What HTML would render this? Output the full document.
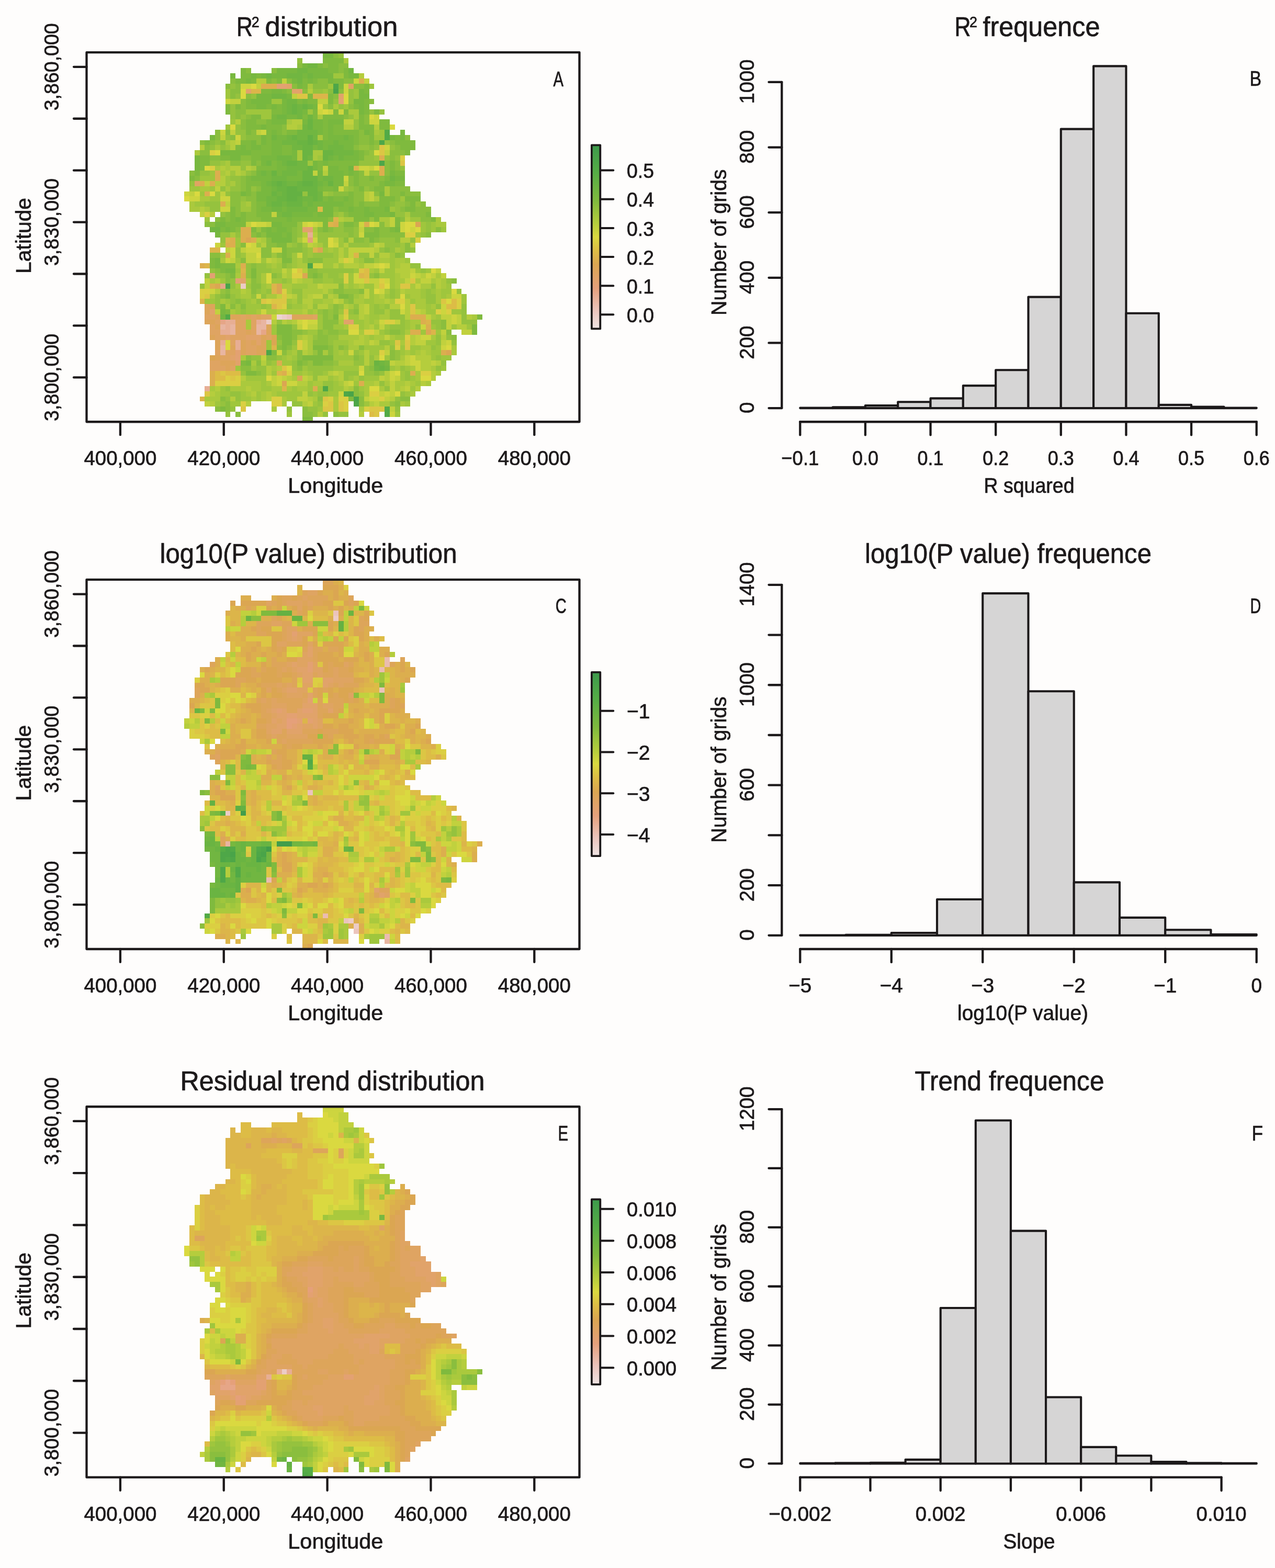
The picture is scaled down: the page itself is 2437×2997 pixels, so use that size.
<!DOCTYPE html><html><head><meta charset="utf-8"><title>Figure</title><style>html,body{margin:0;padding:0;background:#fefdfc}svg{display:block}text{font-family:"Liberation Sans", sans-serif;fill:#1c191a;stroke:#1c191a;stroke-width:0.7px;stroke-linejoin:round}</style></head><body>
<svg width="2437" height="2997" viewBox="0 0 2437 2997">
<rect width="2437" height="2997" fill="#fefdfc"/>
<g transform="translate(0,0)">
<clipPath id="cpa"><rect x="165.5" y="100.2" width="942.0" height="706.05"/></clipPath>
<g clip-path="url(#cpa)"><g transform="translate(352.05,100.9) scale(9.822,9.8)" shape-rendering="crispEdges">
<path fill="#ecd4d0" d="M18 51h1v1h-1z"/>
<path fill="#ecccc6" d="M11 45h1v1h-1zM19 51h1v1h-1zM16 52h1v1h-1z"/>
<path fill="#ebc4bc" d="M20 51h1v1h-1z"/>
<path fill="#e8b5a1" d="M15 52h1v1h-1zM7 53h1v1h-1zM9 53h1v1h-1zM14 53h2v1h-2zM9 54h1v1h-1zM14 54h1v1h-1zM7 57h1v1h-1zM7 58h1v1h-1z"/>
<path fill="#e7ae94" d="M24 35h1v1h-1zM8 52h2v1h-2zM14 52h1v1h-1zM8 53h1v1h-1zM7 54h2v1h-2zM7 56h1v1h-1zM10 56h1v1h-1zM10 57h1v1h-1zM4 65h1v1h-1z"/>
<path fill="#e6a687" d="M7 45h1v1h-1zM7 52h1v1h-1zM15 54h1v1h-1z"/>
<path fill="#e5a07a" d="M24 36h1v1h-1z"/>
<path fill="#e3a172" d="M18 6h2v1h-2zM30 9h1v1h-1zM24 34h1v1h-1zM5 43h1v1h-1zM10 44h1v1h-1zM10 58h1v1h-1zM10 59h1v1h-1z"/>
<path fill="#e1a36a" d="M20 6h1v1h-1zM12 7h1v1h-1zM21 7h2v1h-2zM30 8h1v1h-1zM23 34h1v1h-1zM11 44h1v1h-1zM5 50h1v1h-1zM31 52h2v1h-2zM8 55h1v1h-1zM12 55h3v1h-3zM14 56h1v1h-1zM9 59h1v1h-1zM10 60h1v1h-1z"/>
<path fill="#dfa462" d="M32 6h1v1h-1zM2 25h1v1h-1zM4 51h2v1h-2zM11 51h1v1h-1zM13 51h1v1h-1zM15 51h2v1h-2zM25 51h1v1h-1zM6 52h1v1h-1zM10 52h2v1h-2zM13 52h1v1h-1zM5 53h1v1h-1zM10 53h2v1h-2zM13 53h1v1h-1zM5 54h2v1h-2zM10 54h2v1h-2zM13 54h1v1h-1zM6 55h2v1h-2zM9 55h3v1h-3zM16 55h1v1h-1zM9 56h1v1h-1zM12 56h1v1h-1zM12 57h2v1h-2zM6 58h1v1h-1zM8 58h2v1h-2zM12 58h2v1h-2zM7 59h2v1h-2zM5 60h2v1h-2zM5 61h3v1h-3zM9 61h1v1h-1z"/>
<path fill="#dda55a" d="M4 49h2v1h-2zM4 50h1v1h-1zM6 51h1v1h-1zM9 51h2v1h-2zM12 51h1v1h-1zM14 51h1v1h-1zM21 51h4v1h-4zM4 52h2v1h-2zM6 53h1v1h-1zM16 53h1v1h-1zM12 54h1v1h-1zM16 54h1v1h-1zM5 55h1v1h-1zM15 55h1v1h-1zM6 56h1v1h-1zM11 56h1v1h-1zM13 56h1v1h-1zM15 56h1v1h-1zM6 57h1v1h-1zM9 57h1v1h-1zM11 57h1v1h-1zM14 57h2v1h-2zM11 58h1v1h-1zM14 58h2v1h-2zM6 59h1v1h-1zM7 60h3v1h-3zM8 61h1v1h-1z"/>
<path fill="#dba652" d="M45 33h1v1h-1zM12 36h1v1h-1zM26 38h1v1h-1zM23 43h1v1h-1zM6 45h1v1h-1zM18 45h1v1h-1zM18 46h1v1h-1zM47 54h1v1h-1zM17 55h1v1h-1zM17 56h1v1h-1zM51 58h1v1h-1zM5 59h1v1h-1zM22 63h1v1h-1zM19 64h1v1h-1z"/>
<path fill="#dcae4e" d="M34 5h1v1h-1zM15 6h3v1h-3zM38 20h1v1h-1zM38 22h1v1h-1zM6 23h1v1h-1zM38 23h1v1h-1zM6 24h1v1h-1zM3 25h1v1h-1zM5 25h1v1h-1zM4 27h1v1h-1zM7 29h1v1h-1zM29 33h1v1h-1zM35 33h1v1h-1zM11 34h2v1h-2zM11 35h2v1h-2zM9 36h1v1h-1zM11 36h1v1h-1zM13 36h1v1h-1zM8 37h2v1h-2zM8 39h1v1h-1zM3 41h1v1h-1zM11 41h1v1h-1zM11 43h1v1h-1zM5 45h1v1h-1zM44 51h3v1h-3zM46 52h1v1h-1zM47 53h1v1h-1zM44 54h2v1h-2zM50 58h1v1h-1zM18 60h1v1h-1zM5 62h1v1h-1zM19 62h1v1h-1zM44 62h1v1h-1zM5 63h1v1h-1zM5 64h1v1h-1zM34 64h1v1h-1zM25 65h1v1h-1z"/>
<path fill="#dcb54a" d="M13 7h2v1h-2zM25 8h3v1h-3zM33 22h1v1h-1zM29 32h1v1h-1zM28 33h1v1h-1zM8 36h1v1h-1zM5 38h2v1h-2zM25 38h1v1h-1zM33 39h1v1h-1zM4 41h1v1h-1zM11 42h1v1h-1zM34 43h1v1h-1zM17 45h1v1h-1zM17 46h1v1h-1zM3 48h1v1h-1zM17 49h1v1h-1zM47 52h1v1h-1zM48 54h1v1h-1zM17 57h1v1h-1zM18 62h1v1h-1zM19 65h1v1h-1zM3 67h1v1h-1z"/>
<path fill="#ddbc46" d="M26 30h1v1h-1zM35 42h1v1h-1zM35 43h1v1h-1zM52 48h1v1h-1zM51 49h2v1h-2zM6 62h1v1h-1zM8 62h3v1h-3zM6 63h2v1h-2zM36 70h1v1h-1z"/>
<path fill="#dcc644" d="M22 8h2v1h-2zM38 18h1v1h-1zM38 19h1v1h-1zM42 21h1v1h-1zM22 42h1v1h-1zM34 42h1v1h-1zM35 44h1v1h-1zM44 44h1v1h-1zM38 45h1v1h-1zM42 45h2v1h-2zM4 47h1v1h-1zM19 47h1v1h-1zM15 48h1v1h-1zM17 48h3v1h-3zM50 48h1v1h-1zM18 49h1v1h-1zM44 49h1v1h-1zM31 50h1v1h-1zM44 50h1v1h-1zM41 56h1v1h-1zM43 56h1v1h-1zM43 57h1v1h-1zM19 61h1v1h-1zM7 62h1v1h-1zM9 63h1v1h-1zM4 66h1v1h-1zM27 67h1v1h-1zM28 68h1v1h-1zM30 68h1v1h-1zM11 69h1v1h-1zM27 69h2v1h-2zM30 69h1v1h-1zM36 69h3v1h-3zM37 70h1v1h-1z"/>
<path fill="#dbcf42" d="M5 19h1v1h-1zM42 20h1v1h-1zM5 22h1v1h-1zM4 31h1v1h-1zM43 35h2v1h-2zM45 36h1v1h-1zM31 40h1v1h-1zM21 43h2v1h-2zM31 43h1v1h-1zM31 44h1v1h-1zM38 44h1v1h-1zM3 46h2v1h-2zM19 46h1v1h-1zM3 47h1v1h-1zM16 48h1v1h-1zM41 48h2v1h-2zM53 48h1v1h-1zM19 49h1v1h-1zM53 49h1v1h-1zM49 50h1v1h-1zM51 50h1v1h-1zM31 51h1v1h-1zM39 52h2v1h-2zM32 53h2v1h-2zM35 54h2v1h-2zM43 55h1v1h-1zM22 56h1v1h-1zM22 57h1v1h-1zM41 57h1v1h-1zM38 58h1v1h-1zM20 62h1v1h-1zM46 62h2v1h-2zM8 63h1v1h-1zM10 63h1v1h-1zM6 64h5v1h-5zM36 66h2v1h-2zM17 67h2v1h-2zM28 67h1v1h-1zM30 67h2v1h-2zM38 67h1v1h-1zM11 68h1v1h-1zM17 68h2v1h-2zM27 68h1v1h-1zM31 68h1v1h-1zM31 69h1v1h-1zM35 69h1v1h-1z"/>
<path fill="#dad940" d="M13 6h1v1h-1zM11 7h1v1h-1zM11 8h1v1h-1zM31 8h1v1h-1zM31 9h1v1h-1zM26 10h1v1h-1zM27 11h1v1h-1zM36 12h1v1h-1zM9 14h1v1h-1zM40 14h1v1h-1zM6 19h1v1h-1zM37 19h1v1h-1zM4 22h1v1h-1zM37 22h1v1h-1zM2 27h1v1h-1zM5 27h1v1h-1zM0 28h1v1h-1zM13 33h1v1h-1zM24 33h1v1h-1zM36 33h1v1h-1zM43 33h2v1h-2zM43 34h1v1h-1zM45 34h1v1h-1zM28 36h1v1h-1zM12 37h1v1h-1zM28 37h1v1h-1zM14 39h1v1h-1zM38 41h1v1h-1zM21 42h1v1h-1zM48 42h1v1h-1zM16 43h1v1h-1zM16 44h1v1h-1zM39 45h1v1h-1zM37 46h1v1h-1zM52 46h1v1h-1zM42 47h1v1h-1zM51 48h1v1h-1zM42 49h1v1h-1zM23 52h1v1h-1zM23 53h1v1h-1zM32 54h2v1h-2zM8 56h1v1h-1zM8 57h1v1h-1zM51 57h1v1h-1zM38 59h1v1h-1zM20 61h1v1h-1zM34 62h1v1h-1zM41 62h1v1h-1zM16 63h1v1h-1zM46 63h2v1h-2zM36 65h2v1h-2zM41 66h1v1h-1z"/>
<path fill="#cdd53f" d="M33 5h1v1h-1zM11 6h2v1h-2zM31 6h1v1h-1zM31 7h1v1h-1zM8 9h1v1h-1zM26 11h1v1h-1zM28 11h1v1h-1zM30 11h1v1h-1zM37 12h1v1h-1zM36 13h2v1h-2zM7 15h1v1h-1zM15 15h1v1h-1zM10 16h1v1h-1zM39 18h1v1h-1zM34 22h2v1h-2zM31 24h1v1h-1zM30 26h1v1h-1zM0 27h1v1h-1zM1 28h2v1h-2zM7 28h2v1h-2zM7 30h2v1h-2zM14 33h2v1h-2zM23 33h1v1h-1zM25 33h1v1h-1zM34 33h1v1h-1zM37 33h1v1h-1zM42 33h1v1h-1zM42 34h1v1h-1zM44 34h1v1h-1zM34 35h1v1h-1zM23 36h1v1h-1zM25 36h1v1h-1zM6 37h1v1h-1zM13 37h1v1h-1zM29 37h1v1h-1zM9 38h1v1h-1zM12 38h3v1h-3zM17 38h2v1h-2zM9 39h1v1h-1zM22 39h1v1h-1zM8 40h1v1h-1zM14 40h1v1h-1zM32 40h1v1h-1zM25 41h2v1h-2zM37 41h1v1h-1zM39 41h1v1h-1zM33 43h1v1h-1zM44 43h1v1h-1zM47 43h1v1h-1zM33 44h2v1h-2zM39 44h1v1h-1zM5 46h1v1h-1zM38 46h1v1h-1zM14 47h1v1h-1zM52 47h2v1h-2zM50 49h1v1h-1zM15 50h1v1h-1zM42 50h1v1h-1zM50 50h1v1h-1zM17 51h1v1h-1zM52 51h1v1h-1zM22 52h1v1h-1zM24 52h2v1h-2zM38 52h1v1h-1zM52 52h1v1h-1zM46 53h1v1h-1zM46 55h2v1h-2zM51 56h1v1h-1zM50 57h1v1h-1zM18 58h1v1h-1zM32 58h1v1h-1zM44 59h1v1h-1zM44 60h2v1h-2zM34 61h1v1h-1zM45 61h1v1h-1zM40 62h1v1h-1zM18 63h1v1h-1zM40 63h1v1h-1zM18 64h1v1h-1zM20 64h2v1h-2zM32 64h1v1h-1zM30 66h1v1h-1zM39 66h1v1h-1zM36 67h2v1h-2zM40 70h1v1h-1z"/>
<path fill="#c1d13e" d="M19 5h1v1h-1zM35 5h1v1h-1zM14 6h1v1h-1zM21 8h1v1h-1zM9 9h2v1h-2zM26 9h2v1h-2zM31 13h2v1h-2zM9 15h1v1h-1zM14 15h1v1h-1zM7 16h1v1h-1zM10 17h1v1h-1zM39 19h1v1h-1zM27 22h1v1h-1zM36 22h1v1h-1zM25 23h1v1h-1zM35 23h1v1h-1zM4 25h1v1h-1zM31 25h1v1h-1zM6 26h1v1h-1zM1 27h1v1h-1zM7 27h1v1h-1zM36 27h1v1h-1zM36 28h1v1h-1zM8 29h1v1h-1zM3 31h1v1h-1zM17 31h1v1h-1zM40 32h1v1h-1zM12 33h1v1h-1zM16 33h1v1h-1zM26 33h1v1h-1zM40 33h1v1h-1zM34 34h1v1h-1zM29 36h1v1h-1zM24 37h1v1h-1zM37 37h1v1h-1zM8 38h1v1h-1zM11 38h1v1h-1zM32 38h5v1h-5zM12 39h2v1h-2zM32 39h1v1h-1zM36 39h1v1h-1zM9 40h1v1h-1zM12 40h2v1h-2zM16 40h1v1h-1zM30 40h1v1h-1zM35 41h2v1h-2zM19 42h1v1h-1zM38 42h1v1h-1zM44 42h1v1h-1zM49 42h1v1h-1zM45 43h1v1h-1zM48 43h1v1h-1zM50 43h1v1h-1zM4 44h1v1h-1zM21 44h1v1h-1zM36 44h2v1h-2zM43 44h1v1h-1zM46 44h2v1h-2zM4 45h1v1h-1zM26 45h1v1h-1zM37 45h1v1h-1zM45 45h1v1h-1zM35 46h1v1h-1zM18 47h1v1h-1zM20 47h1v1h-1zM25 47h2v1h-2zM35 47h1v1h-1zM29 48h1v1h-1zM35 49h1v1h-1zM6 50h1v1h-1zM35 50h1v1h-1zM45 50h1v1h-1zM47 51h1v1h-1zM50 51h2v1h-2zM53 51h1v1h-1zM41 52h1v1h-1zM51 52h1v1h-1zM53 52h1v1h-1zM22 53h1v1h-1zM24 53h2v1h-2zM38 53h1v1h-1zM51 53h1v1h-1zM37 54h1v1h-1zM50 54h1v1h-1zM54 54h2v1h-2zM39 55h1v1h-1zM45 55h1v1h-1zM23 56h1v1h-1zM36 56h1v1h-1zM45 56h2v1h-2zM50 56h1v1h-1zM23 57h1v1h-1zM39 58h1v1h-1zM15 59h1v1h-1zM43 59h1v1h-1zM40 60h1v1h-1zM43 60h1v1h-1zM48 60h1v1h-1zM29 62h1v1h-1zM17 63h1v1h-1zM19 63h1v1h-1zM23 63h1v1h-1zM38 63h1v1h-1zM41 63h1v1h-1zM17 64h1v1h-1zM31 64h1v1h-1zM40 64h1v1h-1zM40 65h1v1h-1zM43 65h1v1h-1zM23 66h1v1h-1zM38 66h1v1h-1zM40 66h1v1h-1zM22 67h2v1h-2zM35 67h1v1h-1zM39 67h1v1h-1zM4 68h1v1h-1zM24 68h1v1h-1zM37 68h1v1h-1zM40 69h1v1h-1z"/>
<path fill="#b5cd3d" d="M34 4h1v1h-1zM14 5h2v1h-2zM24 7h1v1h-1zM10 13h1v1h-1zM21 13h2v1h-2zM20 14h2v1h-2zM31 14h2v1h-2zM37 14h1v1h-1zM9 17h1v1h-1zM3 18h1v1h-1zM9 18h1v1h-1zM7 22h1v1h-1zM9 22h2v1h-2zM12 22h1v1h-1zM8 23h1v1h-1zM10 23h1v1h-1zM27 23h1v1h-1zM7 24h1v1h-1zM6 25h2v1h-2zM35 27h1v1h-1zM35 28h1v1h-1zM3 30h1v1h-1zM5 31h1v1h-1zM30 32h1v1h-1zM43 32h1v1h-1zM23 35h1v1h-1zM25 35h1v1h-1zM14 36h1v1h-1zM32 36h1v1h-1zM42 36h2v1h-2zM15 37h1v1h-1zM25 37h1v1h-1zM31 37h1v1h-1zM38 37h1v1h-1zM44 37h1v1h-1zM30 38h1v1h-1zM37 38h1v1h-1zM30 39h1v1h-1zM38 39h2v1h-2zM17 40h1v1h-1zM29 41h1v1h-1zM31 41h3v1h-3zM42 41h2v1h-2zM23 42h1v1h-1zM41 42h3v1h-3zM19 43h1v1h-1zM42 43h2v1h-2zM46 43h1v1h-1zM6 44h1v1h-1zM22 44h1v1h-1zM49 44h1v1h-1zM27 45h3v1h-3zM34 45h1v1h-1zM49 45h1v1h-1zM6 46h1v1h-1zM11 46h1v1h-1zM27 46h1v1h-1zM42 46h1v1h-1zM21 47h1v1h-1zM24 47h1v1h-1zM28 47h1v1h-1zM38 47h1v1h-1zM23 48h2v1h-2zM30 48h1v1h-1zM39 48h1v1h-1zM43 48h1v1h-1zM24 49h1v1h-1zM26 49h2v1h-2zM31 49h1v1h-1zM34 49h1v1h-1zM40 49h2v1h-2zM43 49h1v1h-1zM18 50h2v1h-2zM23 50h1v1h-1zM34 50h1v1h-1zM43 50h1v1h-1zM46 50h1v1h-1zM30 51h1v1h-1zM34 51h1v1h-1zM43 51h1v1h-1zM55 51h1v1h-1zM17 52h1v1h-1zM19 52h1v1h-1zM21 52h1v1h-1zM36 53h1v1h-1zM53 53h2v1h-2zM23 55h1v1h-1zM34 55h1v1h-1zM44 55h1v1h-1zM50 55h1v1h-1zM33 56h2v1h-2zM37 56h1v1h-1zM44 56h1v1h-1zM39 57h1v1h-1zM23 58h1v1h-1zM35 58h1v1h-1zM46 58h1v1h-1zM35 59h1v1h-1zM45 59h3v1h-3zM15 60h1v1h-1zM35 60h1v1h-1zM41 60h2v1h-2zM46 60h2v1h-2zM49 60h1v1h-1zM16 61h1v1h-1zM18 61h1v1h-1zM46 61h2v1h-2zM16 62h1v1h-1zM28 62h1v1h-1zM30 62h1v1h-1zM39 62h1v1h-1zM48 62h1v1h-1zM11 63h1v1h-1zM20 63h1v1h-1zM24 63h1v1h-1zM26 63h2v1h-2zM30 63h1v1h-1zM39 63h1v1h-1zM48 63h1v1h-1zM22 64h2v1h-2zM37 64h1v1h-1zM43 64h1v1h-1zM46 64h1v1h-1zM6 65h1v1h-1zM12 65h1v1h-1zM31 65h1v1h-1zM42 65h1v1h-1zM45 65h1v1h-1zM5 66h1v1h-1zM13 66h1v1h-1zM16 66h1v1h-1zM9 67h1v1h-1zM16 67h1v1h-1zM24 67h1v1h-1zM40 67h1v1h-1zM5 68h1v1h-1zM12 68h1v1h-1zM23 68h1v1h-1zM36 68h1v1h-1zM26 70h1v1h-1zM34 70h1v1h-1z"/>
<path fill="#aac93d" d="M31 1h1v1h-1zM24 6h1v1h-1zM29 10h1v1h-1zM32 11h2v1h-2zM26 12h1v1h-1zM33 12h1v1h-1zM20 13h1v1h-1zM22 14h1v1h-1zM37 15h1v1h-1zM26 16h1v1h-1zM8 17h1v1h-1zM6 18h1v1h-1zM2 19h1v1h-1zM22 19h1v1h-1zM25 19h2v1h-2zM22 20h1v1h-1zM25 20h1v1h-1zM8 21h1v1h-1zM6 22h1v1h-1zM8 22h1v1h-1zM13 22h1v1h-1zM7 23h1v1h-1zM11 23h1v1h-1zM9 25h1v1h-1zM3 26h2v1h-2zM8 26h1v1h-1zM39 26h1v1h-1zM39 27h1v1h-1zM3 28h2v1h-2zM37 28h1v1h-1zM1 29h1v1h-1zM12 29h1v1h-1zM1 30h2v1h-2zM4 30h1v1h-1zM43 31h1v1h-1zM31 32h2v1h-2zM38 32h2v1h-2zM49 32h1v1h-1zM39 33h1v1h-1zM49 33h2v1h-2zM25 34h1v1h-1zM9 35h1v1h-1zM15 36h1v1h-1zM22 36h1v1h-1zM26 37h1v1h-1zM28 38h1v1h-1zM41 38h1v1h-1zM7 40h1v1h-1zM18 40h1v1h-1zM22 40h1v1h-1zM33 40h1v1h-1zM38 40h2v1h-2zM41 40h2v1h-2zM10 41h1v1h-1zM17 41h1v1h-1zM22 41h2v1h-2zM34 41h1v1h-1zM41 41h1v1h-1zM20 42h1v1h-1zM36 42h1v1h-1zM10 43h1v1h-1zM15 43h1v1h-1zM20 43h1v1h-1zM41 43h1v1h-1zM49 43h1v1h-1zM5 44h1v1h-1zM12 44h1v1h-1zM15 44h1v1h-1zM23 44h2v1h-2zM41 44h2v1h-2zM45 44h1v1h-1zM48 44h1v1h-1zM50 44h1v1h-1zM10 45h1v1h-1zM16 45h1v1h-1zM19 45h2v1h-2zM24 45h2v1h-2zM31 45h1v1h-1zM33 45h1v1h-1zM41 45h1v1h-1zM44 45h1v1h-1zM46 45h2v1h-2zM50 45h1v1h-1zM12 46h1v1h-1zM20 46h1v1h-1zM23 46h4v1h-4zM39 46h1v1h-1zM43 46h3v1h-3zM49 46h1v1h-1zM5 47h1v1h-1zM11 47h2v1h-2zM16 47h2v1h-2zM23 47h1v1h-1zM29 47h1v1h-1zM34 47h1v1h-1zM37 47h1v1h-1zM44 47h2v1h-2zM49 47h1v1h-1zM51 47h1v1h-1zM7 48h1v1h-1zM13 48h1v1h-1zM21 48h1v1h-1zM27 48h2v1h-2zM33 48h2v1h-2zM37 48h2v1h-2zM40 48h1v1h-1zM45 48h2v1h-2zM49 48h1v1h-1zM8 49h1v1h-1zM23 49h1v1h-1zM32 49h1v1h-1zM45 49h2v1h-2zM48 49h1v1h-1zM9 50h1v1h-1zM14 50h1v1h-1zM16 50h2v1h-2zM20 50h3v1h-3zM25 50h1v1h-1zM39 50h1v1h-1zM35 51h1v1h-1zM38 51h2v1h-2zM48 51h1v1h-1zM56 51h1v1h-1zM12 52h1v1h-1zM20 52h1v1h-1zM30 52h1v1h-1zM35 52h1v1h-1zM37 52h1v1h-1zM44 52h2v1h-2zM12 53h1v1h-1zM31 53h1v1h-1zM35 53h1v1h-1zM44 53h1v1h-1zM34 54h1v1h-1zM43 54h1v1h-1zM22 55h1v1h-1zM24 55h1v1h-1zM30 55h4v1h-4zM35 55h1v1h-1zM37 55h2v1h-2zM40 55h1v1h-1zM48 55h1v1h-1zM24 56h1v1h-1zM32 56h1v1h-1zM35 56h1v1h-1zM42 56h1v1h-1zM24 57h1v1h-1zM32 57h2v1h-2zM46 57h2v1h-2zM52 57h1v1h-1zM21 58h1v1h-1zM24 58h1v1h-1zM27 58h1v1h-1zM30 58h1v1h-1zM43 58h1v1h-1zM45 58h1v1h-1zM47 58h1v1h-1zM52 58h1v1h-1zM11 59h1v1h-1zM20 59h1v1h-1zM37 59h1v1h-1zM42 59h1v1h-1zM13 60h1v1h-1zM30 60h3v1h-3zM17 61h1v1h-1zM41 61h1v1h-1zM44 61h1v1h-1zM48 61h1v1h-1zM23 62h1v1h-1zM45 62h1v1h-1zM49 62h1v1h-1zM21 63h1v1h-1zM29 63h1v1h-1zM33 63h1v1h-1zM45 63h1v1h-1zM11 64h4v1h-4zM16 64h1v1h-1zM25 64h2v1h-2zM30 64h1v1h-1zM35 64h2v1h-2zM39 64h1v1h-1zM41 64h2v1h-2zM44 64h1v1h-1zM47 64h1v1h-1zM5 65h1v1h-1zM9 65h3v1h-3zM13 65h2v1h-2zM17 65h2v1h-2zM20 65h1v1h-1zM22 65h2v1h-2zM32 65h1v1h-1zM35 65h1v1h-1zM38 65h1v1h-1zM41 65h1v1h-1zM6 66h1v1h-1zM12 66h1v1h-1zM15 66h1v1h-1zM17 66h1v1h-1zM35 66h1v1h-1zM44 66h1v1h-1zM4 67h3v1h-3zM13 67h1v1h-1zM15 67h1v1h-1zM19 67h1v1h-1zM25 67h1v1h-1zM29 67h1v1h-1zM19 68h1v1h-1zM29 68h1v1h-1zM38 68h2v1h-2zM42 68h1v1h-1zM17 69h1v1h-1zM29 69h1v1h-1zM34 69h1v1h-1z"/>
<path fill="#9fc63d" d="M29 4h2v1h-2zM28 6h1v1h-1zM36 6h1v1h-1zM8 7h1v1h-1zM27 7h1v1h-1zM33 7h1v1h-1zM8 8h1v1h-1zM33 8h1v1h-1zM17 9h2v1h-2zM27 10h1v1h-1zM31 10h1v1h-1zM12 11h5v1h-5zM24 11h1v1h-1zM15 12h2v1h-2zM9 13h1v1h-1zM8 14h1v1h-1zM38 15h1v1h-1zM37 16h2v1h-2zM8 18h1v1h-1zM26 20h1v1h-1zM37 20h1v1h-1zM7 21h1v1h-1zM24 21h1v1h-1zM5 23h1v1h-1zM9 23h1v1h-1zM3 24h3v1h-3zM8 24h1v1h-1zM8 25h1v1h-1zM1 26h2v1h-2zM5 26h1v1h-1zM31 26h1v1h-1zM3 27h1v1h-1zM6 27h1v1h-1zM27 27h1v1h-1zM5 28h2v1h-2zM42 28h1v1h-1zM2 29h2v1h-2zM11 29h1v1h-1zM11 30h2v1h-2zM40 30h1v1h-1zM30 31h1v1h-1zM4 32h1v1h-1zM44 32h2v1h-2zM46 33h1v1h-1zM48 33h1v1h-1zM46 34h1v1h-1zM48 34h1v1h-1zM50 34h1v1h-1zM45 35h1v1h-1zM10 36h1v1h-1zM30 36h1v1h-1zM7 37h1v1h-1zM10 37h1v1h-1zM14 37h1v1h-1zM20 37h1v1h-1zM23 37h1v1h-1zM30 37h1v1h-1zM36 37h1v1h-1zM42 37h1v1h-1zM24 38h1v1h-1zM27 38h1v1h-1zM29 38h1v1h-1zM31 38h1v1h-1zM42 38h1v1h-1zM7 39h1v1h-1zM11 39h1v1h-1zM17 39h1v1h-1zM21 39h1v1h-1zM24 39h1v1h-1zM29 39h1v1h-1zM31 39h1v1h-1zM40 39h1v1h-1zM10 40h1v1h-1zM15 40h1v1h-1zM21 40h1v1h-1zM27 40h3v1h-3zM34 40h1v1h-1zM37 40h1v1h-1zM40 40h1v1h-1zM43 40h1v1h-1zM16 41h1v1h-1zM18 41h1v1h-1zM21 41h1v1h-1zM27 41h2v1h-2zM30 41h1v1h-1zM40 41h1v1h-1zM10 42h1v1h-1zM17 42h2v1h-2zM33 42h1v1h-1zM37 42h1v1h-1zM39 42h2v1h-2zM45 42h1v1h-1zM47 42h1v1h-1zM27 43h1v1h-1zM30 43h1v1h-1zM32 43h1v1h-1zM38 43h3v1h-3zM7 44h1v1h-1zM17 44h2v1h-2zM20 44h1v1h-1zM27 44h2v1h-2zM32 44h1v1h-1zM40 44h1v1h-1zM12 45h1v1h-1zM15 45h1v1h-1zM21 45h3v1h-3zM32 45h1v1h-1zM35 45h2v1h-2zM40 45h1v1h-1zM51 45h1v1h-1zM9 46h2v1h-2zM15 46h1v1h-1zM28 46h1v1h-1zM36 46h1v1h-1zM41 46h1v1h-1zM46 46h1v1h-1zM48 46h1v1h-1zM50 46h2v1h-2zM10 47h1v1h-1zM33 47h1v1h-1zM36 47h1v1h-1zM39 47h1v1h-1zM41 47h1v1h-1zM43 47h1v1h-1zM46 47h1v1h-1zM50 47h1v1h-1zM54 47h1v1h-1zM4 48h2v1h-2zM8 48h1v1h-1zM12 48h1v1h-1zM20 48h1v1h-1zM25 48h2v1h-2zM35 48h2v1h-2zM44 48h1v1h-1zM54 48h1v1h-1zM10 49h1v1h-1zM12 49h3v1h-3zM16 49h1v1h-1zM21 49h2v1h-2zM28 49h1v1h-1zM36 49h1v1h-1zM38 49h1v1h-1zM47 49h1v1h-1zM10 50h1v1h-1zM12 50h2v1h-2zM24 50h1v1h-1zM30 50h1v1h-1zM36 50h1v1h-1zM47 50h2v1h-2zM52 50h2v1h-2zM26 51h1v1h-1zM32 51h2v1h-2zM36 51h2v1h-2zM49 51h1v1h-1zM26 52h1v1h-1zM33 52h2v1h-2zM36 52h1v1h-1zM43 52h1v1h-1zM17 53h1v1h-1zM26 53h1v1h-1zM29 53h2v1h-2zM34 53h1v1h-1zM37 53h1v1h-1zM39 53h1v1h-1zM43 53h1v1h-1zM48 53h1v1h-1zM52 53h1v1h-1zM55 53h1v1h-1zM17 54h1v1h-1zM24 54h2v1h-2zM38 54h1v1h-1zM46 54h1v1h-1zM49 54h1v1h-1zM36 55h1v1h-1zM41 55h2v1h-2zM16 56h1v1h-1zM29 56h3v1h-3zM40 56h1v1h-1zM47 56h2v1h-2zM16 57h1v1h-1zM21 57h1v1h-1zM29 57h1v1h-1zM35 57h4v1h-4zM42 57h1v1h-1zM44 57h2v1h-2zM49 57h1v1h-1zM20 58h1v1h-1zM29 58h1v1h-1zM31 58h1v1h-1zM34 58h1v1h-1zM36 58h2v1h-2zM42 58h1v1h-1zM44 58h1v1h-1zM48 58h2v1h-2zM19 59h1v1h-1zM21 59h1v1h-1zM29 59h4v1h-4zM39 59h1v1h-1zM48 59h1v1h-1zM50 59h2v1h-2zM17 60h1v1h-1zM19 60h2v1h-2zM10 61h1v1h-1zM13 61h1v1h-1zM23 61h1v1h-1zM29 61h5v1h-5zM40 61h1v1h-1zM43 61h1v1h-1zM50 61h1v1h-1zM17 62h1v1h-1zM21 62h2v1h-2zM24 62h1v1h-1zM27 62h1v1h-1zM42 62h1v1h-1zM12 63h4v1h-4zM28 63h1v1h-1zM32 63h1v1h-1zM35 63h3v1h-3zM42 63h1v1h-1zM44 63h1v1h-1zM15 64h1v1h-1zM24 64h1v1h-1zM29 64h1v1h-1zM33 64h1v1h-1zM45 64h1v1h-1zM7 65h1v1h-1zM15 65h2v1h-2zM21 65h1v1h-1zM24 65h1v1h-1zM26 65h1v1h-1zM29 65h2v1h-2zM34 65h1v1h-1zM44 65h1v1h-1zM7 66h2v1h-2zM11 66h1v1h-1zM14 66h1v1h-1zM18 66h5v1h-5zM25 66h1v1h-1zM28 66h2v1h-2zM43 66h1v1h-1zM11 67h2v1h-2zM14 67h1v1h-1zM20 67h2v1h-2zM6 68h1v1h-1zM9 68h2v1h-2zM25 68h1v1h-1zM35 68h1v1h-1zM43 68h1v1h-1zM26 69h1v1h-1zM20 70h1v1h-1zM41 70h1v1h-1z"/>
<path fill="#95c23e" d="M30 0h1v1h-1zM22 1h1v1h-1zM9 6h1v1h-1zM25 7h2v1h-2zM32 7h1v1h-1zM10 8h1v1h-1zM13 8h1v1h-1zM32 8h1v1h-1zM29 9h1v1h-1zM32 9h1v1h-1zM9 10h1v1h-1zM30 10h1v1h-1zM9 11h1v1h-1zM36 11h1v1h-1zM38 11h1v1h-1zM9 12h1v1h-1zM11 12h1v1h-1zM32 12h1v1h-1zM33 13h1v1h-1zM10 14h1v1h-1zM33 14h1v1h-1zM10 15h2v1h-2zM8 16h1v1h-1zM11 16h1v1h-1zM6 17h1v1h-1zM39 17h1v1h-1zM5 18h1v1h-1zM7 18h1v1h-1zM34 18h2v1h-2zM37 18h1v1h-1zM40 18h1v1h-1zM36 19h1v1h-1zM35 20h2v1h-2zM39 20h1v1h-1zM41 20h1v1h-1zM5 21h2v1h-2zM11 21h2v1h-2zM34 21h4v1h-4zM11 22h1v1h-1zM42 22h1v1h-1zM3 23h2v1h-2zM12 23h1v1h-1zM36 23h2v1h-2zM9 24h2v1h-2zM1 25h1v1h-1zM10 25h1v1h-1zM7 26h1v1h-1zM9 26h2v1h-2zM13 26h1v1h-1zM32 26h1v1h-1zM35 26h1v1h-1zM8 27h1v1h-1zM23 27h1v1h-1zM28 27h1v1h-1zM11 28h1v1h-1zM4 29h3v1h-3zM41 29h2v1h-2zM45 29h1v1h-1zM5 30h2v1h-2zM41 30h1v1h-1zM7 31h1v1h-1zM29 31h1v1h-1zM41 31h2v1h-2zM36 32h1v1h-1zM22 33h1v1h-1zM30 33h1v1h-1zM47 33h1v1h-1zM14 34h1v1h-1zM22 34h1v1h-1zM29 34h2v1h-2zM33 34h1v1h-1zM47 34h1v1h-1zM7 35h2v1h-2zM10 35h1v1h-1zM22 35h1v1h-1zM26 35h6v1h-6zM33 35h1v1h-1zM46 35h1v1h-1zM7 36h1v1h-1zM26 36h2v1h-2zM35 36h1v1h-1zM38 36h3v1h-3zM44 36h1v1h-1zM21 37h1v1h-1zM27 37h1v1h-1zM32 37h4v1h-4zM39 37h3v1h-3zM10 38h1v1h-1zM23 38h1v1h-1zM38 38h1v1h-1zM40 38h1v1h-1zM44 38h1v1h-1zM10 39h1v1h-1zM23 39h1v1h-1zM25 39h4v1h-4zM34 39h2v1h-2zM37 39h1v1h-1zM42 39h1v1h-1zM23 40h1v1h-1zM12 41h1v1h-1zM14 41h2v1h-2zM20 41h1v1h-1zM44 41h2v1h-2zM5 42h1v1h-1zM12 42h1v1h-1zM14 42h3v1h-3zM26 42h7v1h-7zM46 42h1v1h-1zM4 43h1v1h-1zM6 43h2v1h-2zM12 43h1v1h-1zM14 43h1v1h-1zM18 43h1v1h-1zM28 43h2v1h-2zM36 43h1v1h-1zM9 44h1v1h-1zM14 44h1v1h-1zM19 44h1v1h-1zM25 44h2v1h-2zM29 44h2v1h-2zM51 44h1v1h-1zM3 45h1v1h-1zM9 45h1v1h-1zM48 45h1v1h-1zM7 46h1v1h-1zM14 46h1v1h-1zM16 46h1v1h-1zM21 46h2v1h-2zM31 46h3v1h-3zM40 46h1v1h-1zM47 46h1v1h-1zM53 46h1v1h-1zM6 47h1v1h-1zM9 47h1v1h-1zM13 47h1v1h-1zM15 47h1v1h-1zM22 47h1v1h-1zM27 47h1v1h-1zM40 47h1v1h-1zM47 47h2v1h-2zM6 48h1v1h-1zM9 48h1v1h-1zM11 48h1v1h-1zM14 48h1v1h-1zM22 48h1v1h-1zM31 48h1v1h-1zM47 48h2v1h-2zM6 49h1v1h-1zM15 49h1v1h-1zM20 49h1v1h-1zM25 49h1v1h-1zM30 49h1v1h-1zM33 49h1v1h-1zM37 49h1v1h-1zM39 49h1v1h-1zM49 49h1v1h-1zM54 49h1v1h-1zM11 50h1v1h-1zM26 50h1v1h-1zM28 50h1v1h-1zM32 50h1v1h-1zM37 50h2v1h-2zM40 50h2v1h-2zM54 50h1v1h-1zM28 51h1v1h-1zM40 51h3v1h-3zM54 51h1v1h-1zM18 52h1v1h-1zM42 52h1v1h-1zM48 52h2v1h-2zM54 52h3v1h-3zM21 53h1v1h-1zM40 53h3v1h-3zM45 53h1v1h-1zM49 53h1v1h-1zM23 54h1v1h-1zM27 54h1v1h-1zM30 54h2v1h-2zM39 54h1v1h-1zM42 54h1v1h-1zM25 55h1v1h-1zM28 55h2v1h-2zM49 55h1v1h-1zM51 55h1v1h-1zM18 56h1v1h-1zM21 56h1v1h-1zM28 56h1v1h-1zM38 56h2v1h-2zM49 56h1v1h-1zM52 56h1v1h-1zM31 57h1v1h-1zM40 57h1v1h-1zM48 57h1v1h-1zM25 58h1v1h-1zM33 58h1v1h-1zM41 58h1v1h-1zM13 59h2v1h-2zM18 59h1v1h-1zM34 59h1v1h-1zM36 59h1v1h-1zM41 59h1v1h-1zM49 59h1v1h-1zM16 60h1v1h-1zM21 60h1v1h-1zM24 60h1v1h-1zM29 60h1v1h-1zM33 60h2v1h-2zM36 60h1v1h-1zM50 60h1v1h-1zM14 61h2v1h-2zM21 61h1v1h-1zM24 61h5v1h-5zM35 61h1v1h-1zM42 61h1v1h-1zM49 61h1v1h-1zM11 62h1v1h-1zM15 62h1v1h-1zM25 62h2v1h-2zM31 62h3v1h-3zM35 62h2v1h-2zM38 62h1v1h-1zM43 62h1v1h-1zM25 63h1v1h-1zM31 63h1v1h-1zM34 63h1v1h-1zM43 63h1v1h-1zM27 64h2v1h-2zM38 64h1v1h-1zM8 65h1v1h-1zM28 65h1v1h-1zM39 65h1v1h-1zM9 66h2v1h-2zM24 66h1v1h-1zM26 66h2v1h-2zM34 66h1v1h-1zM42 66h1v1h-1zM8 67h1v1h-1zM10 67h1v1h-1zM41 67h1v1h-1zM7 68h1v1h-1zM21 68h2v1h-2zM26 68h1v1h-1zM40 68h1v1h-1zM9 69h1v1h-1zM20 69h1v1h-1zM24 69h2v1h-2zM41 69h1v1h-1zM8 70h1v1h-1zM25 70h1v1h-1zM27 70h1v1h-1zM30 70h2v1h-2z"/>
<path fill="#8abe3e" d="M29 0h1v1h-1zM22 2h1v1h-1zM27 2h1v1h-1zM30 2h2v1h-2zM12 3h1v1h-1zM17 3h1v1h-1zM30 3h1v1h-1zM9 5h1v1h-1zM17 5h1v1h-1zM20 5h1v1h-1zM26 5h2v1h-2zM31 5h2v1h-2zM8 6h1v1h-1zM10 6h1v1h-1zM21 6h1v1h-1zM25 6h3v1h-3zM33 6h2v1h-2zM9 7h2v1h-2zM20 7h1v1h-1zM23 7h1v1h-1zM28 7h1v1h-1zM30 7h1v1h-1zM9 8h1v1h-1zM12 8h1v1h-1zM29 8h1v1h-1zM11 9h1v1h-1zM36 9h1v1h-1zM11 10h1v1h-1zM28 10h1v1h-1zM32 10h1v1h-1zM10 11h2v1h-2zM10 12h1v1h-1zM12 12h1v1h-1zM31 12h1v1h-1zM35 12h1v1h-1zM11 13h1v1h-1zM14 13h2v1h-2zM35 13h1v1h-1zM11 14h1v1h-1zM19 14h1v1h-1zM6 15h1v1h-1zM8 15h1v1h-1zM13 15h1v1h-1zM19 15h1v1h-1zM34 15h1v1h-1zM6 16h1v1h-1zM9 16h1v1h-1zM12 16h3v1h-3zM34 16h2v1h-2zM43 16h1v1h-1zM3 17h1v1h-1zM5 17h1v1h-1zM7 17h1v1h-1zM14 17h1v1h-1zM34 17h2v1h-2zM37 17h1v1h-1zM40 17h1v1h-1zM4 18h1v1h-1zM33 18h1v1h-1zM36 18h1v1h-1zM41 18h1v1h-1zM3 19h2v1h-2zM35 19h1v1h-1zM40 19h3v1h-3zM5 20h2v1h-2zM11 20h2v1h-2zM40 20h1v1h-1zM9 21h2v1h-2zM14 21h1v1h-1zM39 21h1v1h-1zM41 21h1v1h-1zM39 22h1v1h-1zM41 22h1v1h-1zM1 23h1v1h-1zM13 23h1v1h-1zM34 23h1v1h-1zM39 23h1v1h-1zM2 24h1v1h-1zM11 24h1v1h-1zM32 24h1v1h-1zM34 24h2v1h-2zM37 24h2v1h-2zM11 25h1v1h-1zM32 25h1v1h-1zM34 25h4v1h-4zM11 26h1v1h-1zM14 26h1v1h-1zM33 26h1v1h-1zM36 26h1v1h-1zM40 26h4v1h-4zM9 27h2v1h-2zM13 27h1v1h-1zM29 27h3v1h-3zM33 27h2v1h-2zM37 27h1v1h-1zM40 27h2v1h-2zM43 27h3v1h-3zM9 28h2v1h-2zM12 28h2v1h-2zM33 28h2v1h-2zM41 28h1v1h-1zM9 29h2v1h-2zM13 29h1v1h-1zM33 29h1v1h-1zM35 29h3v1h-3zM40 29h1v1h-1zM43 29h1v1h-1zM46 29h1v1h-1zM10 30h1v1h-1zM13 30h1v1h-1zM29 30h1v1h-1zM42 30h1v1h-1zM45 30h3v1h-3zM8 31h1v1h-1zM10 31h1v1h-1zM12 31h2v1h-2zM31 31h1v1h-1zM44 31h3v1h-3zM6 32h1v1h-1zM8 32h1v1h-1zM12 32h3v1h-3zM28 32h1v1h-1zM42 32h1v1h-1zM46 32h2v1h-2zM4 33h2v1h-2zM33 33h1v1h-1zM38 33h1v1h-1zM10 34h1v1h-1zM21 34h1v1h-1zM26 34h1v1h-1zM28 34h1v1h-1zM31 34h2v1h-2zM35 34h2v1h-2zM38 34h2v1h-2zM49 34h1v1h-1zM13 35h1v1h-1zM15 35h1v1h-1zM21 35h1v1h-1zM32 35h1v1h-1zM38 35h5v1h-5zM47 35h1v1h-1zM16 36h1v1h-1zM21 36h1v1h-1zM31 36h1v1h-1zM33 36h2v1h-2zM37 36h1v1h-1zM41 36h1v1h-1zM11 37h1v1h-1zM16 37h2v1h-2zM22 37h1v1h-1zM43 37h1v1h-1zM15 38h2v1h-2zM20 38h3v1h-3zM39 38h1v1h-1zM43 38h1v1h-1zM5 39h2v1h-2zM15 39h2v1h-2zM18 39h1v1h-1zM20 39h1v1h-1zM41 39h1v1h-1zM11 40h1v1h-1zM24 40h3v1h-3zM35 40h2v1h-2zM13 41h1v1h-1zM19 41h1v1h-1zM6 42h1v1h-1zM24 42h2v1h-2zM8 43h1v1h-1zM17 43h1v1h-1zM24 43h1v1h-1zM26 43h1v1h-1zM37 43h1v1h-1zM8 44h1v1h-1zM13 44h1v1h-1zM52 44h1v1h-1zM13 45h2v1h-2zM30 45h1v1h-1zM8 46h1v1h-1zM13 46h1v1h-1zM29 46h2v1h-2zM34 46h1v1h-1zM7 47h1v1h-1zM32 47h1v1h-1zM10 48h1v1h-1zM32 48h1v1h-1zM9 49h1v1h-1zM11 49h1v1h-1zM29 49h1v1h-1zM27 50h1v1h-1zM29 50h1v1h-1zM33 50h1v1h-1zM27 51h1v1h-1zM27 52h3v1h-3zM50 52h1v1h-1zM27 53h2v1h-2zM50 53h1v1h-1zM21 54h2v1h-2zM26 54h1v1h-1zM28 54h2v1h-2zM40 54h2v1h-2zM51 54h1v1h-1zM18 55h1v1h-1zM21 55h1v1h-1zM26 55h2v1h-2zM52 55h1v1h-1zM25 56h3v1h-3zM18 57h1v1h-1zM20 57h1v1h-1zM28 57h1v1h-1zM30 57h1v1h-1zM34 57h1v1h-1zM19 58h1v1h-1zM22 58h1v1h-1zM28 58h1v1h-1zM40 58h1v1h-1zM12 59h1v1h-1zM16 59h2v1h-2zM22 59h1v1h-1zM33 59h1v1h-1zM40 59h1v1h-1zM14 60h1v1h-1zM23 60h1v1h-1zM27 60h2v1h-2zM11 61h2v1h-2zM22 61h1v1h-1zM36 61h1v1h-1zM14 62h1v1h-1zM37 62h1v1h-1zM33 65h1v1h-1zM33 66h1v1h-1zM7 67h1v1h-1zM26 67h1v1h-1zM34 67h1v1h-1zM42 67h2v1h-2zM8 68h1v1h-1zM34 68h1v1h-1zM41 68h1v1h-1zM6 69h1v1h-1zM8 69h1v1h-1zM23 69h1v1h-1zM10 70h1v1h-1zM23 70h2v1h-2zM29 70h1v1h-1z"/>
<path fill="#7fba3e" d="M27 1h4v1h-4zM26 2h1v1h-1zM28 2h2v1h-2zM11 3h1v1h-1zM28 3h2v1h-2zM31 3h1v1h-1zM11 4h2v1h-2zM14 4h1v1h-1zM31 4h1v1h-1zM10 5h2v1h-2zM13 5h1v1h-1zM16 5h1v1h-1zM18 5h1v1h-1zM23 5h1v1h-1zM25 5h1v1h-1zM29 5h2v1h-2zM23 6h1v1h-1zM30 6h1v1h-1zM35 6h1v1h-1zM15 7h2v1h-2zM19 7h1v1h-1zM35 7h1v1h-1zM24 8h1v1h-1zM28 8h1v1h-1zM12 9h1v1h-1zM22 9h1v1h-1zM24 9h2v1h-2zM28 9h1v1h-1zM35 9h1v1h-1zM8 10h1v1h-1zM10 10h1v1h-1zM12 10h2v1h-2zM16 10h1v1h-1zM18 10h1v1h-1zM33 10h1v1h-1zM35 10h1v1h-1zM8 11h1v1h-1zM17 11h2v1h-2zM25 11h1v1h-1zM29 11h1v1h-1zM31 11h1v1h-1zM35 11h1v1h-1zM37 11h1v1h-1zM13 12h2v1h-2zM23 12h1v1h-1zM25 12h1v1h-1zM27 12h4v1h-4zM34 12h1v1h-1zM12 13h2v1h-2zM16 13h1v1h-1zM27 13h1v1h-1zM34 13h1v1h-1zM38 13h2v1h-2zM12 14h3v1h-3zM16 14h3v1h-3zM27 14h1v1h-1zM29 14h2v1h-2zM34 14h3v1h-3zM38 14h2v1h-2zM12 15h1v1h-1zM16 15h1v1h-1zM18 15h1v1h-1zM20 15h2v1h-2zM27 15h1v1h-1zM29 15h5v1h-5zM36 15h1v1h-1zM16 16h1v1h-1zM27 16h1v1h-1zM33 16h1v1h-1zM36 16h1v1h-1zM41 16h1v1h-1zM4 17h1v1h-1zM11 17h2v1h-2zM16 17h1v1h-1zM33 17h1v1h-1zM36 17h1v1h-1zM41 17h4v1h-4zM10 18h1v1h-1zM12 18h1v1h-1zM15 18h2v1h-2zM19 18h2v1h-2zM42 18h3v1h-3zM13 19h4v1h-4zM19 19h2v1h-2zM34 19h1v1h-1zM43 19h1v1h-1zM3 20h2v1h-2zM7 20h2v1h-2zM13 20h2v1h-2zM34 20h1v1h-1zM3 21h2v1h-2zM13 21h1v1h-1zM17 21h1v1h-1zM26 21h1v1h-1zM28 21h6v1h-6zM40 21h1v1h-1zM3 22h1v1h-1zM14 22h4v1h-4zM26 22h1v1h-1zM30 22h2v1h-2zM40 22h1v1h-1zM2 23h1v1h-1zM31 23h1v1h-1zM33 23h1v1h-1zM41 23h2v1h-2zM1 24h1v1h-1zM12 24h1v1h-1zM33 24h1v1h-1zM36 24h1v1h-1zM39 24h1v1h-1zM12 25h3v1h-3zM33 25h1v1h-1zM38 25h1v1h-1zM41 25h2v1h-2zM12 26h1v1h-1zM27 26h2v1h-2zM34 26h1v1h-1zM37 26h2v1h-2zM12 27h1v1h-1zM32 27h1v1h-1zM42 27h1v1h-1zM27 28h1v1h-1zM29 28h2v1h-2zM32 28h1v1h-1zM38 28h3v1h-3zM43 28h3v1h-3zM14 29h2v1h-2zM31 29h2v1h-2zM34 29h1v1h-1zM38 29h2v1h-2zM44 29h1v1h-1zM9 30h1v1h-1zM14 30h1v1h-1zM30 30h2v1h-2zM33 30h2v1h-2zM36 30h3v1h-3zM43 30h2v1h-2zM9 31h1v1h-1zM11 31h1v1h-1zM14 31h3v1h-3zM25 31h1v1h-1zM32 31h3v1h-3zM37 31h3v1h-3zM47 31h1v1h-1zM7 32h1v1h-1zM9 32h1v1h-1zM11 32h1v1h-1zM15 32h5v1h-5zM21 32h7v1h-7zM33 32h3v1h-3zM37 32h1v1h-1zM41 32h1v1h-1zM48 32h1v1h-1zM8 33h4v1h-4zM19 33h3v1h-3zM27 33h1v1h-1zM31 33h2v1h-2zM41 33h1v1h-1zM7 34h1v1h-1zM9 34h1v1h-1zM13 34h1v1h-1zM15 34h1v1h-1zM17 34h1v1h-1zM20 34h1v1h-1zM27 34h1v1h-1zM37 34h1v1h-1zM40 34h1v1h-1zM14 35h1v1h-1zM19 35h1v1h-1zM35 35h3v1h-3zM36 36h1v1h-1zM18 37h2v1h-2zM19 38h1v1h-1zM19 39h1v1h-1zM5 40h1v1h-1zM19 40h2v1h-2zM5 41h1v1h-1zM7 41h3v1h-3zM7 42h1v1h-1zM13 42h1v1h-1zM9 43h1v1h-1zM13 43h1v1h-1zM25 43h1v1h-1zM8 47h1v1h-1zM30 47h2v1h-2zM7 49h1v1h-1zM8 50h1v1h-1zM29 51h1v1h-1zM57 51h1v1h-1zM18 53h3v1h-3zM56 53h1v1h-1zM18 54h3v1h-3zM56 54h1v1h-1zM19 55h2v1h-2zM19 56h2v1h-2zM19 57h1v1h-1zM25 57h3v1h-3zM17 58h1v1h-1zM26 58h1v1h-1zM23 59h6v1h-6zM11 60h1v1h-1zM22 60h1v1h-1zM25 60h2v1h-2zM12 62h2v1h-2zM32 67h1v1h-1zM7 69h1v1h-1zM23 71h2v1h-2z"/>
<path fill="#78b83f" d="M27 0h2v1h-2zM23 2h1v1h-1zM18 3h4v1h-4zM24 3h4v1h-4zM9 4h1v1h-1zM13 4h1v1h-1zM15 4h1v1h-1zM17 4h3v1h-3zM23 4h1v1h-1zM25 4h4v1h-4zM32 4h2v1h-2zM12 5h1v1h-1zM21 5h1v1h-1zM24 5h1v1h-1zM28 5h1v1h-1zM22 6h1v1h-1zM17 7h2v1h-2zM34 7h1v1h-1zM14 8h3v1h-3zM20 8h1v1h-1zM34 8h2v1h-2zM13 9h4v1h-4zM19 9h1v1h-1zM23 9h1v1h-1zM33 9h2v1h-2zM14 10h2v1h-2zM17 10h1v1h-1zM19 10h1v1h-1zM25 10h1v1h-1zM34 10h1v1h-1zM19 11h1v1h-1zM23 11h1v1h-1zM34 11h1v1h-1zM17 12h1v1h-1zM20 12h2v1h-2zM17 13h3v1h-3zM23 13h1v1h-1zM25 13h2v1h-2zM28 13h3v1h-3zM15 14h1v1h-1zM25 14h2v1h-2zM28 14h1v1h-1zM17 15h1v1h-1zM26 15h1v1h-1zM28 15h1v1h-1zM35 15h1v1h-1zM42 15h1v1h-1zM5 16h1v1h-1zM15 16h1v1h-1zM18 16h2v1h-2zM28 16h3v1h-3zM32 16h1v1h-1zM40 16h1v1h-1zM42 16h1v1h-1zM13 17h1v1h-1zM15 17h1v1h-1zM17 17h2v1h-2zM27 17h2v1h-2zM30 17h3v1h-3zM11 18h1v1h-1zM13 18h2v1h-2zM17 18h2v1h-2zM25 18h1v1h-1zM27 18h1v1h-1zM31 18h2v1h-2zM7 19h6v1h-6zM17 19h2v1h-2zM21 19h1v1h-1zM33 19h1v1h-1zM2 20h1v1h-1zM9 20h2v1h-2zM15 20h3v1h-3zM21 20h1v1h-1zM29 20h1v1h-1zM31 20h3v1h-3zM2 21h1v1h-1zM15 21h1v1h-1zM18 21h1v1h-1zM25 21h1v1h-1zM27 21h1v1h-1zM2 22h1v1h-1zM18 22h2v1h-2zM25 22h1v1h-1zM28 22h2v1h-2zM14 23h1v1h-1zM16 23h1v1h-1zM18 23h1v1h-1zM22 23h1v1h-1zM26 23h1v1h-1zM28 23h3v1h-3zM32 23h1v1h-1zM40 23h1v1h-1zM13 24h4v1h-4zM20 24h3v1h-3zM26 24h1v1h-1zM29 24h2v1h-2zM41 24h2v1h-2zM15 25h1v1h-1zM27 25h1v1h-1zM29 25h2v1h-2zM39 25h2v1h-2zM15 26h2v1h-2zM26 26h1v1h-1zM29 26h1v1h-1zM11 27h1v1h-1zM14 27h3v1h-3zM38 27h1v1h-1zM14 28h2v1h-2zM28 28h1v1h-1zM31 28h1v1h-1zM23 29h1v1h-1zM25 29h6v1h-6zM15 30h2v1h-2zM19 30h1v1h-1zM24 30h2v1h-2zM27 30h2v1h-2zM32 30h1v1h-1zM35 30h1v1h-1zM39 30h1v1h-1zM18 31h1v1h-1zM21 31h4v1h-4zM26 31h3v1h-3zM35 31h2v1h-2zM40 31h1v1h-1zM10 32h1v1h-1zM20 32h1v1h-1zM6 33h2v1h-2zM17 33h2v1h-2zM8 34h1v1h-1zM16 34h1v1h-1zM18 34h2v1h-2zM41 34h1v1h-1zM6 35h1v1h-1zM16 35h3v1h-3zM20 35h1v1h-1zM17 36h4v1h-4zM6 40h1v1h-1zM6 41h1v1h-1zM8 42h2v1h-2zM7 50h1v1h-1zM12 60h1v1h-1zM39 60h1v1h-1z"/>
<path fill="#71b641" d="M24 2h2v1h-2zM22 3h2v1h-2zM32 3h1v1h-1zM16 4h1v1h-1zM20 4h3v1h-3zM24 4h1v1h-1zM22 5h1v1h-1zM17 8h3v1h-3zM20 9h2v1h-2zM20 10h1v1h-1zM22 10h1v1h-1zM24 10h1v1h-1zM20 11h1v1h-1zM22 11h1v1h-1zM18 12h2v1h-2zM22 12h1v1h-1zM24 12h1v1h-1zM23 14h1v1h-1zM22 15h4v1h-4zM17 16h1v1h-1zM20 16h1v1h-1zM22 16h2v1h-2zM25 16h1v1h-1zM31 16h1v1h-1zM19 17h3v1h-3zM26 17h1v1h-1zM29 17h1v1h-1zM21 18h2v1h-2zM26 18h1v1h-1zM28 18h3v1h-3zM29 19h4v1h-4zM18 20h3v1h-3zM24 20h1v1h-1zM28 20h1v1h-1zM30 20h1v1h-1zM16 21h1v1h-1zM19 21h1v1h-1zM22 21h2v1h-2zM20 22h4v1h-4zM32 22h1v1h-1zM15 23h1v1h-1zM19 23h3v1h-3zM17 24h3v1h-3zM27 24h2v1h-2zM40 24h1v1h-1zM16 25h1v1h-1zM20 25h2v1h-2zM26 25h1v1h-1zM17 26h1v1h-1zM18 27h1v1h-1zM26 27h1v1h-1zM16 28h2v1h-2zM23 28h2v1h-2zM26 28h1v1h-1zM16 29h1v1h-1zM19 29h1v1h-1zM24 29h1v1h-1zM17 30h2v1h-2zM20 30h4v1h-4zM19 31h2v1h-2zM5 34h2v1h-2zM7 51h1v1h-1zM38 60h1v1h-1zM37 61h1v1h-1zM39 61h1v1h-1z"/>
<path fill="#6ab442" d="M21 10h1v1h-1zM23 10h1v1h-1zM21 11h1v1h-1zM24 13h1v1h-1zM24 14h1v1h-1zM21 16h1v1h-1zM22 17h2v1h-2zM25 17h1v1h-1zM23 18h2v1h-2zM23 19h2v1h-2zM27 19h2v1h-2zM23 20h1v1h-1zM27 20h1v1h-1zM20 21h2v1h-2zM24 22h1v1h-1zM17 23h1v1h-1zM23 23h2v1h-2zM23 24h3v1h-3zM17 25h1v1h-1zM19 25h1v1h-1zM22 25h1v1h-1zM25 25h1v1h-1zM28 25h1v1h-1zM18 26h2v1h-2zM22 26h4v1h-4zM17 27h1v1h-1zM19 27h1v1h-1zM24 27h2v1h-2zM18 28h2v1h-2zM22 28h1v1h-1zM25 28h1v1h-1zM17 29h2v1h-2zM20 29h3v1h-3zM37 60h1v1h-1zM38 61h1v1h-1z"/>
<path fill="#64b143" d="M24 16h1v1h-1zM24 17h1v1h-1zM18 25h1v1h-1zM23 25h2v1h-2zM20 26h2v1h-2zM20 27h3v1h-3zM20 28h2v1h-2z"/>
<path fill="#52aa47" d="M39 15h1v1h-1zM39 16h1v1h-1zM8 51h1v1h-1zM39 69h1v1h-1zM39 70h1v1h-1z"/>
<path fill="#4ea748" d="M29 6h1v1h-1zM38 17h1v1h-1zM38 21h1v1h-1zM24 41h1v1h-1zM16 58h1v1h-1zM27 65h1v1h-1zM31 66h1v1h-1zM33 68h1v1h-1z"/>
<path fill="#49a449" d="M29 7h1v1h-1zM8 45h1v1h-1zM32 66h1v1h-1zM33 67h1v1h-1z"/>
</g></g>
<rect x="165.5" y="100.2" width="942.0" height="706.05" fill="none" stroke="#1c191a" stroke-width="4.3" stroke-linejoin="round"/>
<line x1="141.00" y1="127.80" x2="165.50" y2="127.80" stroke="#1c191a" stroke-width="4.3" stroke-linecap="round"/>
<line x1="141.00" y1="226.73" x2="165.50" y2="226.73" stroke="#1c191a" stroke-width="4.3" stroke-linecap="round"/>
<line x1="141.00" y1="325.66" x2="165.50" y2="325.66" stroke="#1c191a" stroke-width="4.3" stroke-linecap="round"/>
<line x1="141.00" y1="424.59" x2="165.50" y2="424.59" stroke="#1c191a" stroke-width="4.3" stroke-linecap="round"/>
<line x1="141.00" y1="523.52" x2="165.50" y2="523.52" stroke="#1c191a" stroke-width="4.3" stroke-linecap="round"/>
<line x1="141.00" y1="622.45" x2="165.50" y2="622.45" stroke="#1c191a" stroke-width="4.3" stroke-linecap="round"/>
<line x1="141.00" y1="721.38" x2="165.50" y2="721.38" stroke="#1c191a" stroke-width="4.3" stroke-linecap="round"/>
<g transform="translate(111.6,127.8) rotate(-90)"><text x="-83.5" y="0" font-size="39.5" textLength="167.0" lengthAdjust="spacingAndGlyphs">3,860,000</text></g>
<g transform="translate(111.6,424.6) rotate(-90)"><text x="-83.5" y="0" font-size="39.5" textLength="167.0" lengthAdjust="spacingAndGlyphs">3,830,000</text></g>
<g transform="translate(111.6,721.4) rotate(-90)"><text x="-83.5" y="0" font-size="39.5" textLength="167.0" lengthAdjust="spacingAndGlyphs">3,800,000</text></g>
<line x1="229.90" y1="806.25" x2="229.90" y2="831.20" stroke="#1c191a" stroke-width="4.3" stroke-linecap="round"/>
<g transform="translate(229.9,889.2)"><text x="-69.5" y="0" font-size="39.5" textLength="139.0" lengthAdjust="spacingAndGlyphs">400,000</text></g>
<line x1="427.75" y1="806.25" x2="427.75" y2="831.20" stroke="#1c191a" stroke-width="4.3" stroke-linecap="round"/>
<g transform="translate(427.8,889.2)"><text x="-69.5" y="0" font-size="39.5" textLength="139.0" lengthAdjust="spacingAndGlyphs">420,000</text></g>
<line x1="625.60" y1="806.25" x2="625.60" y2="831.20" stroke="#1c191a" stroke-width="4.3" stroke-linecap="round"/>
<g transform="translate(625.6,889.2)"><text x="-69.5" y="0" font-size="39.5" textLength="139.0" lengthAdjust="spacingAndGlyphs">440,000</text></g>
<line x1="823.45" y1="806.25" x2="823.45" y2="831.20" stroke="#1c191a" stroke-width="4.3" stroke-linecap="round"/>
<g transform="translate(823.4,889.2)"><text x="-69.5" y="0" font-size="39.5" textLength="139.0" lengthAdjust="spacingAndGlyphs">460,000</text></g>
<line x1="1021.30" y1="806.25" x2="1021.30" y2="831.20" stroke="#1c191a" stroke-width="4.3" stroke-linecap="round"/>
<g transform="translate(1021.3,889.2)"><text x="-69.5" y="0" font-size="39.5" textLength="139.0" lengthAdjust="spacingAndGlyphs">480,000</text></g>
<g transform="translate(641.3,942.4)"><text x="-91.0" y="0" font-size="41.3" textLength="182.0" lengthAdjust="spacingAndGlyphs">Longitude</text></g>
<g transform="translate(58.8,450.5) rotate(-90)"><text x="-72.5" y="0" font-size="41.3" textLength="145.0" lengthAdjust="spacingAndGlyphs">Latitude</text></g>
<g transform="translate(452.0,69.2)"><text x="0.0" y="0" font-size="51" textLength="31.0" lengthAdjust="spacingAndGlyphs">R</text></g>
<g transform="translate(480.8,51.5)"><text x="0.0" y="0" font-size="30" textLength="15.0" lengthAdjust="spacingAndGlyphs">2</text></g>
<g transform="translate(506.5,69.2)"><text x="0.0" y="0" font-size="51" textLength="254.0" lengthAdjust="spacingAndGlyphs">distribution</text></g>
<linearGradient id="cba" x1="0" y1="1" x2="0" y2="0"><stop offset="0.0" stop-color="#eee4e4"/><stop offset="0.1" stop-color="#ebc4bc"/><stop offset="0.22" stop-color="#e5a07c"/><stop offset="0.35" stop-color="#dba652"/><stop offset="0.43" stop-color="#ddbe45"/><stop offset="0.5" stop-color="#dad940"/><stop offset="0.57" stop-color="#b7ce3d"/><stop offset="0.7" stop-color="#7fba3e"/><stop offset="0.85" stop-color="#56ad46"/><stop offset="1.0" stop-color="#3d9a4c"/></linearGradient>
<rect x="1130.9" y="277.3" width="16.400000000000045" height="351.1" fill="url(#cba)" stroke="#1c191a" stroke-width="3.8" stroke-linejoin="round"/>
<line x1="1149.20" y1="325.60" x2="1172.30" y2="325.60" stroke="#1c191a" stroke-width="4.0" stroke-linecap="round"/>
<g transform="translate(1198.0,340.2)"><text x="0.0" y="0" font-size="39.5" textLength="52.0" lengthAdjust="spacingAndGlyphs">0.5</text></g>
<line x1="1149.20" y1="380.75" x2="1172.30" y2="380.75" stroke="#1c191a" stroke-width="4.0" stroke-linecap="round"/>
<g transform="translate(1198.0,395.4)"><text x="0.0" y="0" font-size="39.5" textLength="52.0" lengthAdjust="spacingAndGlyphs">0.4</text></g>
<line x1="1149.20" y1="435.90" x2="1172.30" y2="435.90" stroke="#1c191a" stroke-width="4.0" stroke-linecap="round"/>
<g transform="translate(1198.0,450.5)"><text x="0.0" y="0" font-size="39.5" textLength="52.0" lengthAdjust="spacingAndGlyphs">0.3</text></g>
<line x1="1149.20" y1="491.05" x2="1172.30" y2="491.05" stroke="#1c191a" stroke-width="4.0" stroke-linecap="round"/>
<g transform="translate(1198.0,505.7)"><text x="0.0" y="0" font-size="39.5" textLength="52.0" lengthAdjust="spacingAndGlyphs">0.2</text></g>
<line x1="1149.20" y1="546.20" x2="1172.30" y2="546.20" stroke="#1c191a" stroke-width="4.0" stroke-linecap="round"/>
<g transform="translate(1198.0,560.8)"><text x="0.0" y="0" font-size="39.5" textLength="52.0" lengthAdjust="spacingAndGlyphs">0.1</text></g>
<line x1="1149.20" y1="601.35" x2="1172.30" y2="601.35" stroke="#1c191a" stroke-width="4.0" stroke-linecap="round"/>
<g transform="translate(1198.0,616.0)"><text x="0.0" y="0" font-size="39.5" textLength="52.0" lengthAdjust="spacingAndGlyphs">0.0</text></g>
</g>
<g transform="translate(0,1007.75)">
<clipPath id="cpc"><rect x="165.5" y="100.2" width="942.0" height="706.05"/></clipPath>
<g clip-path="url(#cpc)"><g transform="translate(352.05,100.9) scale(9.822,9.8)" shape-rendering="crispEdges">
<path fill="#ecccc6" d="M29 7h1v1h-1zM8 45h1v1h-1zM32 66h1v1h-1zM33 67h1v1h-1z"/>
<path fill="#ebc4bc" d="M29 6h1v1h-1zM38 21h1v1h-1zM24 41h1v1h-1zM31 66h1v1h-1zM33 68h1v1h-1z"/>
<path fill="#eabcaf" d="M39 15h1v1h-1zM39 16h1v1h-1zM38 17h1v1h-1zM16 58h1v1h-1zM27 65h1v1h-1zM39 69h1v1h-1z"/>
<path fill="#e8b5a1" d="M8 51h1v1h-1zM39 70h1v1h-1z"/>
<path fill="#e5a07a" d="M20 27h2v1h-2zM20 28h1v1h-1z"/>
<path fill="#e3a172" d="M21 10h1v1h-1zM24 16h1v1h-1zM24 17h1v1h-1zM24 23h1v1h-1zM18 25h1v1h-1zM23 25h2v1h-2zM20 26h2v1h-2zM22 27h1v1h-1zM24 27h1v1h-1zM21 28h1v1h-1z"/>
<path fill="#e1a36a" d="M21 11h1v1h-1zM24 13h1v1h-1zM24 14h1v1h-1zM21 16h1v1h-1zM22 17h2v1h-2zM23 18h2v1h-2zM23 19h2v1h-2zM27 19h2v1h-2zM27 20h1v1h-1zM20 21h2v1h-2zM24 22h1v1h-1zM23 24h3v1h-3zM17 25h1v1h-1zM19 25h1v1h-1zM22 25h1v1h-1zM25 25h1v1h-1zM28 25h1v1h-1zM18 26h2v1h-2zM22 26h4v1h-4zM17 27h1v1h-1zM19 27h1v1h-1zM25 27h1v1h-1zM18 28h2v1h-2zM22 28h1v1h-1zM25 28h1v1h-1zM17 29h2v1h-2zM20 29h3v1h-3zM37 60h1v1h-1zM38 61h1v1h-1z"/>
<path fill="#dfa462" d="M24 2h2v1h-2zM23 3h1v1h-1zM16 4h1v1h-1zM20 4h3v1h-3zM24 4h1v1h-1zM22 5h1v1h-1zM17 8h2v1h-2zM20 9h2v1h-2zM20 10h1v1h-1zM22 10h3v1h-3zM20 11h1v1h-1zM22 11h1v1h-1zM18 12h2v1h-2zM24 12h1v1h-1zM23 14h1v1h-1zM22 15h3v1h-3zM20 16h1v1h-1zM22 16h2v1h-2zM25 16h1v1h-1zM31 16h1v1h-1zM19 17h1v1h-1zM21 17h1v1h-1zM25 17h2v1h-2zM29 17h1v1h-1zM22 18h1v1h-1zM26 18h1v1h-1zM29 18h1v1h-1zM29 19h4v1h-4zM18 20h1v1h-1zM20 20h1v1h-1zM23 20h2v1h-2zM28 20h1v1h-1zM30 20h1v1h-1zM16 21h1v1h-1zM19 21h1v1h-1zM22 21h2v1h-2zM20 22h3v1h-3zM32 22h1v1h-1zM15 23h1v1h-1zM17 23h1v1h-1zM23 23h1v1h-1zM17 24h3v1h-3zM27 24h2v1h-2zM16 25h1v1h-1zM17 26h1v1h-1zM18 27h1v1h-1zM26 27h1v1h-1zM16 28h2v1h-2zM23 28h2v1h-2zM26 28h1v1h-1zM16 29h1v1h-1zM17 30h1v1h-1zM20 30h4v1h-4zM19 31h1v1h-1zM6 34h1v1h-1zM39 61h1v1h-1z"/>
<path fill="#dda55a" d="M27 0h2v1h-2zM23 2h1v1h-1zM19 3h2v1h-2zM22 3h1v1h-1zM24 3h4v1h-4zM32 3h1v1h-1zM17 4h1v1h-1zM19 4h1v1h-1zM23 4h1v1h-1zM25 4h2v1h-2zM32 4h1v1h-1zM12 5h1v1h-1zM24 5h1v1h-1zM22 6h1v1h-1zM17 7h1v1h-1zM34 7h1v1h-1zM14 8h3v1h-3zM19 8h2v1h-2zM34 8h2v1h-2zM14 9h1v1h-1zM19 9h1v1h-1zM34 9h1v1h-1zM14 10h2v1h-2zM19 10h1v1h-1zM19 11h1v1h-1zM20 12h3v1h-3zM18 13h1v1h-1zM23 13h1v1h-1zM25 13h2v1h-2zM28 13h2v1h-2zM25 14h1v1h-1zM17 15h1v1h-1zM25 15h1v1h-1zM42 15h1v1h-1zM5 16h1v1h-1zM17 16h3v1h-3zM28 16h1v1h-1zM32 16h1v1h-1zM40 16h1v1h-1zM13 17h1v1h-1zM15 17h1v1h-1zM18 17h1v1h-1zM20 17h1v1h-1zM28 17h1v1h-1zM30 17h2v1h-2zM13 18h2v1h-2zM18 18h1v1h-1zM21 18h1v1h-1zM25 18h1v1h-1zM27 18h2v1h-2zM30 18h3v1h-3zM10 19h2v1h-2zM21 19h1v1h-1zM10 20h1v1h-1zM15 20h3v1h-3zM19 20h1v1h-1zM21 20h1v1h-1zM29 20h1v1h-1zM31 20h3v1h-3zM2 21h1v1h-1zM18 21h1v1h-1zM25 21h1v1h-1zM27 21h1v1h-1zM2 22h1v1h-1zM19 22h1v1h-1zM23 22h1v1h-1zM25 22h1v1h-1zM29 22h1v1h-1zM14 23h1v1h-1zM16 23h1v1h-1zM18 23h5v1h-5zM26 23h1v1h-1zM28 23h3v1h-3zM32 23h1v1h-1zM40 23h1v1h-1zM15 24h2v1h-2zM20 24h3v1h-3zM26 24h1v1h-1zM29 24h2v1h-2zM40 24h1v1h-1zM42 24h1v1h-1zM15 25h1v1h-1zM20 25h2v1h-2zM26 25h2v1h-2zM29 25h1v1h-1zM15 26h2v1h-2zM26 26h1v1h-1zM16 27h1v1h-1zM14 28h2v1h-2zM19 29h1v1h-1zM23 29h3v1h-3zM27 29h3v1h-3zM16 30h1v1h-1zM18 30h2v1h-2zM28 30h1v1h-1zM39 30h1v1h-1zM18 31h1v1h-1zM20 31h5v1h-5zM36 31h1v1h-1zM20 32h1v1h-1zM6 33h1v1h-1zM17 33h1v1h-1zM5 34h1v1h-1zM16 34h1v1h-1zM18 34h1v1h-1zM6 35h1v1h-1zM17 35h2v1h-2zM18 36h1v1h-1zM6 40h1v1h-1zM7 50h1v1h-1zM7 51h1v1h-1zM38 60h2v1h-2zM37 61h1v1h-1z"/>
<path fill="#dba652" d="M27 1h3v1h-3zM26 2h1v1h-1zM29 2h1v1h-1zM18 3h1v1h-1zM21 3h1v1h-1zM29 3h1v1h-1zM9 4h1v1h-1zM11 4h5v1h-5zM18 4h1v1h-1zM27 4h2v1h-2zM31 4h1v1h-1zM33 4h1v1h-1zM16 5h1v1h-1zM18 5h1v1h-1zM21 5h1v1h-1zM23 5h1v1h-1zM28 5h1v1h-1zM30 5h1v1h-1zM23 6h1v1h-1zM30 6h1v1h-1zM35 6h1v1h-1zM18 7h1v1h-1zM35 7h1v1h-1zM28 8h1v1h-1zM13 9h1v1h-1zM15 9h2v1h-2zM23 9h3v1h-3zM28 9h1v1h-1zM33 9h1v1h-1zM16 10h3v1h-3zM25 10h1v1h-1zM33 10h2v1h-2zM17 11h2v1h-2zM23 11h1v1h-1zM29 11h1v1h-1zM31 11h1v1h-1zM34 11h1v1h-1zM14 12h1v1h-1zM17 12h1v1h-1zM23 12h1v1h-1zM25 12h1v1h-1zM27 12h4v1h-4zM13 13h1v1h-1zM17 13h1v1h-1zM19 13h1v1h-1zM30 13h1v1h-1zM12 14h1v1h-1zM15 14h1v1h-1zM18 14h1v1h-1zM26 14h3v1h-3zM30 14h1v1h-1zM35 14h1v1h-1zM39 14h1v1h-1zM12 15h1v1h-1zM20 15h2v1h-2zM26 15h4v1h-4zM31 15h3v1h-3zM35 15h1v1h-1zM15 16h1v1h-1zM27 16h1v1h-1zM29 16h2v1h-2zM42 16h1v1h-1zM4 17h1v1h-1zM11 17h2v1h-2zM16 17h2v1h-2zM27 17h1v1h-1zM32 17h1v1h-1zM42 17h1v1h-1zM44 17h1v1h-1zM10 18h3v1h-3zM15 18h3v1h-3zM19 18h2v1h-2zM7 19h3v1h-3zM12 19h2v1h-2zM15 19h4v1h-4zM33 19h2v1h-2zM43 19h1v1h-1zM2 20h2v1h-2zM7 20h3v1h-3zM14 20h1v1h-1zM3 21h2v1h-2zM15 21h1v1h-1zM17 21h1v1h-1zM26 21h1v1h-1zM28 21h1v1h-1zM30 21h3v1h-3zM15 22h1v1h-1zM17 22h2v1h-2zM26 22h1v1h-1zM28 22h1v1h-1zM30 22h2v1h-2zM31 23h1v1h-1zM33 23h1v1h-1zM41 23h1v1h-1zM1 24h1v1h-1zM12 24h3v1h-3zM41 24h1v1h-1zM13 25h2v1h-2zM30 25h1v1h-1zM33 25h1v1h-1zM38 25h4v1h-4zM27 26h3v1h-3zM38 26h1v1h-1zM11 27h1v1h-1zM14 27h2v1h-2zM32 27h1v1h-1zM38 27h1v1h-1zM27 28h2v1h-2zM30 28h2v1h-2zM39 28h2v1h-2zM45 28h1v1h-1zM14 29h2v1h-2zM26 29h1v1h-1zM30 29h3v1h-3zM44 29h1v1h-1zM14 30h2v1h-2zM24 30h2v1h-2zM27 30h1v1h-1zM31 30h3v1h-3zM35 30h2v1h-2zM38 30h1v1h-1zM11 31h1v1h-1zM16 31h1v1h-1zM25 31h4v1h-4zM32 31h1v1h-1zM35 31h1v1h-1zM37 31h4v1h-4zM47 31h1v1h-1zM10 32h2v1h-2zM19 32h1v1h-1zM21 32h2v1h-2zM26 32h1v1h-1zM33 32h1v1h-1zM7 33h4v1h-4zM18 33h2v1h-2zM32 33h1v1h-1zM41 33h1v1h-1zM7 34h3v1h-3zM19 34h1v1h-1zM40 34h2v1h-2zM16 35h1v1h-1zM19 35h2v1h-2zM35 35h3v1h-3zM17 36h1v1h-1zM19 36h2v1h-2zM19 38h1v1h-1zM20 40h1v1h-1zM6 41h2v1h-2zM7 42h3v1h-3zM19 53h1v1h-1zM19 54h1v1h-1zM19 55h2v1h-2zM19 56h2v1h-2zM27 57h1v1h-1zM17 58h1v1h-1zM24 59h2v1h-2zM27 59h1v1h-1zM12 60h1v1h-1zM22 60h1v1h-1zM24 71h1v1h-1z"/>
<path fill="#dcae4e" d="M29 0h1v1h-1zM30 1h1v1h-1zM27 2h2v1h-2zM31 2h1v1h-1zM11 3h2v1h-2zM17 3h1v1h-1zM28 3h1v1h-1zM30 3h2v1h-2zM10 5h2v1h-2zM13 5h1v1h-1zM17 5h1v1h-1zM20 5h1v1h-1zM25 5h3v1h-3zM29 5h1v1h-1zM32 5h1v1h-1zM8 6h1v1h-1zM21 6h1v1h-1zM15 7h2v1h-2zM19 7h1v1h-1zM28 7h1v1h-1zM30 7h1v1h-1zM9 8h1v1h-1zM24 8h1v1h-1zM29 8h1v1h-1zM11 9h2v1h-2zM22 9h1v1h-1zM35 9h2v1h-2zM8 10h1v1h-1zM10 10h4v1h-4zM35 10h1v1h-1zM8 11h1v1h-1zM11 11h1v1h-1zM25 11h1v1h-1zM35 11h1v1h-1zM37 11h1v1h-1zM12 12h2v1h-2zM31 12h1v1h-1zM34 12h1v1h-1zM11 13h2v1h-2zM14 13h1v1h-1zM16 13h1v1h-1zM27 13h1v1h-1zM34 13h2v1h-2zM38 13h2v1h-2zM11 14h1v1h-1zM13 14h2v1h-2zM16 14h2v1h-2zM19 14h1v1h-1zM29 14h1v1h-1zM34 14h1v1h-1zM36 14h1v1h-1zM38 14h1v1h-1zM6 15h1v1h-1zM13 15h1v1h-1zM16 15h1v1h-1zM18 15h2v1h-2zM30 15h1v1h-1zM36 15h1v1h-1zM6 16h1v1h-1zM16 16h1v1h-1zM33 16h1v1h-1zM36 16h1v1h-1zM41 16h1v1h-1zM3 17h1v1h-1zM5 17h1v1h-1zM14 17h1v1h-1zM33 17h2v1h-2zM36 17h1v1h-1zM41 17h1v1h-1zM43 17h1v1h-1zM4 18h1v1h-1zM36 18h1v1h-1zM41 18h4v1h-4zM3 19h2v1h-2zM14 19h1v1h-1zM19 19h2v1h-2zM35 19h1v1h-1zM42 19h1v1h-1zM4 20h1v1h-1zM6 20h1v1h-1zM12 20h2v1h-2zM34 20h1v1h-1zM9 21h2v1h-2zM13 21h1v1h-1zM29 21h1v1h-1zM33 21h1v1h-1zM40 21h1v1h-1zM3 22h1v1h-1zM14 22h1v1h-1zM16 22h1v1h-1zM39 22h2v1h-2zM1 23h2v1h-2zM34 23h1v1h-1zM39 23h1v1h-1zM42 23h1v1h-1zM11 24h1v1h-1zM32 24h3v1h-3zM36 24h4v1h-4zM12 25h1v1h-1zM32 25h1v1h-1zM34 25h2v1h-2zM37 25h1v1h-1zM42 25h1v1h-1zM11 26h2v1h-2zM14 26h1v1h-1zM33 26h2v1h-2zM36 26h2v1h-2zM41 26h3v1h-3zM10 27h1v1h-1zM12 27h1v1h-1zM29 27h3v1h-3zM33 27h1v1h-1zM37 27h1v1h-1zM42 27h1v1h-1zM45 27h1v1h-1zM9 28h1v1h-1zM29 28h1v1h-1zM32 28h2v1h-2zM38 28h1v1h-1zM41 28h1v1h-1zM43 28h2v1h-2zM9 29h1v1h-1zM13 29h1v1h-1zM34 29h6v1h-6zM43 29h1v1h-1zM9 30h2v1h-2zM13 30h1v1h-1zM29 30h2v1h-2zM34 30h1v1h-1zM37 30h1v1h-1zM43 30h2v1h-2zM47 30h1v1h-1zM9 31h1v1h-1zM14 31h2v1h-2zM31 31h1v1h-1zM33 31h2v1h-2zM44 31h1v1h-1zM46 31h1v1h-1zM6 32h4v1h-4zM12 32h2v1h-2zM15 32h4v1h-4zM23 32h3v1h-3zM27 32h1v1h-1zM34 32h2v1h-2zM37 32h1v1h-1zM41 32h1v1h-1zM48 32h1v1h-1zM4 33h2v1h-2zM11 33h1v1h-1zM20 33h2v1h-2zM27 33h1v1h-1zM31 33h1v1h-1zM38 33h1v1h-1zM13 34h1v1h-1zM15 34h1v1h-1zM17 34h1v1h-1zM20 34h2v1h-2zM27 34h2v1h-2zM31 34h2v1h-2zM36 34h2v1h-2zM49 34h1v1h-1zM13 35h3v1h-3zM21 35h1v1h-1zM41 35h1v1h-1zM36 36h2v1h-2zM16 37h1v1h-1zM18 37h2v1h-2zM43 37h1v1h-1zM15 38h2v1h-2zM20 38h1v1h-1zM22 38h1v1h-1zM5 39h1v1h-1zM19 39h1v1h-1zM5 40h1v1h-1zM19 40h1v1h-1zM24 40h2v1h-2zM35 40h1v1h-1zM5 41h1v1h-1zM8 41h2v1h-2zM13 41h1v1h-1zM13 42h1v1h-1zM25 42h1v1h-1zM9 43h1v1h-1zM13 43h1v1h-1zM25 43h1v1h-1zM29 46h2v1h-2zM8 47h1v1h-1zM30 47h2v1h-2zM7 49h1v1h-1zM11 49h1v1h-1zM8 50h1v1h-1zM29 51h1v1h-1zM57 51h1v1h-1zM27 52h2v1h-2zM50 52h1v1h-1zM18 53h1v1h-1zM20 53h1v1h-1zM27 53h2v1h-2zM50 53h1v1h-1zM56 53h1v1h-1zM18 54h1v1h-1zM20 54h1v1h-1zM40 54h1v1h-1zM56 54h1v1h-1zM18 55h1v1h-1zM52 55h1v1h-1zM26 56h2v1h-2zM18 57h3v1h-3zM25 57h2v1h-2zM28 57h1v1h-1zM19 58h1v1h-1zM26 58h1v1h-1zM17 59h1v1h-1zM22 59h2v1h-2zM26 59h1v1h-1zM28 59h1v1h-1zM11 60h1v1h-1zM23 60h1v1h-1zM25 60h3v1h-3zM11 61h2v1h-2zM22 61h1v1h-1zM12 62h2v1h-2zM33 66h1v1h-1zM32 67h1v1h-1zM34 67h1v1h-1zM34 68h1v1h-1zM6 69h2v1h-2zM23 71h1v1h-1z"/>
<path fill="#dcb54a" d="M30 0h1v1h-1zM22 1h1v1h-1zM22 2h1v1h-1zM30 2h1v1h-1zM9 5h1v1h-1zM31 5h1v1h-1zM9 6h2v1h-2zM25 6h3v1h-3zM33 6h2v1h-2zM9 7h2v1h-2zM20 7h1v1h-1zM23 7h1v1h-1zM32 7h1v1h-1zM10 8h1v1h-1zM12 8h2v1h-2zM32 8h1v1h-1zM29 9h1v1h-1zM32 9h1v1h-1zM28 10h1v1h-1zM32 10h1v1h-1zM9 11h2v1h-2zM10 12h2v1h-2zM35 12h1v1h-1zM15 13h1v1h-1zM10 14h1v1h-1zM33 14h1v1h-1zM8 15h1v1h-1zM34 15h1v1h-1zM9 16h1v1h-1zM12 16h3v1h-3zM34 16h2v1h-2zM43 16h1v1h-1zM6 17h2v1h-2zM35 17h1v1h-1zM37 17h1v1h-1zM39 17h2v1h-2zM5 18h1v1h-1zM33 18h1v1h-1zM37 18h1v1h-1zM40 18h1v1h-1zM40 19h2v1h-2zM5 20h1v1h-1zM11 20h1v1h-1zM35 20h2v1h-2zM40 20h2v1h-2zM5 21h1v1h-1zM12 21h1v1h-1zM14 21h1v1h-1zM34 21h1v1h-1zM39 21h1v1h-1zM41 21h1v1h-1zM11 22h1v1h-1zM41 22h2v1h-2zM3 23h1v1h-1zM13 23h1v1h-1zM2 24h1v1h-1zM35 24h1v1h-1zM1 25h1v1h-1zM11 25h1v1h-1zM36 25h1v1h-1zM10 26h1v1h-1zM13 26h1v1h-1zM32 26h1v1h-1zM40 26h1v1h-1zM9 27h1v1h-1zM13 27h1v1h-1zM23 27h1v1h-1zM34 27h1v1h-1zM40 27h2v1h-2zM43 27h2v1h-2zM10 28h4v1h-4zM34 28h1v1h-1zM10 29h1v1h-1zM33 29h1v1h-1zM40 29h1v1h-1zM46 29h1v1h-1zM42 30h1v1h-1zM45 30h2v1h-2zM8 31h1v1h-1zM10 31h1v1h-1zM12 31h2v1h-2zM29 31h1v1h-1zM45 31h1v1h-1zM14 32h1v1h-1zM28 32h1v1h-1zM36 32h1v1h-1zM42 32h1v1h-1zM46 32h2v1h-2zM33 33h1v1h-1zM10 34h1v1h-1zM14 34h1v1h-1zM26 34h1v1h-1zM30 34h1v1h-1zM35 34h1v1h-1zM38 34h2v1h-2zM7 35h1v1h-1zM30 35h1v1h-1zM32 35h2v1h-2zM38 35h3v1h-3zM42 35h1v1h-1zM47 35h1v1h-1zM7 36h1v1h-1zM16 36h1v1h-1zM21 36h1v1h-1zM27 36h1v1h-1zM31 36h1v1h-1zM33 36h2v1h-2zM41 36h1v1h-1zM11 37h1v1h-1zM17 37h1v1h-1zM21 37h2v1h-2zM35 37h1v1h-1zM40 37h1v1h-1zM21 38h1v1h-1zM39 38h1v1h-1zM43 38h1v1h-1zM6 39h1v1h-1zM15 39h2v1h-2zM18 39h1v1h-1zM20 39h1v1h-1zM25 39h1v1h-1zM28 39h1v1h-1zM35 39h1v1h-1zM37 39h1v1h-1zM41 39h1v1h-1zM11 40h1v1h-1zM26 40h1v1h-1zM36 40h1v1h-1zM12 41h1v1h-1zM19 41h2v1h-2zM5 42h2v1h-2zM12 42h1v1h-1zM14 42h1v1h-1zM24 42h1v1h-1zM27 42h3v1h-3zM8 43h1v1h-1zM12 43h1v1h-1zM17 43h2v1h-2zM24 43h1v1h-1zM26 43h1v1h-1zM37 43h1v1h-1zM8 44h2v1h-2zM13 44h1v1h-1zM52 44h1v1h-1zM13 45h2v1h-2zM30 45h1v1h-1zM8 46h1v1h-1zM13 46h1v1h-1zM33 46h2v1h-2zM40 46h1v1h-1zM53 46h1v1h-1zM6 47h2v1h-2zM9 47h1v1h-1zM32 47h1v1h-1zM40 47h1v1h-1zM47 47h1v1h-1zM9 48h3v1h-3zM31 48h2v1h-2zM48 48h1v1h-1zM9 49h1v1h-1zM15 49h1v1h-1zM29 49h1v1h-1zM26 50h2v1h-2zM29 50h1v1h-1zM33 50h1v1h-1zM27 51h2v1h-2zM42 51h1v1h-1zM54 51h1v1h-1zM29 52h1v1h-1zM56 52h1v1h-1zM21 53h1v1h-1zM41 53h1v1h-1zM21 54h3v1h-3zM26 54h1v1h-1zM28 54h2v1h-2zM41 54h1v1h-1zM51 54h1v1h-1zM21 55h1v1h-1zM26 55h3v1h-3zM51 55h1v1h-1zM21 56h1v1h-1zM25 56h1v1h-1zM30 57h1v1h-1zM34 57h1v1h-1zM48 57h1v1h-1zM22 58h1v1h-1zM25 58h1v1h-1zM28 58h1v1h-1zM40 58h1v1h-1zM12 59h3v1h-3zM16 59h1v1h-1zM18 59h1v1h-1zM33 59h2v1h-2zM36 59h1v1h-1zM40 59h1v1h-1zM14 60h1v1h-1zM16 60h1v1h-1zM28 60h1v1h-1zM15 61h1v1h-1zM21 61h1v1h-1zM27 61h1v1h-1zM36 61h1v1h-1zM11 62h1v1h-1zM14 62h1v1h-1zM32 62h1v1h-1zM36 62h2v1h-2zM33 65h1v1h-1zM26 66h2v1h-2zM42 66h1v1h-1zM7 67h1v1h-1zM26 67h1v1h-1zM42 67h2v1h-2zM7 68h2v1h-2zM21 68h2v1h-2zM41 68h1v1h-1zM8 69h1v1h-1zM23 69h3v1h-3zM8 70h1v1h-1zM10 70h1v1h-1zM23 70h3v1h-3zM29 70h3v1h-3z"/>
<path fill="#ddbc46" d="M25 7h3v1h-3zM9 10h1v1h-1zM27 10h1v1h-1zM30 10h1v1h-1zM36 11h1v1h-1zM38 11h1v1h-1zM9 12h1v1h-1zM32 12h1v1h-1zM9 13h1v1h-1zM33 13h1v1h-1zM10 15h2v1h-2zM8 16h1v1h-1zM11 16h1v1h-1zM7 18h1v1h-1zM34 18h2v1h-2zM36 19h1v1h-1zM37 20h1v1h-1zM39 20h1v1h-1zM6 21h1v1h-1zM11 21h1v1h-1zM35 21h3v1h-3zM4 23h1v1h-1zM12 23h1v1h-1zM36 23h2v1h-2zM9 24h2v1h-2zM10 25h1v1h-1zM5 26h1v1h-1zM7 26h1v1h-1zM9 26h1v1h-1zM35 26h1v1h-1zM6 27h1v1h-1zM8 27h1v1h-1zM27 27h2v1h-2zM5 28h1v1h-1zM4 29h3v1h-3zM41 29h2v1h-2zM45 29h1v1h-1zM5 30h2v1h-2zM41 30h1v1h-1zM7 31h1v1h-1zM30 31h1v1h-1zM41 31h2v1h-2zM22 33h1v1h-1zM30 33h1v1h-1zM47 33h1v1h-1zM22 34h1v1h-1zM29 34h1v1h-1zM33 34h1v1h-1zM47 34h2v1h-2zM8 35h1v1h-1zM10 35h1v1h-1zM22 35h1v1h-1zM26 35h4v1h-4zM31 35h1v1h-1zM45 35h2v1h-2zM10 36h1v1h-1zM26 36h1v1h-1zM35 36h1v1h-1zM38 36h3v1h-3zM44 36h1v1h-1zM27 37h1v1h-1zM32 37h3v1h-3zM39 37h1v1h-1zM41 37h1v1h-1zM10 38h1v1h-1zM23 38h2v1h-2zM38 38h1v1h-1zM40 38h1v1h-1zM42 38h1v1h-1zM44 38h1v1h-1zM7 39h1v1h-1zM10 39h1v1h-1zM23 39h1v1h-1zM26 39h2v1h-2zM34 39h1v1h-1zM40 39h1v1h-1zM42 39h1v1h-1zM21 40h1v1h-1zM23 40h1v1h-1zM14 41h3v1h-3zM44 41h2v1h-2zM15 42h2v1h-2zM26 42h1v1h-1zM30 42h4v1h-4zM45 42h3v1h-3zM4 43h1v1h-1zM6 43h2v1h-2zM14 43h1v1h-1zM27 43h3v1h-3zM36 43h1v1h-1zM14 44h1v1h-1zM19 44h1v1h-1zM25 44h3v1h-3zM29 44h2v1h-2zM51 44h1v1h-1zM3 45h1v1h-1zM9 45h1v1h-1zM32 45h1v1h-1zM35 45h1v1h-1zM48 45h1v1h-1zM7 46h1v1h-1zM14 46h3v1h-3zM21 46h2v1h-2zM28 46h1v1h-1zM31 46h2v1h-2zM41 46h1v1h-1zM47 46h1v1h-1zM50 46h1v1h-1zM10 47h1v1h-1zM13 47h1v1h-1zM15 47h1v1h-1zM22 47h1v1h-1zM27 47h1v1h-1zM33 47h1v1h-1zM48 47h1v1h-1zM5 48h2v1h-2zM14 48h1v1h-1zM22 48h1v1h-1zM36 48h1v1h-1zM44 48h1v1h-1zM47 48h1v1h-1zM6 49h1v1h-1zM20 49h1v1h-1zM25 49h1v1h-1zM30 49h1v1h-1zM33 49h1v1h-1zM37 49h1v1h-1zM39 49h1v1h-1zM49 49h1v1h-1zM54 49h1v1h-1zM10 50h2v1h-2zM28 50h1v1h-1zM32 50h1v1h-1zM37 50h2v1h-2zM40 50h2v1h-2zM47 50h1v1h-1zM54 50h1v1h-1zM26 51h1v1h-1zM40 51h2v1h-2zM49 51h1v1h-1zM18 52h1v1h-1zM42 52h1v1h-1zM48 52h2v1h-2zM54 52h2v1h-2zM39 53h2v1h-2zM42 53h1v1h-1zM45 53h1v1h-1zM49 53h1v1h-1zM17 54h1v1h-1zM27 54h1v1h-1zM30 54h2v1h-2zM39 54h1v1h-1zM42 54h1v1h-1zM49 54h1v1h-1zM25 55h1v1h-1zM29 55h1v1h-1zM49 55h1v1h-1zM18 56h1v1h-1zM28 56h3v1h-3zM38 56h3v1h-3zM48 56h2v1h-2zM52 56h1v1h-1zM21 57h1v1h-1zM31 57h1v1h-1zM37 57h2v1h-2zM40 57h1v1h-1zM33 58h1v1h-1zM37 58h1v1h-1zM41 58h1v1h-1zM48 58h1v1h-1zM19 59h1v1h-1zM29 59h1v1h-1zM39 59h1v1h-1zM41 59h1v1h-1zM49 59h3v1h-3zM21 60h1v1h-1zM24 60h1v1h-1zM29 60h1v1h-1zM33 60h2v1h-2zM36 60h1v1h-1zM50 60h1v1h-1zM14 61h1v1h-1zM23 61h4v1h-4zM28 61h1v1h-1zM35 61h1v1h-1zM42 61h2v1h-2zM49 61h1v1h-1zM15 62h1v1h-1zM17 62h1v1h-1zM25 62h2v1h-2zM31 62h1v1h-1zM33 62h1v1h-1zM35 62h1v1h-1zM38 62h1v1h-1zM43 62h1v1h-1zM15 63h1v1h-1zM25 63h1v1h-1zM28 63h1v1h-1zM31 63h2v1h-2zM34 63h1v1h-1zM36 63h1v1h-1zM43 63h2v1h-2zM27 64h2v1h-2zM38 64h1v1h-1zM8 65h1v1h-1zM16 65h1v1h-1zM24 65h1v1h-1zM28 65h1v1h-1zM39 65h1v1h-1zM44 65h1v1h-1zM7 66h4v1h-4zM22 66h1v1h-1zM24 66h2v1h-2zM34 66h1v1h-1zM8 67h1v1h-1zM10 67h1v1h-1zM21 67h1v1h-1zM41 67h1v1h-1zM9 68h1v1h-1zM26 68h1v1h-1zM40 68h1v1h-1zM43 68h1v1h-1zM9 69h1v1h-1zM20 69h1v1h-1zM41 69h1v1h-1zM27 70h1v1h-1zM41 70h1v1h-1z"/>
<path fill="#dcc644" d="M29 4h2v1h-2zM28 6h1v1h-1zM36 6h1v1h-1zM8 7h1v1h-1zM33 7h1v1h-1zM8 8h1v1h-1zM33 8h1v1h-1zM17 9h2v1h-2zM31 10h1v1h-1zM12 11h5v1h-5zM24 11h1v1h-1zM32 11h1v1h-1zM15 12h2v1h-2zM8 14h1v1h-1zM37 15h2v1h-2zM26 16h1v1h-1zM37 16h2v1h-2zM8 17h1v1h-1zM8 18h1v1h-1zM22 19h1v1h-1zM26 20h1v1h-1zM7 21h1v1h-1zM24 21h1v1h-1zM5 23h1v1h-1zM9 23h1v1h-1zM3 24h3v1h-3zM8 24h1v1h-1zM8 25h1v1h-1zM1 26h2v1h-2zM31 26h1v1h-1zM3 27h1v1h-1zM3 28h1v1h-1zM6 28h1v1h-1zM42 28h1v1h-1zM2 29h2v1h-2zM11 29h2v1h-2zM4 30h1v1h-1zM11 30h2v1h-2zM40 30h1v1h-1zM4 32h1v1h-1zM44 32h2v1h-2zM46 33h1v1h-1zM48 33h1v1h-1zM46 34h1v1h-1zM50 34h1v1h-1zM30 36h1v1h-1zM7 37h1v1h-1zM10 37h1v1h-1zM14 37h1v1h-1zM20 37h1v1h-1zM23 37h1v1h-1zM30 37h1v1h-1zM36 37h1v1h-1zM42 37h1v1h-1zM27 38h3v1h-3zM31 38h1v1h-1zM11 39h1v1h-1zM17 39h1v1h-1zM21 39h1v1h-1zM24 39h1v1h-1zM29 39h1v1h-1zM31 39h1v1h-1zM7 40h1v1h-1zM10 40h1v1h-1zM15 40h1v1h-1zM18 40h1v1h-1zM27 40h3v1h-3zM34 40h1v1h-1zM37 40h1v1h-1zM40 40h1v1h-1zM43 40h1v1h-1zM10 41h1v1h-1zM18 41h1v1h-1zM21 41h2v1h-2zM27 41h2v1h-2zM30 41h1v1h-1zM40 41h1v1h-1zM10 42h1v1h-1zM17 42h2v1h-2zM37 42h1v1h-1zM39 42h2v1h-2zM15 43h1v1h-1zM30 43h1v1h-1zM32 43h1v1h-1zM38 43h3v1h-3zM7 44h1v1h-1zM12 44h1v1h-1zM17 44h2v1h-2zM20 44h1v1h-1zM24 44h1v1h-1zM28 44h1v1h-1zM32 44h1v1h-1zM40 44h1v1h-1zM12 45h1v1h-1zM15 45h1v1h-1zM20 45h5v1h-5zM36 45h1v1h-1zM40 45h1v1h-1zM51 45h1v1h-1zM9 46h2v1h-2zM36 46h1v1h-1zM39 46h1v1h-1zM46 46h1v1h-1zM48 46h1v1h-1zM51 46h1v1h-1zM5 47h1v1h-1zM11 47h1v1h-1zM16 47h1v1h-1zM23 47h1v1h-1zM36 47h1v1h-1zM39 47h1v1h-1zM41 47h1v1h-1zM43 47h2v1h-2zM46 47h1v1h-1zM50 47h1v1h-1zM54 47h1v1h-1zM4 48h1v1h-1zM8 48h1v1h-1zM12 48h2v1h-2zM20 48h1v1h-1zM25 48h2v1h-2zM35 48h1v1h-1zM37 48h2v1h-2zM54 48h1v1h-1zM10 49h1v1h-1zM12 49h3v1h-3zM16 49h1v1h-1zM21 49h2v1h-2zM28 49h1v1h-1zM36 49h1v1h-1zM38 49h1v1h-1zM46 49h3v1h-3zM12 50h2v1h-2zM24 50h1v1h-1zM30 50h1v1h-1zM36 50h1v1h-1zM39 50h1v1h-1zM48 50h1v1h-1zM52 50h2v1h-2zM32 51h2v1h-2zM35 51h3v1h-3zM48 51h1v1h-1zM56 51h1v1h-1zM26 52h1v1h-1zM33 52h2v1h-2zM36 52h1v1h-1zM43 52h1v1h-1zM12 53h1v1h-1zM17 53h1v1h-1zM26 53h1v1h-1zM29 53h2v1h-2zM34 53h1v1h-1zM37 53h1v1h-1zM43 53h1v1h-1zM48 53h1v1h-1zM52 53h1v1h-1zM55 53h1v1h-1zM24 54h2v1h-2zM38 54h1v1h-1zM43 54h1v1h-1zM46 54h1v1h-1zM30 55h3v1h-3zM35 55h2v1h-2zM41 55h2v1h-2zM16 56h1v1h-1zM31 56h1v1h-1zM35 56h1v1h-1zM47 56h1v1h-1zM16 57h1v1h-1zM29 57h1v1h-1zM33 57h1v1h-1zM35 57h2v1h-2zM42 57h1v1h-1zM44 57h2v1h-2zM49 57h1v1h-1zM52 57h1v1h-1zM20 58h1v1h-1zM29 58h1v1h-1zM31 58h1v1h-1zM34 58h1v1h-1zM36 58h1v1h-1zM42 58h1v1h-1zM44 58h1v1h-1zM47 58h1v1h-1zM49 58h1v1h-1zM21 59h1v1h-1zM30 59h3v1h-3zM42 59h1v1h-1zM48 59h1v1h-1zM13 60h1v1h-1zM17 60h1v1h-1zM19 60h2v1h-2zM10 61h1v1h-1zM13 61h1v1h-1zM17 61h1v1h-1zM29 61h5v1h-5zM40 61h1v1h-1zM48 61h1v1h-1zM50 61h1v1h-1zM21 62h2v1h-2zM24 62h1v1h-1zM27 62h1v1h-1zM42 62h1v1h-1zM45 62h1v1h-1zM12 63h3v1h-3zM33 63h1v1h-1zM35 63h1v1h-1zM37 63h1v1h-1zM42 63h1v1h-1zM45 63h1v1h-1zM15 64h1v1h-1zM24 64h1v1h-1zM29 64h1v1h-1zM33 64h1v1h-1zM35 64h1v1h-1zM44 64h2v1h-2zM7 65h1v1h-1zM15 65h1v1h-1zM17 65h1v1h-1zM21 65h1v1h-1zM26 65h1v1h-1zM29 65h2v1h-2zM32 65h1v1h-1zM34 65h1v1h-1zM6 66h1v1h-1zM11 66h1v1h-1zM14 66h2v1h-2zM18 66h4v1h-4zM28 66h2v1h-2zM43 66h1v1h-1zM11 67h5v1h-5zM20 67h1v1h-1zM6 68h1v1h-1zM10 68h1v1h-1zM25 68h1v1h-1zM35 68h1v1h-1zM42 68h1v1h-1zM26 69h1v1h-1zM29 69h1v1h-1zM20 70h1v1h-1z"/>
<path fill="#dbcf42" d="M31 1h1v1h-1zM14 5h2v1h-2zM24 6h1v1h-1zM29 10h1v1h-1zM33 11h1v1h-1zM26 12h1v1h-1zM33 12h1v1h-1zM20 13h2v1h-2zM22 14h1v1h-1zM6 18h1v1h-1zM2 19h1v1h-1zM25 19h2v1h-2zM22 20h1v1h-1zM25 20h1v1h-1zM8 21h1v1h-1zM6 22h3v1h-3zM13 22h1v1h-1zM7 23h1v1h-1zM11 23h1v1h-1zM9 25h1v1h-1zM3 26h2v1h-2zM8 26h1v1h-1zM39 26h1v1h-1zM39 27h1v1h-1zM4 28h1v1h-1zM37 28h1v1h-1zM1 29h1v1h-1zM1 30h3v1h-3zM43 31h1v1h-1zM31 32h2v1h-2zM38 32h2v1h-2zM49 32h1v1h-1zM39 33h1v1h-1zM49 33h2v1h-2zM25 34h1v1h-1zM9 35h1v1h-1zM15 36h1v1h-1zM22 36h1v1h-1zM15 37h1v1h-1zM26 37h1v1h-1zM41 38h1v1h-1zM17 40h1v1h-1zM22 40h1v1h-1zM33 40h1v1h-1zM38 40h2v1h-2zM41 40h2v1h-2zM17 41h1v1h-1zM23 41h1v1h-1zM34 41h1v1h-1zM41 41h2v1h-2zM20 42h1v1h-1zM36 42h1v1h-1zM10 43h1v1h-1zM20 43h1v1h-1zM41 43h1v1h-1zM49 43h1v1h-1zM5 44h1v1h-1zM15 44h1v1h-1zM23 44h1v1h-1zM41 44h2v1h-2zM45 44h1v1h-1zM48 44h3v1h-3zM10 45h1v1h-1zM16 45h1v1h-1zM19 45h1v1h-1zM25 45h1v1h-1zM31 45h1v1h-1zM33 45h1v1h-1zM41 45h1v1h-1zM44 45h1v1h-1zM46 45h2v1h-2zM50 45h1v1h-1zM12 46h1v1h-1zM20 46h1v1h-1zM23 46h4v1h-4zM43 46h3v1h-3zM49 46h1v1h-1zM12 47h1v1h-1zM17 47h1v1h-1zM29 47h1v1h-1zM34 47h1v1h-1zM37 47h1v1h-1zM45 47h1v1h-1zM49 47h1v1h-1zM51 47h1v1h-1zM7 48h1v1h-1zM21 48h1v1h-1zM27 48h2v1h-2zM33 48h2v1h-2zM40 48h1v1h-1zM45 48h2v1h-2zM49 48h1v1h-1zM8 49h1v1h-1zM23 49h1v1h-1zM32 49h1v1h-1zM40 49h1v1h-1zM45 49h1v1h-1zM9 50h1v1h-1zM14 50h1v1h-1zM16 50h2v1h-2zM20 50h3v1h-3zM25 50h1v1h-1zM38 51h2v1h-2zM55 51h1v1h-1zM12 52h1v1h-1zM20 52h1v1h-1zM30 52h1v1h-1zM35 52h1v1h-1zM37 52h1v1h-1zM44 52h2v1h-2zM31 53h1v1h-1zM35 53h1v1h-1zM44 53h1v1h-1zM34 54h1v1h-1zM22 55h1v1h-1zM24 55h1v1h-1zM33 55h1v1h-1zM37 55h2v1h-2zM40 55h1v1h-1zM48 55h1v1h-1zM24 56h1v1h-1zM32 56h1v1h-1zM42 56h1v1h-1zM44 56h1v1h-1zM24 57h1v1h-1zM32 57h1v1h-1zM46 57h2v1h-2zM21 58h1v1h-1zM23 58h2v1h-2zM27 58h1v1h-1zM30 58h1v1h-1zM43 58h1v1h-1zM45 58h1v1h-1zM52 58h1v1h-1zM11 59h1v1h-1zM20 59h1v1h-1zM37 59h1v1h-1zM30 60h3v1h-3zM18 61h1v1h-1zM41 61h1v1h-1zM44 61h1v1h-1zM23 62h1v1h-1zM39 62h1v1h-1zM49 62h1v1h-1zM21 63h1v1h-1zM29 63h1v1h-1zM11 64h4v1h-4zM16 64h1v1h-1zM25 64h2v1h-2zM30 64h1v1h-1zM36 64h1v1h-1zM39 64h1v1h-1zM41 64h2v1h-2zM47 64h1v1h-1zM5 65h1v1h-1zM9 65h3v1h-3zM13 65h2v1h-2zM18 65h1v1h-1zM20 65h1v1h-1zM22 65h2v1h-2zM35 65h1v1h-1zM38 65h1v1h-1zM41 65h1v1h-1zM12 66h1v1h-1zM17 66h1v1h-1zM35 66h1v1h-1zM44 66h1v1h-1zM4 67h3v1h-3zM19 67h1v1h-1zM24 67h2v1h-2zM29 67h1v1h-1zM19 68h1v1h-1zM29 68h1v1h-1zM38 68h2v1h-2zM17 69h1v1h-1zM34 69h1v1h-1z"/>
<path fill="#dad940" d="M34 4h1v1h-1zM24 7h1v1h-1zM10 13h1v1h-1zM22 13h1v1h-1zM20 14h2v1h-2zM31 14h2v1h-2zM37 14h1v1h-1zM9 17h1v1h-1zM3 18h1v1h-1zM9 18h1v1h-1zM9 22h2v1h-2zM12 22h1v1h-1zM8 23h1v1h-1zM10 23h1v1h-1zM27 23h1v1h-1zM7 24h1v1h-1zM6 25h2v1h-2zM35 27h1v1h-1zM35 28h1v1h-1zM5 31h1v1h-1zM30 32h1v1h-1zM43 32h1v1h-1zM23 35h1v1h-1zM25 35h1v1h-1zM14 36h1v1h-1zM32 36h1v1h-1zM42 36h2v1h-2zM25 37h1v1h-1zM31 37h1v1h-1zM38 37h1v1h-1zM44 37h1v1h-1zM30 38h1v1h-1zM37 38h1v1h-1zM30 39h1v1h-1zM38 39h2v1h-2zM29 41h1v1h-1zM31 41h3v1h-3zM43 41h1v1h-1zM23 42h1v1h-1zM41 42h3v1h-3zM19 43h1v1h-1zM42 43h2v1h-2zM46 43h1v1h-1zM6 44h1v1h-1zM22 44h1v1h-1zM27 45h3v1h-3zM34 45h1v1h-1zM49 45h1v1h-1zM6 46h1v1h-1zM11 46h1v1h-1zM27 46h1v1h-1zM42 46h1v1h-1zM21 47h1v1h-1zM24 47h1v1h-1zM28 47h1v1h-1zM38 47h1v1h-1zM23 48h2v1h-2zM30 48h1v1h-1zM39 48h1v1h-1zM43 48h1v1h-1zM24 49h1v1h-1zM26 49h2v1h-2zM31 49h1v1h-1zM34 49h1v1h-1zM41 49h1v1h-1zM43 49h1v1h-1zM18 50h2v1h-2zM23 50h1v1h-1zM34 50h1v1h-1zM43 50h1v1h-1zM46 50h1v1h-1zM30 51h1v1h-1zM34 51h1v1h-1zM43 51h1v1h-1zM17 52h1v1h-1zM19 52h1v1h-1zM21 52h1v1h-1zM36 53h1v1h-1zM53 53h2v1h-2zM23 55h1v1h-1zM34 55h1v1h-1zM44 55h1v1h-1zM50 55h1v1h-1zM33 56h2v1h-2zM37 56h1v1h-1zM39 57h1v1h-1zM35 58h1v1h-1zM46 58h1v1h-1zM35 59h1v1h-1zM45 59h3v1h-3zM15 60h1v1h-1zM35 60h1v1h-1zM41 60h2v1h-2zM46 60h2v1h-2zM49 60h1v1h-1zM16 61h1v1h-1zM46 61h2v1h-2zM16 62h1v1h-1zM28 62h1v1h-1zM30 62h1v1h-1zM48 62h1v1h-1zM11 63h1v1h-1zM20 63h1v1h-1zM24 63h1v1h-1zM26 63h2v1h-2zM30 63h1v1h-1zM39 63h1v1h-1zM48 63h1v1h-1zM22 64h2v1h-2zM37 64h1v1h-1zM43 64h1v1h-1zM46 64h1v1h-1zM6 65h1v1h-1zM12 65h1v1h-1zM31 65h1v1h-1zM42 65h1v1h-1zM45 65h1v1h-1zM5 66h1v1h-1zM13 66h1v1h-1zM16 66h1v1h-1zM9 67h1v1h-1zM16 67h1v1h-1zM40 67h1v1h-1zM5 68h1v1h-1zM12 68h1v1h-1zM23 68h1v1h-1zM36 68h1v1h-1zM26 70h1v1h-1zM34 70h1v1h-1z"/>
<path fill="#cdd53f" d="M19 5h1v1h-1zM35 5h1v1h-1zM14 6h1v1h-1zM21 8h1v1h-1zM9 9h2v1h-2zM26 9h2v1h-2zM31 13h2v1h-2zM9 15h1v1h-1zM14 15h1v1h-1zM7 16h1v1h-1zM10 17h1v1h-1zM39 19h1v1h-1zM27 22h1v1h-1zM36 22h1v1h-1zM25 23h1v1h-1zM35 23h1v1h-1zM4 25h1v1h-1zM31 25h1v1h-1zM6 26h1v1h-1zM1 27h1v1h-1zM7 27h1v1h-1zM36 27h1v1h-1zM36 28h1v1h-1zM8 29h1v1h-1zM3 31h1v1h-1zM17 31h1v1h-1zM40 32h1v1h-1zM12 33h1v1h-1zM16 33h1v1h-1zM26 33h1v1h-1zM40 33h1v1h-1zM34 34h1v1h-1zM29 36h1v1h-1zM24 37h1v1h-1zM37 37h1v1h-1zM11 38h1v1h-1zM32 38h5v1h-5zM12 39h2v1h-2zM32 39h1v1h-1zM36 39h1v1h-1zM9 40h1v1h-1zM12 40h2v1h-2zM16 40h1v1h-1zM30 40h1v1h-1zM35 41h2v1h-2zM19 42h1v1h-1zM38 42h1v1h-1zM44 42h1v1h-1zM49 42h1v1h-1zM45 43h1v1h-1zM48 43h1v1h-1zM50 43h1v1h-1zM4 44h1v1h-1zM21 44h1v1h-1zM36 44h2v1h-2zM43 44h1v1h-1zM46 44h2v1h-2zM4 45h1v1h-1zM26 45h1v1h-1zM37 45h1v1h-1zM45 45h1v1h-1zM35 46h1v1h-1zM18 47h1v1h-1zM20 47h1v1h-1zM25 47h2v1h-2zM35 47h1v1h-1zM29 48h1v1h-1zM35 49h1v1h-1zM35 50h1v1h-1zM45 50h1v1h-1zM47 51h1v1h-1zM50 51h2v1h-2zM53 51h1v1h-1zM41 52h1v1h-1zM53 52h1v1h-1zM22 53h1v1h-1zM24 53h2v1h-2zM38 53h1v1h-1zM51 53h1v1h-1zM37 54h1v1h-1zM50 54h1v1h-1zM54 54h2v1h-2zM39 55h1v1h-1zM45 55h1v1h-1zM23 56h1v1h-1zM36 56h1v1h-1zM45 56h2v1h-2zM50 56h1v1h-1zM23 57h1v1h-1zM39 58h1v1h-1zM15 59h1v1h-1zM43 59h1v1h-1zM40 60h1v1h-1zM43 60h1v1h-1zM48 60h1v1h-1zM29 62h1v1h-1zM19 63h1v1h-1zM23 63h1v1h-1zM38 63h1v1h-1zM41 63h1v1h-1zM17 64h1v1h-1zM31 64h1v1h-1zM40 64h1v1h-1zM40 65h1v1h-1zM43 65h1v1h-1zM23 66h1v1h-1zM40 66h1v1h-1zM22 67h2v1h-2zM35 67h1v1h-1zM39 67h1v1h-1zM4 68h1v1h-1zM24 68h1v1h-1zM37 68h1v1h-1zM40 69h1v1h-1z"/>
<path fill="#c1d13e" d="M33 5h1v1h-1zM11 6h2v1h-2zM31 6h1v1h-1zM31 7h1v1h-1zM8 9h1v1h-1zM26 11h1v1h-1zM28 11h1v1h-1zM30 11h1v1h-1zM37 12h1v1h-1zM36 13h2v1h-2zM7 15h1v1h-1zM15 15h1v1h-1zM10 16h1v1h-1zM39 18h1v1h-1zM34 22h2v1h-2zM31 24h1v1h-1zM30 26h1v1h-1zM0 27h1v1h-1zM1 28h2v1h-2zM7 28h2v1h-2zM7 30h2v1h-2zM14 33h2v1h-2zM23 33h1v1h-1zM25 33h1v1h-1zM34 33h1v1h-1zM37 33h1v1h-1zM42 33h1v1h-1zM42 34h1v1h-1zM44 34h1v1h-1zM34 35h1v1h-1zM23 36h1v1h-1zM6 37h1v1h-1zM13 37h1v1h-1zM29 37h1v1h-1zM8 38h2v1h-2zM12 38h3v1h-3zM17 38h2v1h-2zM9 39h1v1h-1zM22 39h1v1h-1zM8 40h1v1h-1zM14 40h1v1h-1zM32 40h1v1h-1zM25 41h2v1h-2zM37 41h1v1h-1zM39 41h1v1h-1zM33 43h1v1h-1zM44 43h1v1h-1zM47 43h1v1h-1zM33 44h2v1h-2zM39 44h1v1h-1zM5 46h1v1h-1zM38 46h1v1h-1zM14 47h1v1h-1zM52 47h2v1h-2zM50 49h1v1h-1zM6 50h1v1h-1zM15 50h1v1h-1zM42 50h1v1h-1zM50 50h1v1h-1zM17 51h1v1h-1zM52 51h1v1h-1zM22 52h1v1h-1zM24 52h2v1h-2zM38 52h1v1h-1zM51 52h2v1h-2zM46 53h1v1h-1zM46 55h2v1h-2zM51 56h1v1h-1zM50 57h1v1h-1zM18 58h1v1h-1zM32 58h1v1h-1zM44 59h1v1h-1zM44 60h2v1h-2zM34 61h1v1h-1zM45 61h1v1h-1zM40 62h1v1h-1zM17 63h2v1h-2zM40 63h1v1h-1zM18 64h1v1h-1zM20 64h2v1h-2zM32 64h1v1h-1zM30 66h1v1h-1zM38 66h2v1h-2zM36 67h2v1h-2zM40 70h1v1h-1z"/>
<path fill="#b5cd3d" d="M13 6h1v1h-1zM11 7h1v1h-1zM11 8h1v1h-1zM31 8h1v1h-1zM31 9h1v1h-1zM26 10h1v1h-1zM27 11h1v1h-1zM36 12h1v1h-1zM9 14h1v1h-1zM40 14h1v1h-1zM6 19h1v1h-1zM37 19h1v1h-1zM4 22h1v1h-1zM37 22h1v1h-1zM2 27h1v1h-1zM5 27h1v1h-1zM0 28h1v1h-1zM13 33h1v1h-1zM24 33h1v1h-1zM36 33h1v1h-1zM43 33h2v1h-2zM43 34h1v1h-1zM45 34h1v1h-1zM25 36h1v1h-1zM28 36h1v1h-1zM12 37h1v1h-1zM28 37h1v1h-1zM14 39h1v1h-1zM38 41h1v1h-1zM21 42h1v1h-1zM48 42h1v1h-1zM16 43h1v1h-1zM16 44h1v1h-1zM39 45h1v1h-1zM37 46h1v1h-1zM52 46h1v1h-1zM42 47h1v1h-1zM51 48h1v1h-1zM42 49h1v1h-1zM23 52h1v1h-1zM23 53h1v1h-1zM32 54h2v1h-2zM8 56h1v1h-1zM8 57h1v1h-1zM51 57h1v1h-1zM38 59h1v1h-1zM20 61h1v1h-1zM34 62h1v1h-1zM41 62h1v1h-1zM16 63h1v1h-1zM46 63h2v1h-2zM36 65h2v1h-2zM41 66h1v1h-1z"/>
<path fill="#aac93d" d="M5 19h1v1h-1zM42 20h1v1h-1zM5 22h1v1h-1zM4 31h1v1h-1zM43 35h2v1h-2zM45 36h1v1h-1zM31 40h1v1h-1zM21 43h2v1h-2zM31 43h1v1h-1zM31 44h1v1h-1zM38 44h1v1h-1zM3 46h2v1h-2zM19 46h1v1h-1zM3 47h1v1h-1zM16 48h1v1h-1zM41 48h2v1h-2zM53 48h1v1h-1zM19 49h1v1h-1zM53 49h1v1h-1zM49 50h1v1h-1zM51 50h1v1h-1zM31 51h1v1h-1zM39 52h2v1h-2zM32 53h2v1h-2zM35 54h2v1h-2zM43 55h1v1h-1zM22 56h1v1h-1zM22 57h1v1h-1zM41 57h1v1h-1zM38 58h1v1h-1zM20 62h1v1h-1zM46 62h2v1h-2zM8 63h1v1h-1zM10 63h1v1h-1zM6 64h5v1h-5zM36 66h2v1h-2zM17 67h2v1h-2zM28 67h1v1h-1zM30 67h2v1h-2zM38 67h1v1h-1zM11 68h1v1h-1zM17 68h2v1h-2zM27 68h1v1h-1zM31 68h1v1h-1zM31 69h1v1h-1zM35 69h1v1h-1z"/>
<path fill="#9fc63d" d="M22 8h2v1h-2zM38 18h1v1h-1zM38 19h1v1h-1zM42 21h1v1h-1zM22 42h1v1h-1zM34 42h1v1h-1zM35 44h1v1h-1zM44 44h1v1h-1zM38 45h1v1h-1zM42 45h2v1h-2zM4 47h1v1h-1zM19 47h1v1h-1zM15 48h1v1h-1zM17 48h3v1h-3zM50 48h1v1h-1zM18 49h1v1h-1zM44 49h1v1h-1zM51 49h1v1h-1zM31 50h1v1h-1zM44 50h1v1h-1zM41 56h1v1h-1zM43 56h1v1h-1zM43 57h1v1h-1zM19 61h1v1h-1zM7 62h1v1h-1zM10 62h1v1h-1zM9 63h1v1h-1zM4 66h1v1h-1zM27 67h1v1h-1zM28 68h1v1h-1zM30 68h1v1h-1zM11 69h1v1h-1zM27 69h2v1h-2zM30 69h1v1h-1zM36 69h3v1h-3zM36 70h2v1h-2z"/>
<path fill="#95c23e" d="M26 30h1v1h-1zM35 42h1v1h-1zM34 43h2v1h-2zM52 48h1v1h-1zM52 49h1v1h-1zM6 62h1v1h-1zM8 62h2v1h-2zM6 63h2v1h-2z"/>
<path fill="#8abe3e" d="M13 7h2v1h-2zM25 8h3v1h-3zM33 22h1v1h-1zM29 32h1v1h-1zM28 33h2v1h-2zM11 34h1v1h-1zM8 36h2v1h-2zM8 37h2v1h-2zM5 38h2v1h-2zM25 38h1v1h-1zM33 39h1v1h-1zM4 41h1v1h-1zM11 42h1v1h-1zM17 45h1v1h-1zM17 46h1v1h-1zM3 48h1v1h-1zM17 49h1v1h-1zM44 51h1v1h-1zM47 52h1v1h-1zM48 54h1v1h-1zM17 57h1v1h-1zM18 62h1v1h-1zM19 65h1v1h-1zM3 67h1v1h-1z"/>
<path fill="#7fba3e" d="M34 5h1v1h-1zM15 6h3v1h-3zM38 20h1v1h-1zM38 22h1v1h-1zM6 23h1v1h-1zM38 23h1v1h-1zM6 24h1v1h-1zM3 25h1v1h-1zM5 25h1v1h-1zM4 27h1v1h-1zM7 29h1v1h-1zM35 33h1v1h-1zM45 33h1v1h-1zM12 34h1v1h-1zM11 35h2v1h-2zM11 36h1v1h-1zM13 36h1v1h-1zM26 38h1v1h-1zM8 39h1v1h-1zM3 41h1v1h-1zM11 41h1v1h-1zM11 43h1v1h-1zM23 43h1v1h-1zM5 45h1v1h-1zM45 51h2v1h-2zM46 52h1v1h-1zM47 53h1v1h-1zM44 54h2v1h-2zM47 54h1v1h-1zM17 55h1v1h-1zM17 56h1v1h-1zM50 58h1v1h-1zM18 60h1v1h-1zM5 62h1v1h-1zM19 62h1v1h-1zM44 62h1v1h-1zM5 63h1v1h-1zM22 63h1v1h-1zM5 64h1v1h-1zM19 64h1v1h-1zM34 64h1v1h-1zM25 65h1v1h-1z"/>
<path fill="#78b83f" d="M12 36h1v1h-1zM6 45h1v1h-1zM18 45h1v1h-1zM18 46h1v1h-1zM4 49h1v1h-1zM9 51h1v1h-1zM23 51h2v1h-2zM5 55h1v1h-1zM51 58h1v1h-1zM5 59h1v1h-1z"/>
<path fill="#71b641" d="M5 49h1v1h-1zM4 50h1v1h-1zM6 51h1v1h-1zM10 51h1v1h-1zM12 51h3v1h-3zM21 51h2v1h-2zM25 51h1v1h-1zM4 52h2v1h-2zM10 52h1v1h-1zM5 53h2v1h-2zM11 53h1v1h-1zM16 53h1v1h-1zM5 54h2v1h-2zM12 54h1v1h-1zM16 54h1v1h-1zM6 55h1v1h-1zM9 55h1v1h-1zM11 55h1v1h-1zM15 55h1v1h-1zM6 56h1v1h-1zM11 56h3v1h-3zM15 56h1v1h-1zM6 57h1v1h-1zM9 57h1v1h-1zM11 57h1v1h-1zM13 57h3v1h-3zM9 58h1v1h-1zM11 58h5v1h-5zM6 59h1v1h-1zM7 60h3v1h-3zM8 61h1v1h-1z"/>
<path fill="#6ab442" d="M32 6h1v1h-1zM12 7h1v1h-1zM21 7h2v1h-2zM2 25h1v1h-1zM5 50h1v1h-1zM4 51h2v1h-2zM11 51h1v1h-1zM15 51h2v1h-2zM6 52h1v1h-1zM11 52h1v1h-1zM13 52h1v1h-1zM31 52h1v1h-1zM10 53h1v1h-1zM13 53h1v1h-1zM10 54h2v1h-2zM13 54h1v1h-1zM7 55h2v1h-2zM10 55h1v1h-1zM12 55h3v1h-3zM16 55h1v1h-1zM9 56h1v1h-1zM14 56h1v1h-1zM12 57h1v1h-1zM6 58h1v1h-1zM8 58h1v1h-1zM7 59h3v1h-3zM5 60h2v1h-2zM5 61h3v1h-3zM9 61h1v1h-1z"/>
<path fill="#64b143" d="M18 6h3v1h-3zM30 8h1v1h-1zM30 9h1v1h-1zM23 34h2v1h-2zM5 43h1v1h-1zM11 44h1v1h-1zM32 52h1v1h-1zM10 58h1v1h-1zM10 59h1v1h-1zM10 60h1v1h-1z"/>
<path fill="#5daf45" d="M10 44h1v1h-1z"/>
<path fill="#56ad46" d="M24 36h1v1h-1zM7 45h1v1h-1zM7 52h1v1h-1z"/>
<path fill="#52aa47" d="M24 35h1v1h-1zM9 52h1v1h-1zM14 52h1v1h-1zM8 54h1v1h-1zM15 54h1v1h-1zM10 56h1v1h-1zM10 57h1v1h-1zM4 65h1v1h-1z"/>
<path fill="#4ea748" d="M8 52h1v1h-1zM15 52h1v1h-1zM7 53h2v1h-2zM14 53h1v1h-1zM7 54h1v1h-1zM9 54h1v1h-1zM7 56h1v1h-1zM7 57h1v1h-1zM7 58h1v1h-1z"/>
<path fill="#49a449" d="M9 53h1v1h-1zM15 53h1v1h-1zM14 54h1v1h-1z"/>
<path fill="#419d4b" d="M11 45h1v1h-1zM18 51h3v1h-3zM16 52h1v1h-1z"/>
</g></g>
<rect x="165.5" y="100.2" width="942.0" height="706.05" fill="none" stroke="#1c191a" stroke-width="4.3" stroke-linejoin="round"/>
<line x1="141.00" y1="127.80" x2="165.50" y2="127.80" stroke="#1c191a" stroke-width="4.3" stroke-linecap="round"/>
<line x1="141.00" y1="226.73" x2="165.50" y2="226.73" stroke="#1c191a" stroke-width="4.3" stroke-linecap="round"/>
<line x1="141.00" y1="325.66" x2="165.50" y2="325.66" stroke="#1c191a" stroke-width="4.3" stroke-linecap="round"/>
<line x1="141.00" y1="424.59" x2="165.50" y2="424.59" stroke="#1c191a" stroke-width="4.3" stroke-linecap="round"/>
<line x1="141.00" y1="523.52" x2="165.50" y2="523.52" stroke="#1c191a" stroke-width="4.3" stroke-linecap="round"/>
<line x1="141.00" y1="622.45" x2="165.50" y2="622.45" stroke="#1c191a" stroke-width="4.3" stroke-linecap="round"/>
<line x1="141.00" y1="721.38" x2="165.50" y2="721.38" stroke="#1c191a" stroke-width="4.3" stroke-linecap="round"/>
<g transform="translate(111.6,127.8) rotate(-90)"><text x="-83.5" y="0" font-size="39.5" textLength="167.0" lengthAdjust="spacingAndGlyphs">3,860,000</text></g>
<g transform="translate(111.6,424.6) rotate(-90)"><text x="-83.5" y="0" font-size="39.5" textLength="167.0" lengthAdjust="spacingAndGlyphs">3,830,000</text></g>
<g transform="translate(111.6,721.4) rotate(-90)"><text x="-83.5" y="0" font-size="39.5" textLength="167.0" lengthAdjust="spacingAndGlyphs">3,800,000</text></g>
<line x1="229.90" y1="806.25" x2="229.90" y2="831.20" stroke="#1c191a" stroke-width="4.3" stroke-linecap="round"/>
<g transform="translate(229.9,889.2)"><text x="-69.5" y="0" font-size="39.5" textLength="139.0" lengthAdjust="spacingAndGlyphs">400,000</text></g>
<line x1="427.75" y1="806.25" x2="427.75" y2="831.20" stroke="#1c191a" stroke-width="4.3" stroke-linecap="round"/>
<g transform="translate(427.8,889.2)"><text x="-69.5" y="0" font-size="39.5" textLength="139.0" lengthAdjust="spacingAndGlyphs">420,000</text></g>
<line x1="625.60" y1="806.25" x2="625.60" y2="831.20" stroke="#1c191a" stroke-width="4.3" stroke-linecap="round"/>
<g transform="translate(625.6,889.2)"><text x="-69.5" y="0" font-size="39.5" textLength="139.0" lengthAdjust="spacingAndGlyphs">440,000</text></g>
<line x1="823.45" y1="806.25" x2="823.45" y2="831.20" stroke="#1c191a" stroke-width="4.3" stroke-linecap="round"/>
<g transform="translate(823.4,889.2)"><text x="-69.5" y="0" font-size="39.5" textLength="139.0" lengthAdjust="spacingAndGlyphs">460,000</text></g>
<line x1="1021.30" y1="806.25" x2="1021.30" y2="831.20" stroke="#1c191a" stroke-width="4.3" stroke-linecap="round"/>
<g transform="translate(1021.3,889.2)"><text x="-69.5" y="0" font-size="39.5" textLength="139.0" lengthAdjust="spacingAndGlyphs">480,000</text></g>
<g transform="translate(641.3,942.4)"><text x="-91.0" y="0" font-size="41.3" textLength="182.0" lengthAdjust="spacingAndGlyphs">Longitude</text></g>
<g transform="translate(58.8,450.5) rotate(-90)"><text x="-72.5" y="0" font-size="41.3" textLength="145.0" lengthAdjust="spacingAndGlyphs">Latitude</text></g>
<g transform="translate(305.5,68.2)"><text x="0.0" y="0" font-size="51" textLength="568.0" lengthAdjust="spacingAndGlyphs">log10(P value) distribution</text></g>
<linearGradient id="cbc" x1="0" y1="1" x2="0" y2="0"><stop offset="0.0" stop-color="#eee4e4"/><stop offset="0.1" stop-color="#ebc4bc"/><stop offset="0.22" stop-color="#e5a07c"/><stop offset="0.35" stop-color="#dba652"/><stop offset="0.43" stop-color="#ddbe45"/><stop offset="0.5" stop-color="#dad940"/><stop offset="0.57" stop-color="#b7ce3d"/><stop offset="0.7" stop-color="#7fba3e"/><stop offset="0.85" stop-color="#56ad46"/><stop offset="1.0" stop-color="#3d9a4c"/></linearGradient>
<rect x="1130.9" y="277.1" width="16.400000000000045" height="351.2" fill="url(#cbc)" stroke="#1c191a" stroke-width="3.8" stroke-linejoin="round"/>
<line x1="1149.20" y1="350.95" x2="1172.30" y2="350.95" stroke="#1c191a" stroke-width="4.0" stroke-linecap="round"/>
<g transform="translate(1198.0,365.6)"><text x="0.0" y="0" font-size="39.5" textLength="44.6" lengthAdjust="spacingAndGlyphs">−1</text></g>
<line x1="1149.20" y1="429.71" x2="1172.30" y2="429.71" stroke="#1c191a" stroke-width="4.0" stroke-linecap="round"/>
<g transform="translate(1198.0,444.3)"><text x="0.0" y="0" font-size="39.5" textLength="44.6" lengthAdjust="spacingAndGlyphs">−2</text></g>
<line x1="1149.20" y1="508.47" x2="1172.30" y2="508.47" stroke="#1c191a" stroke-width="4.0" stroke-linecap="round"/>
<g transform="translate(1198.0,523.1)"><text x="0.0" y="0" font-size="39.5" textLength="44.6" lengthAdjust="spacingAndGlyphs">−3</text></g>
<line x1="1149.20" y1="587.23" x2="1172.30" y2="587.23" stroke="#1c191a" stroke-width="4.0" stroke-linecap="round"/>
<g transform="translate(1198.0,601.8)"><text x="0.0" y="0" font-size="39.5" textLength="44.6" lengthAdjust="spacingAndGlyphs">−4</text></g>
</g>
<g transform="matrix(1,0,0,1.0034,0,2014.71)">
<clipPath id="cpe"><rect x="165.5" y="100.2" width="942.0" height="706.05"/></clipPath>
<g clip-path="url(#cpe)"><g transform="translate(352.05,100.9) scale(9.822,9.8)" shape-rendering="crispEdges">
<path fill="#ecccc6" d="M19 51h1v1h-1z"/>
<path fill="#e7ae94" d="M18 51h1v1h-1zM20 51h1v1h-1zM16 52h1v1h-1z"/>
<path fill="#e6a687" d="M8 53h1v1h-1zM7 54h3v1h-3z"/>
<path fill="#e5a07a" d="M24 35h1v1h-1zM7 53h1v1h-1zM9 53h1v1h-1zM10 56h1v1h-1z"/>
<path fill="#e3a172" d="M24 36h1v1h-1zM31 52h2v1h-2zM14 53h2v1h-2zM14 54h2v1h-2zM9 55h1v1h-1zM11 56h1v1h-1zM10 57h2v1h-2z"/>
<path fill="#e1a36a" d="M46 29h1v1h-1zM44 30h4v1h-4zM24 31h3v1h-3zM45 31h3v1h-3zM23 32h4v1h-4zM45 32h4v1h-4zM24 33h3v1h-3zM47 33h2v1h-2zM24 34h3v1h-3zM48 34h1v1h-1zM25 35h1v1h-1zM25 36h1v1h-1zM26 37h1v1h-1zM26 38h1v1h-1zM27 41h2v1h-2zM27 42h2v1h-2zM28 43h1v1h-1zM35 44h5v1h-5zM33 45h5v1h-5zM34 46h1v1h-1zM36 46h2v1h-2zM36 47h2v1h-2zM14 52h2v1h-2zM6 53h1v1h-1zM5 54h2v1h-2zM10 54h4v1h-4zM37 54h1v1h-1zM6 55h3v1h-3zM10 55h5v1h-5zM36 55h2v1h-2zM9 56h1v1h-1zM12 56h1v1h-1zM35 56h3v1h-3zM35 57h2v1h-2zM25 58h2v1h-2zM26 59h1v1h-1z"/>
<path fill="#dfa462" d="M17 6h1v1h-1zM19 6h1v1h-1zM38 23h1v1h-1zM42 24h1v1h-1zM42 25h1v1h-1zM42 26h2v1h-2zM42 27h1v1h-1zM44 27h2v1h-2zM42 28h4v1h-4zM33 29h1v1h-1zM42 29h4v1h-4zM24 30h3v1h-3zM33 30h1v1h-1zM42 30h2v1h-2zM21 31h3v1h-3zM27 31h2v1h-2zM30 31h1v1h-1zM33 31h1v1h-1zM42 31h3v1h-3zM20 32h3v1h-3zM27 32h9v1h-9zM42 32h3v1h-3zM49 32h1v1h-1zM22 33h2v1h-2zM27 33h2v1h-2zM30 33h6v1h-6zM43 33h4v1h-4zM49 33h1v1h-1zM23 34h1v1h-1zM27 34h2v1h-2zM33 34h2v1h-2zM46 34h2v1h-2zM49 34h1v1h-1zM26 35h2v1h-2zM46 35h2v1h-2zM26 36h2v1h-2zM24 37h2v1h-2zM27 37h1v1h-1zM25 38h1v1h-1zM27 38h2v1h-2zM25 39h4v1h-4zM25 40h5v1h-5zM25 41h2v1h-2zM29 41h1v1h-1zM24 42h3v1h-3zM29 42h2v1h-2zM39 42h2v1h-2zM24 43h4v1h-4zM29 43h3v1h-3zM38 43h5v1h-5zM22 44h13v1h-13zM40 44h4v1h-4zM52 44h1v1h-1zM17 45h16v1h-16zM38 45h5v1h-5zM17 46h13v1h-13zM31 46h3v1h-3zM35 46h1v1h-1zM38 46h1v1h-1zM18 47h11v1h-11zM32 47h4v1h-4zM17 48h2v1h-2zM21 48h7v1h-7zM33 48h6v1h-6zM16 49h2v1h-2zM22 49h3v1h-3zM33 49h1v1h-1zM35 49h6v1h-6zM16 50h5v1h-5zM23 50h1v1h-1zM34 50h7v1h-7zM15 51h2v1h-2zM26 51h2v1h-2zM31 51h1v1h-1zM34 51h6v1h-6zM8 52h1v1h-1zM23 52h1v1h-1zM28 52h3v1h-3zM33 52h7v1h-7zM5 53h1v1h-1zM10 53h4v1h-4zM27 53h13v1h-13zM25 54h12v1h-12zM38 54h1v1h-1zM5 55h1v1h-1zM15 55h1v1h-1zM23 55h13v1h-13zM38 55h1v1h-1zM6 56h3v1h-3zM13 56h2v1h-2zM25 56h10v1h-10zM38 56h1v1h-1zM21 57h2v1h-2zM24 57h11v1h-11zM37 57h2v1h-2zM21 58h4v1h-4zM27 58h4v1h-4zM32 58h8v1h-8zM22 59h4v1h-4zM27 59h4v1h-4zM33 59h7v1h-7zM23 60h4v1h-4zM33 60h5v1h-5zM33 61h2v1h-2zM45 65h1v1h-1zM44 66h1v1h-1zM43 68h1v1h-1z"/>
<path fill="#dda55a" d="M15 6h2v1h-2zM18 6h1v1h-1zM20 6h1v1h-1zM12 7h1v1h-1zM21 7h2v1h-2zM25 8h3v1h-3zM30 8h1v1h-1zM30 9h1v1h-1zM42 20h1v1h-1zM41 21h2v1h-2zM41 22h2v1h-2zM41 23h2v1h-2zM41 24h1v1h-1zM2 25h2v1h-2zM41 25h1v1h-1zM41 26h1v1h-1zM30 27h1v1h-1zM32 27h3v1h-3zM41 27h1v1h-1zM43 27h1v1h-1zM30 28h5v1h-5zM41 28h1v1h-1zM24 29h4v1h-4zM29 29h4v1h-4zM34 29h1v1h-1zM41 29h1v1h-1zM21 30h3v1h-3zM27 30h6v1h-6zM34 30h1v1h-1zM40 30h2v1h-2zM19 31h2v1h-2zM29 31h1v1h-1zM31 31h2v1h-2zM34 31h2v1h-2zM41 31h1v1h-1zM19 32h1v1h-1zM36 32h1v1h-1zM40 32h2v1h-2zM20 33h2v1h-2zM29 33h1v1h-1zM36 33h1v1h-1zM40 33h3v1h-3zM21 34h2v1h-2zM29 34h4v1h-4zM35 34h3v1h-3zM40 34h6v1h-6zM50 34h1v1h-1zM22 35h2v1h-2zM28 35h3v1h-3zM33 35h5v1h-5zM43 35h3v1h-3zM23 36h1v1h-1zM28 36h3v1h-3zM35 36h3v1h-3zM44 36h2v1h-2zM23 37h1v1h-1zM28 37h3v1h-3zM44 37h1v1h-1zM24 38h1v1h-1zM29 38h2v1h-2zM24 39h1v1h-1zM29 39h2v1h-2zM24 40h1v1h-1zM30 40h1v1h-1zM24 41h1v1h-1zM30 41h2v1h-2zM38 41h3v1h-3zM23 42h1v1h-1zM31 42h2v1h-2zM35 42h4v1h-4zM41 42h3v1h-3zM45 42h1v1h-1zM48 42h2v1h-2zM22 43h2v1h-2zM32 43h6v1h-6zM43 43h8v1h-8zM17 44h5v1h-5zM44 44h5v1h-5zM50 44h2v1h-2zM16 45h1v1h-1zM43 45h2v1h-2zM46 45h1v1h-1zM30 46h1v1h-1zM42 46h4v1h-4zM16 47h2v1h-2zM29 47h3v1h-3zM38 47h1v1h-1zM42 47h3v1h-3zM16 48h1v1h-1zM19 48h2v1h-2zM28 48h5v1h-5zM39 48h4v1h-4zM15 49h1v1h-1zM18 49h4v1h-4zM25 49h8v1h-8zM34 49h1v1h-1zM41 49h2v1h-2zM44 49h1v1h-1zM14 50h2v1h-2zM21 50h2v1h-2zM24 50h10v1h-10zM41 50h5v1h-5zM14 51h1v1h-1zM17 51h1v1h-1zM21 51h5v1h-5zM28 51h3v1h-3zM32 51h2v1h-2zM40 51h3v1h-3zM4 52h4v1h-4zM9 52h5v1h-5zM22 52h1v1h-1zM24 52h4v1h-4zM40 52h3v1h-3zM16 53h1v1h-1zM22 53h5v1h-5zM40 53h3v1h-3zM16 54h1v1h-1zM22 54h3v1h-3zM39 54h2v1h-2zM16 55h1v1h-1zM21 55h2v1h-2zM39 55h3v1h-3zM15 56h2v1h-2zM21 56h4v1h-4zM39 56h3v1h-3zM6 57h1v1h-1zM9 57h1v1h-1zM12 57h2v1h-2zM20 57h1v1h-1zM23 57h1v1h-1zM39 57h2v1h-2zM19 58h2v1h-2zM31 58h1v1h-1zM40 58h2v1h-2zM20 59h2v1h-2zM31 59h2v1h-2zM40 59h2v1h-2zM22 60h1v1h-1zM27 60h3v1h-3zM31 60h2v1h-2zM38 60h5v1h-5zM24 61h3v1h-3zM32 61h1v1h-1zM35 61h9v1h-9zM42 62h3v1h-3zM43 63h5v1h-5zM43 64h5v1h-5zM43 65h2v1h-2zM43 66h1v1h-1zM43 67h1v1h-1z"/>
<path fill="#dba652" d="M43 16h1v1h-1zM44 17h1v1h-1zM43 18h2v1h-2zM42 19h2v1h-2zM41 20h1v1h-1zM40 21h1v1h-1zM40 22h1v1h-1zM40 23h1v1h-1zM40 24h1v1h-1zM28 26h7v1h-7zM40 26h1v1h-1zM27 27h3v1h-3zM31 27h1v1h-1zM35 27h1v1h-1zM40 27h1v1h-1zM25 28h5v1h-5zM35 28h1v1h-1zM40 28h1v1h-1zM22 29h2v1h-2zM28 29h1v1h-1zM35 29h2v1h-2zM40 29h1v1h-1zM19 30h2v1h-2zM35 30h2v1h-2zM39 30h1v1h-1zM36 31h5v1h-5zM37 32h3v1h-3zM19 33h1v1h-1zM37 33h3v1h-3zM19 34h2v1h-2zM38 34h2v1h-2zM20 35h2v1h-2zM31 35h2v1h-2zM38 35h5v1h-5zM22 36h1v1h-1zM31 36h4v1h-4zM38 36h6v1h-6zM31 37h1v1h-1zM36 37h8v1h-8zM23 38h1v1h-1zM31 38h1v1h-1zM39 38h1v1h-1zM44 38h1v1h-1zM23 39h1v1h-1zM31 39h1v1h-1zM39 39h1v1h-1zM23 40h1v1h-1zM31 40h1v1h-1zM38 40h4v1h-4zM43 40h1v1h-1zM23 41h1v1h-1zM32 41h1v1h-1zM36 41h2v1h-2zM41 41h5v1h-5zM22 42h1v1h-1zM33 42h2v1h-2zM44 42h1v1h-1zM46 42h2v1h-2zM17 43h5v1h-5zM16 44h1v1h-1zM49 44h1v1h-1zM7 45h1v1h-1zM45 45h1v1h-1zM47 45h2v1h-2zM16 46h1v1h-1zM46 46h1v1h-1zM45 47h1v1h-1zM15 48h1v1h-1zM43 48h3v1h-3zM14 49h1v1h-1zM43 49h1v1h-1zM45 49h1v1h-1zM4 51h2v1h-2zM12 51h2v1h-2zM43 51h2v1h-2zM21 52h1v1h-1zM43 52h1v1h-1zM17 53h1v1h-1zM21 53h1v1h-1zM43 53h1v1h-1zM17 54h1v1h-1zM21 54h1v1h-1zM41 54h2v1h-2zM17 55h1v1h-1zM20 55h1v1h-1zM42 55h1v1h-1zM17 56h4v1h-4zM42 56h1v1h-1zM7 57h2v1h-2zM14 57h6v1h-6zM41 57h2v1h-2zM6 58h1v1h-1zM10 58h2v1h-2zM18 58h1v1h-1zM42 58h1v1h-1zM5 59h1v1h-1zM19 59h1v1h-1zM42 59h1v1h-1zM21 60h1v1h-1zM30 60h1v1h-1zM43 60h2v1h-2zM23 61h1v1h-1zM27 61h1v1h-1zM31 61h1v1h-1zM44 61h2v1h-2zM32 62h10v1h-10zM45 62h5v1h-5zM41 63h2v1h-2zM48 63h1v1h-1zM41 64h2v1h-2zM42 65h1v1h-1zM42 66h1v1h-1zM42 67h1v1h-1zM42 68h1v1h-1z"/>
<path fill="#dcae4e" d="M17 5h1v1h-1zM15 7h3v1h-3zM15 15h2v1h-2zM42 15h1v1h-1zM15 16h1v1h-1zM42 16h1v1h-1zM14 17h1v1h-1zM43 17h1v1h-1zM41 18h2v1h-2zM40 19h2v1h-2zM40 20h1v1h-1zM39 23h1v1h-1zM29 24h6v1h-6zM37 24h1v1h-1zM39 24h1v1h-1zM27 25h9v1h-9zM38 25h3v1h-3zM26 26h2v1h-2zM35 26h5v1h-5zM26 27h1v1h-1zM36 27h1v1h-1zM38 27h2v1h-2zM22 28h3v1h-3zM36 28h4v1h-4zM19 29h3v1h-3zM37 29h3v1h-3zM18 30h1v1h-1zM37 30h2v1h-2zM18 31h1v1h-1zM18 32h1v1h-1zM18 33h1v1h-1zM12 34h1v1h-1zM18 34h1v1h-1zM12 35h1v1h-1zM19 35h1v1h-1zM11 36h2v1h-2zM20 36h2v1h-2zM11 37h1v1h-1zM21 37h2v1h-2zM32 37h4v1h-4zM32 38h2v1h-2zM36 38h1v1h-1zM38 38h1v1h-1zM40 38h4v1h-4zM32 39h2v1h-2zM38 39h1v1h-1zM40 39h3v1h-3zM22 40h1v1h-1zM32 40h2v1h-2zM37 40h1v1h-1zM42 40h1v1h-1zM3 41h1v1h-1zM22 41h1v1h-1zM33 41h3v1h-3zM17 42h5v1h-5zM16 43h1v1h-1zM10 44h2v1h-2zM15 44h1v1h-1zM10 45h2v1h-2zM15 45h1v1h-1zM49 45h3v1h-3zM15 46h1v1h-1zM47 46h1v1h-1zM15 47h1v1h-1zM46 47h1v1h-1zM46 48h1v1h-1zM46 49h1v1h-1zM13 50h1v1h-1zM46 50h1v1h-1zM6 51h6v1h-6zM45 51h1v1h-1zM44 53h2v1h-2zM20 54h1v1h-1zM43 54h3v1h-3zM18 55h2v1h-2zM43 55h3v1h-3zM43 56h3v1h-3zM43 57h4v1h-4zM7 58h3v1h-3zM12 58h3v1h-3zM17 58h1v1h-1zM43 58h4v1h-4zM18 59h1v1h-1zM43 59h5v1h-5zM20 60h1v1h-1zM45 60h3v1h-3zM22 61h1v1h-1zM28 61h3v1h-3zM46 61h3v1h-3zM25 62h1v1h-1zM30 62h2v1h-2zM32 63h1v1h-1zM35 63h6v1h-6zM41 65h1v1h-1zM41 66h1v1h-1zM41 67h1v1h-1zM41 68h1v1h-1zM41 69h1v1h-1zM41 70h1v1h-1z"/>
<path fill="#dcb54a" d="M9 4h1v1h-1zM13 4h3v1h-3zM17 4h2v1h-2zM9 5h2v1h-2zM13 5h4v1h-4zM18 5h2v1h-2zM30 5h1v1h-1zM8 6h7v1h-7zM21 6h1v1h-1zM33 6h1v1h-1zM8 7h4v1h-4zM13 7h2v1h-2zM18 7h3v1h-3zM8 8h8v1h-8zM21 8h2v1h-2zM8 9h7v1h-7zM8 10h10v1h-10zM8 11h1v1h-1zM10 11h9v1h-9zM13 12h8v1h-8zM14 13h6v1h-6zM8 14h2v1h-2zM14 14h5v1h-5zM6 15h2v1h-2zM14 15h1v1h-1zM17 15h1v1h-1zM19 15h1v1h-1zM5 16h2v1h-2zM13 16h2v1h-2zM16 16h4v1h-4zM41 16h1v1h-1zM4 17h4v1h-4zM13 17h1v1h-1zM15 17h5v1h-5zM41 17h2v1h-2zM4 18h5v1h-5zM13 18h7v1h-7zM23 18h1v1h-1zM40 18h1v1h-1zM4 19h1v1h-1zM6 19h2v1h-2zM13 19h5v1h-5zM23 19h1v1h-1zM4 20h2v1h-2zM13 20h5v1h-5zM4 21h3v1h-3zM13 21h1v1h-1zM15 21h4v1h-4zM4 22h3v1h-3zM16 22h3v1h-3zM24 22h2v1h-2zM39 22h1v1h-1zM4 23h5v1h-5zM21 23h2v1h-2zM25 23h9v1h-9zM36 23h2v1h-2zM2 24h7v1h-7zM21 24h3v1h-3zM25 24h4v1h-4zM35 24h2v1h-2zM38 24h1v1h-1zM4 25h5v1h-5zM18 25h3v1h-3zM23 25h2v1h-2zM26 25h1v1h-1zM36 25h2v1h-2zM3 26h5v1h-5zM18 26h4v1h-4zM23 26h3v1h-3zM4 27h2v1h-2zM7 27h1v1h-1zM18 27h8v1h-8zM37 27h1v1h-1zM5 28h1v1h-1zM18 28h4v1h-4zM5 29h2v1h-2zM17 29h2v1h-2zM17 30h1v1h-1zM10 34h2v1h-2zM17 34h1v1h-1zM10 35h2v1h-2zM18 35h1v1h-1zM19 36h1v1h-1zM12 37h1v1h-1zM20 37h1v1h-1zM21 38h2v1h-2zM34 38h2v1h-2zM37 38h1v1h-1zM16 39h2v1h-2zM21 39h2v1h-2zM34 39h4v1h-4zM15 40h2v1h-2zM21 40h1v1h-1zM34 40h3v1h-3zM4 41h1v1h-1zM16 41h6v1h-6zM15 42h2v1h-2zM15 43h1v1h-1zM14 44h1v1h-1zM14 45h1v1h-1zM14 46h1v1h-1zM48 46h1v1h-1zM14 47h1v1h-1zM47 47h1v1h-1zM3 48h1v1h-1zM14 48h1v1h-1zM13 49h1v1h-1zM4 50h1v1h-1zM12 50h1v1h-1zM46 51h1v1h-1zM18 53h3v1h-3zM46 53h1v1h-1zM18 54h2v1h-2zM46 54h1v1h-1zM46 56h1v1h-1zM47 57h1v1h-1zM15 58h1v1h-1zM47 58h1v1h-1zM6 59h2v1h-2zM10 59h1v1h-1zM17 59h1v1h-1zM5 60h1v1h-1zM19 60h1v1h-1zM48 60h1v1h-1zM21 61h1v1h-1zM49 61h2v1h-2zM24 62h1v1h-1zM26 62h4v1h-4zM31 63h1v1h-1zM33 63h2v1h-2zM39 64h2v1h-2zM40 65h1v1h-1zM13 67h2v1h-2zM12 68h1v1h-1zM29 70h1v1h-1z"/>
<path fill="#ddbc46" d="M22 1h1v1h-1zM22 2h2v1h-2zM11 3h2v1h-2zM17 3h7v1h-7zM11 4h2v1h-2zM16 4h1v1h-1zM19 4h5v1h-5zM11 5h2v1h-2zM20 5h4v1h-4zM22 6h1v1h-1zM24 7h1v1h-1zM16 8h5v1h-5zM23 8h2v1h-2zM15 9h4v1h-4zM22 9h3v1h-3zM18 10h1v1h-1zM22 10h2v1h-2zM9 11h1v1h-1zM22 11h2v1h-2zM9 12h4v1h-4zM21 12h3v1h-3zM9 13h2v1h-2zM13 13h1v1h-1zM20 13h4v1h-4zM10 14h1v1h-1zM13 14h1v1h-1zM19 14h7v1h-7zM8 15h3v1h-3zM13 15h1v1h-1zM18 15h1v1h-1zM20 15h6v1h-6zM7 16h4v1h-4zM20 16h3v1h-3zM36 16h2v1h-2zM3 17h1v1h-1zM8 17h3v1h-3zM12 17h1v1h-1zM20 17h4v1h-4zM36 17h2v1h-2zM40 17h1v1h-1zM3 18h1v1h-1zM9 18h4v1h-4zM20 18h3v1h-3zM24 18h1v1h-1zM39 18h1v1h-1zM3 19h1v1h-1zM5 19h1v1h-1zM8 19h5v1h-5zM18 19h5v1h-5zM24 19h1v1h-1zM39 19h1v1h-1zM3 20h1v1h-1zM6 20h7v1h-7zM18 20h7v1h-7zM39 20h1v1h-1zM3 21h1v1h-1zM7 21h6v1h-6zM14 21h1v1h-1zM19 21h6v1h-6zM39 21h1v1h-1zM3 22h1v1h-1zM7 22h9v1h-9zM19 22h5v1h-5zM26 22h2v1h-2zM1 23h1v1h-1zM3 23h1v1h-1zM9 23h3v1h-3zM16 23h5v1h-5zM23 23h2v1h-2zM34 23h2v1h-2zM1 24h1v1h-1zM9 24h3v1h-3zM17 24h4v1h-4zM24 24h1v1h-1zM1 25h1v1h-1zM9 25h1v1h-1zM11 25h1v1h-1zM17 25h1v1h-1zM21 25h2v1h-2zM25 25h1v1h-1zM1 26h2v1h-2zM8 26h5v1h-5zM17 26h1v1h-1zM22 26h1v1h-1zM3 27h1v1h-1zM6 27h1v1h-1zM8 27h1v1h-1zM11 27h1v1h-1zM16 27h2v1h-2zM4 28h1v1h-1zM6 28h2v1h-2zM12 28h1v1h-1zM16 28h2v1h-2zM4 29h1v1h-1zM7 29h2v1h-2zM11 29h2v1h-2zM16 29h1v1h-1zM5 30h8v1h-8zM8 31h1v1h-1zM8 32h1v1h-1zM8 33h1v1h-1zM8 34h2v1h-2zM13 34h1v1h-1zM15 34h2v1h-2zM9 35h1v1h-1zM13 35h1v1h-1zM15 35h3v1h-3zM9 36h2v1h-2zM13 36h1v1h-1zM15 36h4v1h-4zM15 37h5v1h-5zM15 38h3v1h-3zM20 38h1v1h-1zM14 39h2v1h-2zM18 39h1v1h-1zM20 39h1v1h-1zM14 40h1v1h-1zM17 40h3v1h-3zM14 41h2v1h-2zM14 42h1v1h-1zM5 43h1v1h-1zM14 43h1v1h-1zM39 46h3v1h-3zM49 46h1v1h-1zM51 46h3v1h-3zM39 47h1v1h-1zM41 47h1v1h-1zM47 48h1v1h-1zM47 49h1v1h-1zM5 50h4v1h-4zM47 56h1v1h-1zM48 57h1v1h-1zM48 58h1v1h-1zM8 59h1v1h-1zM11 59h4v1h-4zM48 59h1v1h-1zM6 60h1v1h-1zM18 60h1v1h-1zM49 60h1v1h-1zM20 61h1v1h-1zM23 62h1v1h-1zM29 63h2v1h-2zM31 64h8v1h-8zM4 65h1v1h-1zM39 65h1v1h-1zM13 66h1v1h-1zM40 66h1v1h-1zM12 67h1v1h-1zM40 67h1v1h-1zM40 68h1v1h-1zM11 69h1v1h-1zM29 69h1v1h-1zM31 69h1v1h-1zM30 70h1v1h-1z"/>
<path fill="#dcc644" d="M24 2h1v1h-1zM24 4h1v1h-1zM24 5h1v1h-1zM35 5h1v1h-1zM23 6h2v1h-2zM36 6h1v1h-1zM23 7h1v1h-1zM25 7h2v1h-2zM25 9h3v1h-3zM36 9h1v1h-1zM19 10h1v1h-1zM21 10h1v1h-1zM24 10h2v1h-2zM19 11h1v1h-1zM21 11h1v1h-1zM24 11h3v1h-3zM24 12h3v1h-3zM24 13h3v1h-3zM26 14h1v1h-1zM26 15h1v1h-1zM36 15h2v1h-2zM23 16h6v1h-6zM35 16h1v1h-1zM38 16h1v1h-1zM11 17h1v1h-1zM24 17h1v1h-1zM39 17h1v1h-1zM36 18h3v1h-3zM37 19h2v1h-2zM38 20h1v1h-1zM28 22h3v1h-3zM35 22h4v1h-4zM12 23h1v1h-1zM12 24h1v1h-1zM16 24h1v1h-1zM10 25h1v1h-1zM12 25h1v1h-1zM16 26h1v1h-1zM1 27h2v1h-2zM9 27h2v1h-2zM12 27h4v1h-4zM8 28h1v1h-1zM11 28h1v1h-1zM13 28h3v1h-3zM13 29h3v1h-3zM4 30h1v1h-1zM13 30h4v1h-4zM9 31h2v1h-2zM12 31h2v1h-2zM9 32h1v1h-1zM13 32h1v1h-1zM15 32h1v1h-1zM9 33h1v1h-1zM12 33h1v1h-1zM14 33h1v1h-1zM16 33h2v1h-2zM14 34h1v1h-1zM8 35h1v1h-1zM14 35h1v1h-1zM8 36h1v1h-1zM14 36h1v1h-1zM9 37h2v1h-2zM13 37h2v1h-2zM13 38h2v1h-2zM18 38h2v1h-2zM13 39h1v1h-1zM19 39h1v1h-1zM13 40h1v1h-1zM20 40h1v1h-1zM13 41h1v1h-1zM12 42h2v1h-2zM12 43h2v1h-2zM13 44h1v1h-1zM13 45h1v1h-1zM13 46h1v1h-1zM50 46h1v1h-1zM13 47h1v1h-1zM40 47h1v1h-1zM48 47h1v1h-1zM54 47h1v1h-1zM13 48h1v1h-1zM4 49h1v1h-1zM12 49h1v1h-1zM9 50h1v1h-1zM11 50h1v1h-1zM47 50h1v1h-1zM47 51h1v1h-1zM17 52h1v1h-1zM19 52h2v1h-2zM47 52h1v1h-1zM47 53h1v1h-1zM47 54h1v1h-1zM48 56h1v1h-1zM49 58h1v1h-1zM15 59h1v1h-1zM49 59h1v1h-1zM7 60h2v1h-2zM10 60h1v1h-1zM17 60h1v1h-1zM50 60h1v1h-1zM5 61h1v1h-1zM18 61h2v1h-2zM22 62h1v1h-1zM25 63h1v1h-1zM27 63h2v1h-2zM29 64h2v1h-2zM36 65h3v1h-3zM12 66h1v1h-1zM14 66h1v1h-1zM39 66h1v1h-1zM15 67h1v1h-1zM39 67h1v1h-1zM29 68h3v1h-3zM28 69h1v1h-1zM30 69h1v1h-1zM10 70h1v1h-1zM27 70h1v1h-1z"/>
<path fill="#dbcf42" d="M25 2h1v1h-1zM24 3h2v1h-2zM25 4h1v1h-1zM25 5h1v1h-1zM25 6h2v1h-2zM27 7h1v1h-1zM29 8h1v1h-1zM31 8h1v1h-1zM19 9h3v1h-3zM29 9h1v1h-1zM31 9h1v1h-1zM20 10h1v1h-1zM26 10h2v1h-2zM29 10h2v1h-2zM20 11h1v1h-1zM27 11h2v1h-2zM37 11h1v1h-1zM27 12h5v1h-5zM12 13h1v1h-1zM27 13h1v1h-1zM29 13h3v1h-3zM11 14h1v1h-1zM29 14h3v1h-3zM11 15h2v1h-2zM29 15h3v1h-3zM38 15h1v1h-1zM12 16h1v1h-1zM29 16h3v1h-3zM29 17h3v1h-3zM35 17h1v1h-1zM29 18h1v1h-1zM35 18h1v1h-1zM2 19h1v1h-1zM36 19h1v1h-1zM2 20h1v1h-1zM36 20h2v1h-2zM2 21h1v1h-1zM36 21h2v1h-2zM2 22h1v1h-1zM31 22h4v1h-4zM2 23h1v1h-1zM16 25h1v1h-1zM11 31h1v1h-1zM14 31h4v1h-4zM7 32h1v1h-1zM10 32h3v1h-3zM14 32h1v1h-1zM16 32h2v1h-2zM10 33h2v1h-2zM13 33h1v1h-1zM15 33h1v1h-1zM7 36h1v1h-1zM8 37h1v1h-1zM9 38h4v1h-4zM5 39h1v1h-1zM8 39h1v1h-1zM12 39h1v1h-1zM5 40h4v1h-4zM12 40h1v1h-1zM7 41h2v1h-2zM12 41h1v1h-1zM11 43h1v1h-1zM12 44h1v1h-1zM3 45h1v1h-1zM12 45h1v1h-1zM3 46h1v1h-1zM12 46h1v1h-1zM3 47h1v1h-1zM49 47h5v1h-5zM48 48h1v1h-1zM10 50h1v1h-1zM18 52h1v1h-1zM44 52h3v1h-3zM48 53h1v1h-1zM48 54h1v1h-1zM46 55h3v1h-3zM49 56h1v1h-1zM49 57h1v1h-1zM50 58h1v1h-1zM9 59h1v1h-1zM50 59h2v1h-2zM11 60h5v1h-5zM14 61h1v1h-1zM17 61h1v1h-1zM5 62h1v1h-1zM20 62h2v1h-2zM24 63h1v1h-1zM26 63h1v1h-1zM28 64h1v1h-1zM13 65h2v1h-2zM29 65h7v1h-7zM15 66h1v1h-1zM29 66h2v1h-2zM37 66h2v1h-2zM11 67h1v1h-1zM28 67h4v1h-4zM37 67h2v1h-2zM11 68h1v1h-1zM28 68h1v1h-1zM36 68h4v1h-4zM27 69h1v1h-1zM36 69h3v1h-3z"/>
<path fill="#dad940" d="M27 1h1v1h-1zM26 2h3v1h-3zM26 3h4v1h-4zM26 4h4v1h-4zM26 5h2v1h-2zM29 5h1v1h-1zM27 6h4v1h-4zM35 6h1v1h-1zM28 7h5v1h-5zM28 8h1v1h-1zM28 9h1v1h-1zM28 10h1v1h-1zM31 10h1v1h-1zM29 11h8v1h-8zM32 12h6v1h-6zM11 13h1v1h-1zM28 13h1v1h-1zM32 13h3v1h-3zM12 14h1v1h-1zM27 14h2v1h-2zM32 14h1v1h-1zM27 15h2v1h-2zM32 15h1v1h-1zM35 15h1v1h-1zM11 16h1v1h-1zM32 16h1v1h-1zM25 17h4v1h-4zM32 17h1v1h-1zM25 18h4v1h-4zM30 18h3v1h-3zM25 19h3v1h-3zM29 19h1v1h-1zM35 19h1v1h-1zM25 20h3v1h-3zM25 21h2v1h-2zM14 23h1v1h-1zM13 26h1v1h-1zM0 27h1v1h-1zM0 28h1v1h-1zM3 31h3v1h-3zM7 31h1v1h-1zM4 32h1v1h-1zM6 32h1v1h-1zM4 33h4v1h-4zM7 34h1v1h-1zM7 35h1v1h-1zM6 37h2v1h-2zM5 38h2v1h-2zM8 38h1v1h-1zM6 39h2v1h-2zM9 39h3v1h-3zM9 40h3v1h-3zM5 41h2v1h-2zM9 41h1v1h-1zM11 41h1v1h-1zM6 42h6v1h-6zM10 43h1v1h-1zM4 44h1v1h-1zM4 45h1v1h-1zM4 47h1v1h-1zM12 47h1v1h-1zM4 48h1v1h-1zM12 48h1v1h-1zM5 49h4v1h-4zM11 49h1v1h-1zM48 49h1v1h-1zM48 50h1v1h-1zM48 51h1v1h-1zM48 52h1v1h-1zM49 54h1v1h-1zM49 55h1v1h-1zM50 57h1v1h-1zM16 58h1v1h-1zM51 58h1v1h-1zM9 60h1v1h-1zM6 61h8v1h-8zM15 61h2v1h-2zM14 62h6v1h-6zM14 63h1v1h-1zM23 63h1v1h-1zM27 64h1v1h-1zM11 65h2v1h-2zM28 65h1v1h-1zM11 66h1v1h-1zM28 66h1v1h-1zM33 66h4v1h-4zM16 67h1v1h-1zM32 67h1v1h-1zM36 67h1v1h-1zM27 68h1v1h-1zM35 68h1v1h-1zM17 69h1v1h-1zM26 69h1v1h-1zM35 69h1v1h-1zM40 69h1v1h-1zM26 70h1v1h-1zM40 70h1v1h-1z"/>
<path fill="#cdd53f" d="M27 0h4v1h-4zM28 1h2v1h-2zM29 2h1v1h-1zM34 4h1v1h-1zM28 5h1v1h-1zM34 5h1v1h-1zM31 6h2v1h-2zM34 6h1v1h-1zM35 7h1v1h-1zM32 8h1v1h-1zM35 8h1v1h-1zM32 9h1v1h-1zM35 9h1v1h-1zM32 10h4v1h-4zM35 13h1v1h-1zM33 18h1v1h-1zM28 19h1v1h-1zM30 19h4v1h-4zM28 20h1v1h-1zM13 23h1v1h-1zM15 23h1v1h-1zM13 24h1v1h-1zM13 25h1v1h-1zM14 26h2v1h-2zM50 33h1v1h-1zM7 43h3v1h-3zM5 44h2v1h-2zM8 44h2v1h-2zM6 45h1v1h-1zM4 46h1v1h-1zM11 46h1v1h-1zM5 48h1v1h-1zM49 48h2v1h-2zM54 48h1v1h-1zM9 49h1v1h-1zM49 53h1v1h-1zM55 54h2v1h-2zM50 55h1v1h-1zM50 56h2v1h-2zM51 57h1v1h-1zM16 59h1v1h-1zM6 62h1v1h-1zM8 62h6v1h-6zM5 63h1v1h-1zM10 63h1v1h-1zM15 63h3v1h-3zM21 63h2v1h-2zM12 64h4v1h-4zM25 64h2v1h-2zM15 65h1v1h-1zM27 65h1v1h-1zM16 66h1v1h-1zM27 66h1v1h-1zM10 67h1v1h-1zM10 68h1v1h-1zM34 68h1v1h-1zM9 69h1v1h-1z"/>
<path fill="#c1d13e" d="M30 1h2v1h-2zM30 2h2v1h-2zM30 3h3v1h-3zM30 4h1v1h-1zM33 17h1v1h-1zM10 28h1v1h-1zM9 29h2v1h-2zM7 44h1v1h-1zM5 45h1v1h-1zM9 45h1v1h-1zM5 46h2v1h-2zM5 47h1v1h-1zM11 47h1v1h-1zM6 48h2v1h-2zM11 48h1v1h-1zM51 48h3v1h-3zM49 49h1v1h-1zM49 50h1v1h-1zM49 51h1v1h-1zM49 52h1v1h-1zM50 54h1v1h-1zM54 54h1v1h-1zM51 55h1v1h-1zM7 62h1v1h-1zM9 63h1v1h-1zM18 63h3v1h-3zM10 64h2v1h-2zM16 64h1v1h-1zM24 64h1v1h-1zM10 65h1v1h-1zM16 65h1v1h-1zM26 65h1v1h-1zM10 66h1v1h-1zM3 67h1v1h-1zM27 67h1v1h-1zM17 68h1v1h-1zM26 68h1v1h-1zM25 69h1v1h-1zM25 70h1v1h-1z"/>
<path fill="#b5cd3d" d="M33 7h2v1h-2zM33 8h1v1h-1zM33 14h1v1h-1zM35 14h4v1h-4zM40 14h1v1h-1zM33 15h1v1h-1zM33 16h1v1h-1zM40 16h1v1h-1zM1 28h3v1h-3zM9 28h1v1h-1zM3 29h1v1h-1zM3 30h1v1h-1zM7 46h1v1h-1zM10 46h1v1h-1zM6 47h2v1h-2zM10 47h1v1h-1zM8 48h1v1h-1zM10 48h1v1h-1zM50 49h1v1h-1zM54 49h1v1h-1zM54 50h1v1h-1zM50 53h1v1h-1zM52 53h2v1h-2zM51 54h1v1h-1zM52 58h1v1h-1zM16 60h1v1h-1zM6 63h1v1h-1zM8 63h1v1h-1zM5 64h1v1h-1zM9 64h1v1h-1zM17 64h2v1h-2zM23 64h1v1h-1zM9 65h1v1h-1zM25 65h1v1h-1zM4 66h1v1h-1zM26 66h1v1h-1zM17 67h1v1h-1zM26 67h1v1h-1zM9 68h1v1h-1zM25 68h1v1h-1zM8 70h1v1h-1z"/>
<path fill="#aac93d" d="M31 4h2v1h-2zM31 5h1v1h-1zM33 5h1v1h-1zM34 8h1v1h-1zM33 9h2v1h-2zM36 13h4v1h-4zM34 14h1v1h-1zM39 14h1v1h-1zM34 18h1v1h-1zM34 19h1v1h-1zM29 20h5v1h-5zM35 20h1v1h-1zM28 21h8v1h-8zM14 24h2v1h-2zM15 25h1v1h-1zM5 34h2v1h-2zM6 35h1v1h-1zM10 41h1v1h-1zM4 43h1v1h-1zM6 43h1v1h-1zM8 46h2v1h-2zM8 47h2v1h-2zM9 48h1v1h-1zM51 49h1v1h-1zM53 49h1v1h-1zM50 50h1v1h-1zM53 50h1v1h-1zM53 51h4v1h-4zM50 52h1v1h-1zM52 52h2v1h-2zM51 53h1v1h-1zM52 55h1v1h-1zM52 56h1v1h-1zM52 57h1v1h-1zM7 63h1v1h-1zM8 64h1v1h-1zM19 64h1v1h-1zM21 64h2v1h-2zM17 65h1v1h-1zM9 66h1v1h-1zM17 66h1v1h-1zM31 66h1v1h-1zM4 67h1v1h-1zM9 67h1v1h-1zM25 67h1v1h-1zM33 67h3v1h-3zM4 68h1v1h-1zM8 69h1v1h-1zM24 69h1v1h-1zM36 70h1v1h-1z"/>
<path fill="#9fc63d" d="M33 4h1v1h-1zM32 5h1v1h-1zM38 11h1v1h-1zM34 15h1v1h-1zM34 16h1v1h-1zM34 17h1v1h-1zM38 17h1v1h-1zM34 20h1v1h-1zM27 21h1v1h-1zM14 25h1v1h-1zM1 30h1v1h-1zM5 42h1v1h-1zM8 45h1v1h-1zM51 50h1v1h-1zM52 51h1v1h-1zM51 52h1v1h-1zM13 63h1v1h-1zM6 64h2v1h-2zM20 64h1v1h-1zM5 65h1v1h-1zM8 65h1v1h-1zM18 65h1v1h-1zM23 65h2v1h-2zM18 66h1v1h-1zM25 66h1v1h-1zM32 66h1v1h-1zM24 68h1v1h-1zM23 69h1v1h-1zM31 70h1v1h-1zM37 70h1v1h-1z"/>
<path fill="#95c23e" d="M39 15h1v1h-1zM39 16h1v1h-1zM1 29h2v1h-2zM2 30h1v1h-1zM11 63h2v1h-2zM6 65h2v1h-2zM19 65h4v1h-4zM5 66h4v1h-4zM19 66h2v1h-2zM24 66h1v1h-1zM8 67h1v1h-1zM18 67h1v1h-1zM24 67h1v1h-1zM8 68h1v1h-1zM22 68h2v1h-2z"/>
<path fill="#8abe3e" d="M52 49h1v1h-1zM52 50h1v1h-1zM57 51h1v1h-1zM54 52h1v1h-1zM56 52h1v1h-1zM54 53h3v1h-3zM21 66h3v1h-3zM5 67h3v1h-3zM19 67h5v1h-5zM5 68h1v1h-1zM21 68h1v1h-1zM34 70h1v1h-1z"/>
<path fill="#7fba3e" d="M10 49h1v1h-1zM50 51h2v1h-2zM55 52h1v1h-1zM33 68h1v1h-1zM34 69h1v1h-1zM39 69h1v1h-1zM39 70h1v1h-1z"/>
<path fill="#78b83f" d="M38 21h1v1h-1z"/>
<path fill="#71b641" d="M18 68h1v1h-1zM6 69h2v1h-2z"/>
<path fill="#6ab442" d="M6 68h2v1h-2zM19 68h1v1h-1zM20 70h1v1h-1z"/>
<path fill="#64b143" d="M20 69h1v1h-1z"/>
<path fill="#56ad46" d="M23 70h2v1h-2zM24 71h1v1h-1z"/>
<path fill="#52aa47" d="M23 71h1v1h-1z"/>
</g></g>
<rect x="165.5" y="100.2" width="942.0" height="706.05" fill="none" stroke="#1c191a" stroke-width="4.3" stroke-linejoin="round"/>
<line x1="141.00" y1="127.80" x2="165.50" y2="127.80" stroke="#1c191a" stroke-width="4.3" stroke-linecap="round"/>
<line x1="141.00" y1="226.73" x2="165.50" y2="226.73" stroke="#1c191a" stroke-width="4.3" stroke-linecap="round"/>
<line x1="141.00" y1="325.66" x2="165.50" y2="325.66" stroke="#1c191a" stroke-width="4.3" stroke-linecap="round"/>
<line x1="141.00" y1="424.59" x2="165.50" y2="424.59" stroke="#1c191a" stroke-width="4.3" stroke-linecap="round"/>
<line x1="141.00" y1="523.52" x2="165.50" y2="523.52" stroke="#1c191a" stroke-width="4.3" stroke-linecap="round"/>
<line x1="141.00" y1="622.45" x2="165.50" y2="622.45" stroke="#1c191a" stroke-width="4.3" stroke-linecap="round"/>
<line x1="141.00" y1="721.38" x2="165.50" y2="721.38" stroke="#1c191a" stroke-width="4.3" stroke-linecap="round"/>
<g transform="translate(111.6,127.8) rotate(-90)"><text x="-83.5" y="0" font-size="39.5" textLength="167.0" lengthAdjust="spacingAndGlyphs">3,860,000</text></g>
<g transform="translate(111.6,424.6) rotate(-90)"><text x="-83.5" y="0" font-size="39.5" textLength="167.0" lengthAdjust="spacingAndGlyphs">3,830,000</text></g>
<g transform="translate(111.6,721.4) rotate(-90)"><text x="-83.5" y="0" font-size="39.5" textLength="167.0" lengthAdjust="spacingAndGlyphs">3,800,000</text></g>
<line x1="229.90" y1="806.25" x2="229.90" y2="831.20" stroke="#1c191a" stroke-width="4.3" stroke-linecap="round"/>
<g transform="translate(229.9,889.2)"><text x="-69.5" y="0" font-size="39.5" textLength="139.0" lengthAdjust="spacingAndGlyphs">400,000</text></g>
<line x1="427.75" y1="806.25" x2="427.75" y2="831.20" stroke="#1c191a" stroke-width="4.3" stroke-linecap="round"/>
<g transform="translate(427.8,889.2)"><text x="-69.5" y="0" font-size="39.5" textLength="139.0" lengthAdjust="spacingAndGlyphs">420,000</text></g>
<line x1="625.60" y1="806.25" x2="625.60" y2="831.20" stroke="#1c191a" stroke-width="4.3" stroke-linecap="round"/>
<g transform="translate(625.6,889.2)"><text x="-69.5" y="0" font-size="39.5" textLength="139.0" lengthAdjust="spacingAndGlyphs">440,000</text></g>
<line x1="823.45" y1="806.25" x2="823.45" y2="831.20" stroke="#1c191a" stroke-width="4.3" stroke-linecap="round"/>
<g transform="translate(823.4,889.2)"><text x="-69.5" y="0" font-size="39.5" textLength="139.0" lengthAdjust="spacingAndGlyphs">460,000</text></g>
<line x1="1021.30" y1="806.25" x2="1021.30" y2="831.20" stroke="#1c191a" stroke-width="4.3" stroke-linecap="round"/>
<g transform="translate(1021.3,889.2)"><text x="-69.5" y="0" font-size="39.5" textLength="139.0" lengthAdjust="spacingAndGlyphs">480,000</text></g>
<g transform="translate(641.3,942.4)"><text x="-91.0" y="0" font-size="41.3" textLength="182.0" lengthAdjust="spacingAndGlyphs">Longitude</text></g>
<g transform="translate(58.8,450.5) rotate(-90)"><text x="-72.5" y="0" font-size="41.3" textLength="145.0" lengthAdjust="spacingAndGlyphs">Latitude</text></g>
<g transform="translate(344.5,69.2)"><text x="0.0" y="0" font-size="51" textLength="582.0" lengthAdjust="spacingAndGlyphs">Residual trend distribution</text></g>
<linearGradient id="cbe" x1="0" y1="1" x2="0" y2="0"><stop offset="0.0" stop-color="#eee4e4"/><stop offset="0.1" stop-color="#ebc4bc"/><stop offset="0.22" stop-color="#e5a07c"/><stop offset="0.35" stop-color="#dba652"/><stop offset="0.43" stop-color="#ddbe45"/><stop offset="0.5" stop-color="#dad940"/><stop offset="0.57" stop-color="#b7ce3d"/><stop offset="0.7" stop-color="#7fba3e"/><stop offset="0.85" stop-color="#56ad46"/><stop offset="1.0" stop-color="#3d9a4c"/></linearGradient>
<rect x="1130.9" y="276.8" width="16.400000000000045" height="352.4" fill="url(#cbe)" stroke="#1c191a" stroke-width="3.8" stroke-linejoin="round"/>
<line x1="1149.20" y1="295.05" x2="1172.30" y2="295.05" stroke="#1c191a" stroke-width="4.0" stroke-linecap="round"/>
<g transform="translate(1198.0,309.7)"><text x="0.0" y="0" font-size="39.5" textLength="95.2" lengthAdjust="spacingAndGlyphs">0.010</text></g>
<line x1="1149.20" y1="355.52" x2="1172.30" y2="355.52" stroke="#1c191a" stroke-width="4.0" stroke-linecap="round"/>
<g transform="translate(1198.0,370.1)"><text x="0.0" y="0" font-size="39.5" textLength="95.2" lengthAdjust="spacingAndGlyphs">0.008</text></g>
<line x1="1149.20" y1="415.99" x2="1172.30" y2="415.99" stroke="#1c191a" stroke-width="4.0" stroke-linecap="round"/>
<g transform="translate(1198.0,430.6)"><text x="0.0" y="0" font-size="39.5" textLength="95.2" lengthAdjust="spacingAndGlyphs">0.006</text></g>
<line x1="1149.20" y1="476.46" x2="1172.30" y2="476.46" stroke="#1c191a" stroke-width="4.0" stroke-linecap="round"/>
<g transform="translate(1198.0,491.1)"><text x="0.0" y="0" font-size="39.5" textLength="95.2" lengthAdjust="spacingAndGlyphs">0.004</text></g>
<line x1="1149.20" y1="536.93" x2="1172.30" y2="536.93" stroke="#1c191a" stroke-width="4.0" stroke-linecap="round"/>
<g transform="translate(1198.0,551.5)"><text x="0.0" y="0" font-size="39.5" textLength="95.2" lengthAdjust="spacingAndGlyphs">0.002</text></g>
<line x1="1149.20" y1="597.40" x2="1172.30" y2="597.40" stroke="#1c191a" stroke-width="4.0" stroke-linecap="round"/>
<g transform="translate(1198.0,612.0)"><text x="0.0" y="0" font-size="39.5" textLength="95.2" lengthAdjust="spacingAndGlyphs">0.000</text></g>
</g>
<g transform="translate(0,0)">
<rect x="1529.30" y="779.48" width="62.31" height="0.62" fill="#d6d5d5" stroke="#1c191a" stroke-width="4.1" stroke-linejoin="round"/>
<rect x="1591.61" y="778.23" width="62.31" height="1.87" fill="#d6d5d5" stroke="#1c191a" stroke-width="4.1" stroke-linejoin="round"/>
<rect x="1653.93" y="775.11" width="62.31" height="4.99" fill="#d6d5d5" stroke="#1c191a" stroke-width="4.1" stroke-linejoin="round"/>
<rect x="1716.24" y="768.26" width="62.31" height="11.84" fill="#d6d5d5" stroke="#1c191a" stroke-width="4.1" stroke-linejoin="round"/>
<rect x="1778.56" y="761.40" width="62.31" height="18.70" fill="#d6d5d5" stroke="#1c191a" stroke-width="4.1" stroke-linejoin="round"/>
<rect x="1840.87" y="737.10" width="62.31" height="43.00" fill="#d6d5d5" stroke="#1c191a" stroke-width="4.1" stroke-linejoin="round"/>
<rect x="1903.19" y="707.18" width="62.31" height="72.92" fill="#d6d5d5" stroke="#1c191a" stroke-width="4.1" stroke-linejoin="round"/>
<rect x="1965.50" y="567.58" width="62.31" height="212.52" fill="#d6d5d5" stroke="#1c191a" stroke-width="4.1" stroke-linejoin="round"/>
<rect x="2027.81" y="246.63" width="62.31" height="533.47" fill="#d6d5d5" stroke="#1c191a" stroke-width="4.1" stroke-linejoin="round"/>
<rect x="2090.13" y="126.35" width="62.31" height="653.75" fill="#d6d5d5" stroke="#1c191a" stroke-width="4.1" stroke-linejoin="round"/>
<rect x="2152.44" y="598.75" width="62.31" height="181.35" fill="#d6d5d5" stroke="#1c191a" stroke-width="4.1" stroke-linejoin="round"/>
<rect x="2214.76" y="773.87" width="62.31" height="6.23" fill="#d6d5d5" stroke="#1c191a" stroke-width="4.1" stroke-linejoin="round"/>
<rect x="2277.07" y="777.61" width="62.31" height="2.49" fill="#d6d5d5" stroke="#1c191a" stroke-width="4.1" stroke-linejoin="round"/>
<rect x="2339.39" y="779.48" width="62.31" height="0.62" fill="#d6d5d5" stroke="#1c191a" stroke-width="4.1" stroke-linejoin="round"/>
<line x1="1494.30" y1="156.89" x2="1494.30" y2="780.10" stroke="#1c191a" stroke-width="4.3" stroke-linecap="round"/>
<line x1="1469.50" y1="780.10" x2="1494.30" y2="780.10" stroke="#1c191a" stroke-width="4.3" stroke-linecap="round"/>
<line x1="1469.50" y1="655.46" x2="1494.30" y2="655.46" stroke="#1c191a" stroke-width="4.3" stroke-linecap="round"/>
<line x1="1469.50" y1="530.81" x2="1494.30" y2="530.81" stroke="#1c191a" stroke-width="4.3" stroke-linecap="round"/>
<line x1="1469.50" y1="406.17" x2="1494.30" y2="406.17" stroke="#1c191a" stroke-width="4.3" stroke-linecap="round"/>
<line x1="1469.50" y1="281.53" x2="1494.30" y2="281.53" stroke="#1c191a" stroke-width="4.3" stroke-linecap="round"/>
<line x1="1469.50" y1="156.89" x2="1494.30" y2="156.89" stroke="#1c191a" stroke-width="4.3" stroke-linecap="round"/>
<g transform="translate(1440.8,779.3) rotate(-90)"><text x="-10.8" y="0" font-size="39.5" textLength="21.5" lengthAdjust="spacingAndGlyphs">0</text></g>
<g transform="translate(1440.8,654.7) rotate(-90)"><text x="-32.0" y="0" font-size="39.5" textLength="64.0" lengthAdjust="spacingAndGlyphs">200</text></g>
<g transform="translate(1440.8,530.0) rotate(-90)"><text x="-32.0" y="0" font-size="39.5" textLength="64.0" lengthAdjust="spacingAndGlyphs">400</text></g>
<g transform="translate(1440.8,405.4) rotate(-90)"><text x="-32.0" y="0" font-size="39.5" textLength="64.0" lengthAdjust="spacingAndGlyphs">600</text></g>
<g transform="translate(1440.8,280.7) rotate(-90)"><text x="-32.0" y="0" font-size="39.5" textLength="64.0" lengthAdjust="spacingAndGlyphs">800</text></g>
<g transform="translate(1440.8,156.1) rotate(-90)"><text x="-42.5" y="0" font-size="39.5" textLength="85.0" lengthAdjust="spacingAndGlyphs">1000</text></g>
<g transform="translate(1387.6,463.2) rotate(-90)"><text x="-139.8" y="0" font-size="41.3" textLength="279.5" lengthAdjust="spacingAndGlyphs">Number of grids</text></g>
<line x1="1529.30" y1="806.25" x2="2401.70" y2="806.25" stroke="#1c191a" stroke-width="4.3" stroke-linecap="round"/>
<line x1="1529.30" y1="806.25" x2="1529.30" y2="831.45" stroke="#1c191a" stroke-width="4.3" stroke-linecap="round"/>
<line x1="1653.93" y1="806.25" x2="1653.93" y2="831.45" stroke="#1c191a" stroke-width="4.3" stroke-linecap="round"/>
<line x1="1778.56" y1="806.25" x2="1778.56" y2="831.45" stroke="#1c191a" stroke-width="4.3" stroke-linecap="round"/>
<line x1="1903.19" y1="806.25" x2="1903.19" y2="831.45" stroke="#1c191a" stroke-width="4.3" stroke-linecap="round"/>
<line x1="2027.81" y1="806.25" x2="2027.81" y2="831.45" stroke="#1c191a" stroke-width="4.3" stroke-linecap="round"/>
<line x1="2152.44" y1="806.25" x2="2152.44" y2="831.45" stroke="#1c191a" stroke-width="4.3" stroke-linecap="round"/>
<line x1="2277.07" y1="806.25" x2="2277.07" y2="831.45" stroke="#1c191a" stroke-width="4.3" stroke-linecap="round"/>
<line x1="2401.70" y1="806.25" x2="2401.70" y2="831.45" stroke="#1c191a" stroke-width="4.3" stroke-linecap="round"/>
<g transform="translate(1529.3,889.2)"><text x="-36.0" y="0" font-size="39.5" textLength="72.0" lengthAdjust="spacingAndGlyphs">−0.1</text></g>
<g transform="translate(1653.9,889.2)"><text x="-25.0" y="0" font-size="39.5" textLength="50.0" lengthAdjust="spacingAndGlyphs">0.0</text></g>
<g transform="translate(1778.6,889.2)"><text x="-25.0" y="0" font-size="39.5" textLength="50.0" lengthAdjust="spacingAndGlyphs">0.1</text></g>
<g transform="translate(1903.2,889.2)"><text x="-25.0" y="0" font-size="39.5" textLength="50.0" lengthAdjust="spacingAndGlyphs">0.2</text></g>
<g transform="translate(2027.8,889.2)"><text x="-25.0" y="0" font-size="39.5" textLength="50.0" lengthAdjust="spacingAndGlyphs">0.3</text></g>
<g transform="translate(2152.4,889.2)"><text x="-25.0" y="0" font-size="39.5" textLength="50.0" lengthAdjust="spacingAndGlyphs">0.4</text></g>
<g transform="translate(2277.1,889.2)"><text x="-25.0" y="0" font-size="39.5" textLength="50.0" lengthAdjust="spacingAndGlyphs">0.5</text></g>
<g transform="translate(2401.7,889.2)"><text x="-25.0" y="0" font-size="39.5" textLength="50.0" lengthAdjust="spacingAndGlyphs">0.6</text></g>
<g transform="translate(1967.0,942.4)"><text x="-86.5" y="0" font-size="41.3" textLength="173.0" lengthAdjust="spacingAndGlyphs">R squared</text></g>
<g transform="translate(1824.5,69.2)"><text x="0.0" y="0" font-size="51" textLength="31.0" lengthAdjust="spacingAndGlyphs">R</text></g>
<g transform="translate(1853.0,51.5)"><text x="0.0" y="0" font-size="30" textLength="15.0" lengthAdjust="spacingAndGlyphs">2</text></g>
<g transform="translate(1878.5,69.2)"><text x="0.0" y="0" font-size="51" textLength="224.0" lengthAdjust="spacingAndGlyphs">frequence</text></g>
</g>
<g transform="translate(0,1007.75)">
<rect x="1529.30" y="779.86" width="87.24" height="0.24" fill="#d6d5d5" stroke="#1c191a" stroke-width="4.1" stroke-linejoin="round"/>
<rect x="1616.54" y="779.14" width="87.24" height="0.96" fill="#d6d5d5" stroke="#1c191a" stroke-width="4.1" stroke-linejoin="round"/>
<rect x="1703.78" y="775.31" width="87.24" height="4.79" fill="#d6d5d5" stroke="#1c191a" stroke-width="4.1" stroke-linejoin="round"/>
<rect x="1791.02" y="711.18" width="87.24" height="68.92" fill="#d6d5d5" stroke="#1c191a" stroke-width="4.1" stroke-linejoin="round"/>
<rect x="1878.26" y="126.35" width="87.24" height="653.75" fill="#d6d5d5" stroke="#1c191a" stroke-width="4.1" stroke-linejoin="round"/>
<rect x="1965.50" y="313.48" width="87.24" height="466.62" fill="#d6d5d5" stroke="#1c191a" stroke-width="4.1" stroke-linejoin="round"/>
<rect x="2052.74" y="678.64" width="87.24" height="101.46" fill="#d6d5d5" stroke="#1c191a" stroke-width="4.1" stroke-linejoin="round"/>
<rect x="2139.98" y="746.12" width="87.24" height="33.98" fill="#d6d5d5" stroke="#1c191a" stroke-width="4.1" stroke-linejoin="round"/>
<rect x="2227.22" y="769.57" width="87.24" height="10.53" fill="#d6d5d5" stroke="#1c191a" stroke-width="4.1" stroke-linejoin="round"/>
<rect x="2314.46" y="778.19" width="87.24" height="1.91" fill="#d6d5d5" stroke="#1c191a" stroke-width="4.1" stroke-linejoin="round"/>
<line x1="1494.30" y1="110.08" x2="1494.30" y2="780.10" stroke="#1c191a" stroke-width="4.3" stroke-linecap="round"/>
<line x1="1469.50" y1="780.10" x2="1494.30" y2="780.10" stroke="#1c191a" stroke-width="4.3" stroke-linecap="round"/>
<line x1="1469.50" y1="684.38" x2="1494.30" y2="684.38" stroke="#1c191a" stroke-width="4.3" stroke-linecap="round"/>
<line x1="1469.50" y1="588.67" x2="1494.30" y2="588.67" stroke="#1c191a" stroke-width="4.3" stroke-linecap="round"/>
<line x1="1469.50" y1="492.95" x2="1494.30" y2="492.95" stroke="#1c191a" stroke-width="4.3" stroke-linecap="round"/>
<line x1="1469.50" y1="397.23" x2="1494.30" y2="397.23" stroke="#1c191a" stroke-width="4.3" stroke-linecap="round"/>
<line x1="1469.50" y1="301.51" x2="1494.30" y2="301.51" stroke="#1c191a" stroke-width="4.3" stroke-linecap="round"/>
<line x1="1469.50" y1="205.80" x2="1494.30" y2="205.80" stroke="#1c191a" stroke-width="4.3" stroke-linecap="round"/>
<line x1="1469.50" y1="110.08" x2="1494.30" y2="110.08" stroke="#1c191a" stroke-width="4.3" stroke-linecap="round"/>
<g transform="translate(1440.8,779.3) rotate(-90)"><text x="-10.8" y="0" font-size="39.5" textLength="21.5" lengthAdjust="spacingAndGlyphs">0</text></g>
<g transform="translate(1440.8,683.6) rotate(-90)"><text x="-32.0" y="0" font-size="39.5" textLength="64.0" lengthAdjust="spacingAndGlyphs">200</text></g>
<g transform="translate(1440.8,492.1) rotate(-90)"><text x="-32.0" y="0" font-size="39.5" textLength="64.0" lengthAdjust="spacingAndGlyphs">600</text></g>
<g transform="translate(1440.8,300.7) rotate(-90)"><text x="-42.5" y="0" font-size="39.5" textLength="85.0" lengthAdjust="spacingAndGlyphs">1000</text></g>
<g transform="translate(1440.8,109.3) rotate(-90)"><text x="-42.5" y="0" font-size="39.5" textLength="85.0" lengthAdjust="spacingAndGlyphs">1400</text></g>
<g transform="translate(1387.6,463.2) rotate(-90)"><text x="-139.8" y="0" font-size="41.3" textLength="279.5" lengthAdjust="spacingAndGlyphs">Number of grids</text></g>
<line x1="1529.30" y1="806.25" x2="2401.70" y2="806.25" stroke="#1c191a" stroke-width="4.3" stroke-linecap="round"/>
<line x1="1529.30" y1="806.25" x2="1529.30" y2="831.45" stroke="#1c191a" stroke-width="4.3" stroke-linecap="round"/>
<line x1="1703.78" y1="806.25" x2="1703.78" y2="831.45" stroke="#1c191a" stroke-width="4.3" stroke-linecap="round"/>
<line x1="1878.26" y1="806.25" x2="1878.26" y2="831.45" stroke="#1c191a" stroke-width="4.3" stroke-linecap="round"/>
<line x1="2052.74" y1="806.25" x2="2052.74" y2="831.45" stroke="#1c191a" stroke-width="4.3" stroke-linecap="round"/>
<line x1="2227.22" y1="806.25" x2="2227.22" y2="831.45" stroke="#1c191a" stroke-width="4.3" stroke-linecap="round"/>
<line x1="2401.70" y1="806.25" x2="2401.70" y2="831.45" stroke="#1c191a" stroke-width="4.3" stroke-linecap="round"/>
<g transform="translate(1529.3,889.2)"><text x="-22.0" y="0" font-size="39.5" textLength="44.0" lengthAdjust="spacingAndGlyphs">−5</text></g>
<g transform="translate(1703.8,889.2)"><text x="-22.0" y="0" font-size="39.5" textLength="44.0" lengthAdjust="spacingAndGlyphs">−4</text></g>
<g transform="translate(1878.3,889.2)"><text x="-22.0" y="0" font-size="39.5" textLength="44.0" lengthAdjust="spacingAndGlyphs">−3</text></g>
<g transform="translate(2052.7,889.2)"><text x="-22.0" y="0" font-size="39.5" textLength="44.0" lengthAdjust="spacingAndGlyphs">−2</text></g>
<g transform="translate(2227.2,889.2)"><text x="-22.0" y="0" font-size="39.5" textLength="44.0" lengthAdjust="spacingAndGlyphs">−1</text></g>
<g transform="translate(2401.7,889.2)"><text x="-10.2" y="0" font-size="39.5" textLength="20.5" lengthAdjust="spacingAndGlyphs">0</text></g>
<g transform="translate(1955.0,942.4)"><text x="-125.0" y="0" font-size="41.3" textLength="250.0" lengthAdjust="spacingAndGlyphs">log10(P value)</text></g>
<g transform="translate(1653.0,68.2)"><text x="0.0" y="0" font-size="51" textLength="548.0" lengthAdjust="spacingAndGlyphs">log10(P value) frequence</text></g>
</g>
<g transform="matrix(1,0,0,1.0034,0,2014.71)">
<rect x="1529.30" y="779.54" width="67.11" height="0.56" fill="#d6d5d5" stroke="#1c191a" stroke-width="4.1" stroke-linejoin="round"/>
<rect x="1596.41" y="778.97" width="67.11" height="1.13" fill="#d6d5d5" stroke="#1c191a" stroke-width="4.1" stroke-linejoin="round"/>
<rect x="1663.52" y="778.41" width="67.11" height="1.69" fill="#d6d5d5" stroke="#1c191a" stroke-width="4.1" stroke-linejoin="round"/>
<rect x="1730.62" y="772.50" width="67.11" height="7.60" fill="#d6d5d5" stroke="#1c191a" stroke-width="4.1" stroke-linejoin="round"/>
<rect x="1797.73" y="483.61" width="67.11" height="296.49" fill="#d6d5d5" stroke="#1c191a" stroke-width="4.1" stroke-linejoin="round"/>
<rect x="1864.84" y="126.35" width="67.11" height="653.75" fill="#d6d5d5" stroke="#1c191a" stroke-width="4.1" stroke-linejoin="round"/>
<rect x="1931.95" y="336.77" width="67.11" height="443.33" fill="#d6d5d5" stroke="#1c191a" stroke-width="4.1" stroke-linejoin="round"/>
<rect x="1999.05" y="653.51" width="67.11" height="126.59" fill="#d6d5d5" stroke="#1c191a" stroke-width="4.1" stroke-linejoin="round"/>
<rect x="2066.16" y="748.59" width="67.11" height="31.51" fill="#d6d5d5" stroke="#1c191a" stroke-width="4.1" stroke-linejoin="round"/>
<rect x="2133.27" y="764.91" width="67.11" height="15.19" fill="#d6d5d5" stroke="#1c191a" stroke-width="4.1" stroke-linejoin="round"/>
<rect x="2200.38" y="776.72" width="67.11" height="3.38" fill="#d6d5d5" stroke="#1c191a" stroke-width="4.1" stroke-linejoin="round"/>
<rect x="2267.48" y="778.97" width="67.11" height="1.13" fill="#d6d5d5" stroke="#1c191a" stroke-width="4.1" stroke-linejoin="round"/>
<rect x="2334.59" y="779.54" width="67.11" height="0.56" fill="#d6d5d5" stroke="#1c191a" stroke-width="4.1" stroke-linejoin="round"/>
<line x1="1494.30" y1="104.97" x2="1494.30" y2="780.10" stroke="#1c191a" stroke-width="4.3" stroke-linecap="round"/>
<line x1="1469.50" y1="780.10" x2="1494.30" y2="780.10" stroke="#1c191a" stroke-width="4.3" stroke-linecap="round"/>
<line x1="1469.50" y1="667.58" x2="1494.30" y2="667.58" stroke="#1c191a" stroke-width="4.3" stroke-linecap="round"/>
<line x1="1469.50" y1="555.06" x2="1494.30" y2="555.06" stroke="#1c191a" stroke-width="4.3" stroke-linecap="round"/>
<line x1="1469.50" y1="442.54" x2="1494.30" y2="442.54" stroke="#1c191a" stroke-width="4.3" stroke-linecap="round"/>
<line x1="1469.50" y1="330.01" x2="1494.30" y2="330.01" stroke="#1c191a" stroke-width="4.3" stroke-linecap="round"/>
<line x1="1469.50" y1="217.49" x2="1494.30" y2="217.49" stroke="#1c191a" stroke-width="4.3" stroke-linecap="round"/>
<line x1="1469.50" y1="104.97" x2="1494.30" y2="104.97" stroke="#1c191a" stroke-width="4.3" stroke-linecap="round"/>
<g transform="translate(1440.8,779.3) rotate(-90)"><text x="-10.8" y="0" font-size="39.5" textLength="21.5" lengthAdjust="spacingAndGlyphs">0</text></g>
<g transform="translate(1440.8,666.8) rotate(-90)"><text x="-32.0" y="0" font-size="39.5" textLength="64.0" lengthAdjust="spacingAndGlyphs">200</text></g>
<g transform="translate(1440.8,554.3) rotate(-90)"><text x="-32.0" y="0" font-size="39.5" textLength="64.0" lengthAdjust="spacingAndGlyphs">400</text></g>
<g transform="translate(1440.8,441.7) rotate(-90)"><text x="-32.0" y="0" font-size="39.5" textLength="64.0" lengthAdjust="spacingAndGlyphs">600</text></g>
<g transform="translate(1440.8,329.2) rotate(-90)"><text x="-32.0" y="0" font-size="39.5" textLength="64.0" lengthAdjust="spacingAndGlyphs">800</text></g>
<g transform="translate(1440.8,104.2) rotate(-90)"><text x="-42.5" y="0" font-size="39.5" textLength="85.0" lengthAdjust="spacingAndGlyphs">1200</text></g>
<g transform="translate(1387.6,463.2) rotate(-90)"><text x="-139.8" y="0" font-size="41.3" textLength="279.5" lengthAdjust="spacingAndGlyphs">Number of grids</text></g>
<line x1="1529.30" y1="806.25" x2="2334.59" y2="806.25" stroke="#1c191a" stroke-width="4.3" stroke-linecap="round"/>
<line x1="1529.30" y1="806.25" x2="1529.30" y2="831.45" stroke="#1c191a" stroke-width="4.3" stroke-linecap="round"/>
<line x1="1663.52" y1="806.25" x2="1663.52" y2="831.45" stroke="#1c191a" stroke-width="4.3" stroke-linecap="round"/>
<line x1="1797.73" y1="806.25" x2="1797.73" y2="831.45" stroke="#1c191a" stroke-width="4.3" stroke-linecap="round"/>
<line x1="1931.95" y1="806.25" x2="1931.95" y2="831.45" stroke="#1c191a" stroke-width="4.3" stroke-linecap="round"/>
<line x1="2066.16" y1="806.25" x2="2066.16" y2="831.45" stroke="#1c191a" stroke-width="4.3" stroke-linecap="round"/>
<line x1="2200.38" y1="806.25" x2="2200.38" y2="831.45" stroke="#1c191a" stroke-width="4.3" stroke-linecap="round"/>
<line x1="2334.59" y1="806.25" x2="2334.59" y2="831.45" stroke="#1c191a" stroke-width="4.3" stroke-linecap="round"/>
<g transform="translate(1529.3,889.2)"><text x="-60.0" y="0" font-size="39.5" textLength="120.0" lengthAdjust="spacingAndGlyphs">−0.002</text></g>
<g transform="translate(1797.7,889.2)"><text x="-48.0" y="0" font-size="39.5" textLength="96.0" lengthAdjust="spacingAndGlyphs">0.002</text></g>
<g transform="translate(2066.2,889.2)"><text x="-48.0" y="0" font-size="39.5" textLength="96.0" lengthAdjust="spacingAndGlyphs">0.006</text></g>
<g transform="translate(2334.6,889.2)"><text x="-48.0" y="0" font-size="39.5" textLength="96.0" lengthAdjust="spacingAndGlyphs">0.010</text></g>
<g transform="translate(1967.0,942.4)"><text x="-49.5" y="0" font-size="41.3" textLength="99.0" lengthAdjust="spacingAndGlyphs">Slope</text></g>
<g transform="translate(1748.5,69.2)"><text x="0.0" y="0" font-size="51" textLength="362.0" lengthAdjust="spacingAndGlyphs">Trend frequence</text></g>
</g>
<g transform="translate(0,0)">
<g transform="translate(1067.2,164.6)"><text x="-9.8" y="0" font-size="41" textLength="19.5" lengthAdjust="spacingAndGlyphs">A</text></g>
</g>
<g transform="translate(0,0)">
<g transform="translate(2399.8,164.4)"><text x="-11.3" y="0" font-size="41" textLength="22.6" lengthAdjust="spacingAndGlyphs">B</text></g>
</g>
<g transform="translate(0,1007.75)">
<g transform="translate(1072.3,164.5)"><text x="-10.5" y="0" font-size="41" textLength="21.0" lengthAdjust="spacingAndGlyphs">C</text></g>
</g>
<g transform="translate(0,1007.75)">
<g transform="translate(2399.8,164.5)"><text x="-10.4" y="0" font-size="41" textLength="20.8" lengthAdjust="spacingAndGlyphs">D</text></g>
</g>
<g transform="matrix(1,0,0,1.0034,0,2014.71)">
<g transform="translate(1076.4,164.5)"><text x="-9.8" y="0" font-size="41" textLength="19.7" lengthAdjust="spacingAndGlyphs">E</text></g>
</g>
<g transform="matrix(1,0,0,1.0034,0,2014.71)">
<g transform="translate(2403.4,164.5)"><text x="-10.8" y="0" font-size="41" textLength="21.6" lengthAdjust="spacingAndGlyphs">F</text></g>
</g>
</svg></body></html>
